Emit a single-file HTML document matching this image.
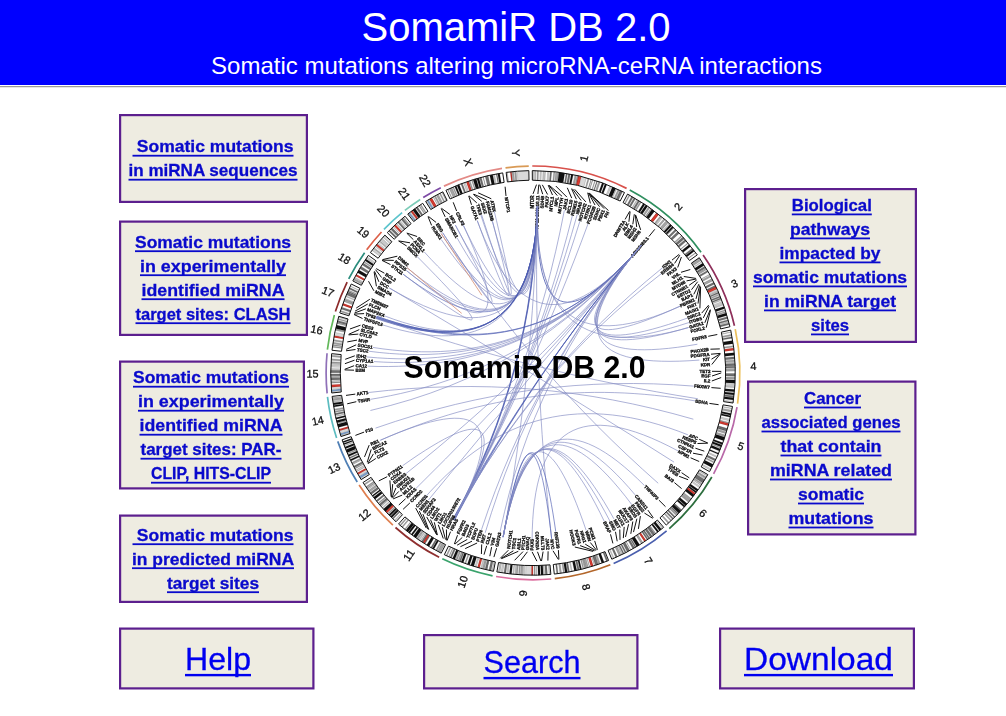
<!DOCTYPE html>
<html lang="en"><head><meta charset="utf-8"><title>SomamiR DB 2.0</title>
<style>
html,body{margin:0;padding:0;background:#fff;}
body{width:1006px;height:716px;overflow:hidden;position:relative;font-family:"Liberation Sans",sans-serif;}
#hdr{position:absolute;left:0;top:0;width:1006px;height:85px;background:#0000ff;color:#fff;}
#hdr h1{position:absolute;left:0;top:0;width:1032px;margin:0;text-align:center;font-weight:normal;font-size:40px;line-height:46px;top:4px;white-space:nowrap;}
#hdr p{position:absolute;left:0;top:51.5px;width:1033px;margin:0;text-align:center;font-size:24px;line-height:28px;white-space:nowrap;}
#rule{position:absolute;left:0;top:86px;width:1006px;height:1px;background:#9a9a9a;}
#rule2{position:absolute;left:0;top:87px;width:1006px;height:1px;background:#e6e6e6;}
#map{position:absolute;left:0;top:0;will-change:transform;}
#map text{font-family:"Liberation Sans",sans-serif;}
#circos{filter:blur(0.3px);}
#menu{filter:blur(0.3px);}
.bx{fill:#eeece1;stroke:#5c1f8e;stroke-width:2.2;}
</style></head><body>
<div id="hdr"><h1>SomamiR DB 2.0</h1><p>Somatic mutations altering microRNA-ceRNA interactions</p></div>
<div id="rule"></div><div id="rule2"></div>

<svg id="map" width="1006" height="716" viewBox="0 0 1006 716">
<g id="circos">
<path d="M532.28,166.00A206.90,206.90 0 0 1 626.58,188.37" fill="none" stroke="#d8514b" stroke-width="1.7"/>
<path d="M532.29,170.60A202.30,202.30 0 0 1 624.50,192.48L620.16,201.04A192.70,192.70 0 0 0 532.33,180.20Z" fill="#fff"/>
<path d="M533.18,170.60A202.30,202.30 0 0 1 534.37,170.60L534.30,180.20A192.70,192.70 0 0 0 533.17,180.20Z" fill="#d2d2d2"/>
<path d="M535.06,170.61A202.30,202.30 0 0 1 535.82,170.62L535.69,180.22A192.70,192.70 0 0 0 534.96,180.21Z" fill="#d2d2d2"/>
<path d="M537.17,170.64A202.30,202.30 0 0 1 538.51,170.68L538.25,180.27A192.70,192.70 0 0 0 536.97,180.24Z" fill="#a4a4a4"/>
<path d="M540.12,170.73A202.30,202.30 0 0 1 541.46,170.78L541.06,180.37A192.70,192.70 0 0 0 539.78,180.32Z" fill="#d2d2d2"/>
<path d="M543.04,170.85A202.30,202.30 0 0 1 543.88,170.89L543.36,180.48A192.70,192.70 0 0 0 542.56,180.44Z" fill="#d2d2d2"/>
<path d="M544.72,170.94A202.30,202.30 0 0 1 545.56,170.99L544.97,180.57A192.70,192.70 0 0 0 544.17,180.52Z" fill="#d2d2d2"/>
<path d="M547.67,171.13A202.30,202.30 0 0 1 549.20,171.25L548.43,180.82A192.70,192.70 0 0 0 546.97,180.71Z" fill="#d2d2d2"/>
<path d="M550.23,171.34A202.30,202.30 0 0 1 551.72,171.47L550.84,181.03A192.70,192.70 0 0 0 549.42,180.90Z" fill="#6e6e6e"/>
<path d="M553.79,171.67A202.30,202.30 0 0 1 554.89,171.79L553.86,181.33A192.70,192.70 0 0 0 552.80,181.22Z" fill="#a4a4a4"/>
<path d="M555.77,171.89A202.30,202.30 0 0 1 558.67,172.23L557.45,181.76A192.70,192.70 0 0 0 554.69,181.42Z" fill="#a4a4a4"/>
<path d="M558.97,172.27A202.30,202.30 0 0 1 564.75,173.11L563.24,182.59A192.70,192.70 0 0 0 557.74,181.79Z" fill="#101010"/>
<path d="M566.07,173.32A202.30,202.30 0 0 1 567.43,173.55L565.80,183.01A192.70,192.70 0 0 0 564.50,182.79Z" fill="#6e6e6e"/>
<path d="M568.45,173.73A202.30,202.30 0 0 1 570.34,174.08L568.57,183.51A192.70,192.70 0 0 0 566.77,183.18Z" fill="#6e6e6e"/>
<path d="M571.28,174.26A202.30,202.30 0 0 1 573.17,174.63L571.26,184.04A192.70,192.70 0 0 0 569.47,183.68Z" fill="#101010"/>
<path d="M574.90,174.99A202.30,202.30 0 0 1 576.51,175.33L574.44,184.71A192.70,192.70 0 0 0 572.91,184.38Z" fill="#a4a4a4"/>
<path d="M577.15,175.48A202.30,202.30 0 0 1 578.19,175.71L576.05,185.07A192.70,192.70 0 0 0 575.05,184.84Z" fill="#a4a4a4"/>
<path d="M578.23,175.72A202.30,202.30 0 0 1 581.59,176.52L579.28,185.84A192.70,192.70 0 0 0 576.08,185.08Z" fill="#d93a30"/>
<path d="M581.29,176.45A202.30,202.30 0 0 1 586.38,177.77L583.85,187.03A192.70,192.70 0 0 0 579.00,185.77Z" fill="#d8d8d8"/>
<path d="M588.01,178.22A202.30,202.30 0 0 1 589.23,178.57L586.56,187.79A192.70,192.70 0 0 0 585.40,187.46Z" fill="#a4a4a4"/>
<path d="M590.96,179.08A202.30,202.30 0 0 1 591.51,179.25L588.73,188.44A192.70,192.70 0 0 0 588.21,188.28Z" fill="#a4a4a4"/>
<path d="M592.46,179.54A202.30,202.30 0 0 1 592.98,179.69L590.13,188.86A192.70,192.70 0 0 0 589.64,188.71Z" fill="#a4a4a4"/>
<path d="M594.81,180.27A202.30,202.30 0 0 1 595.43,180.47L592.46,189.60A192.70,192.70 0 0 0 591.87,189.41Z" fill="#a4a4a4"/>
<path d="M596.78,180.92A202.30,202.30 0 0 1 597.50,181.16L594.44,190.26A192.70,192.70 0 0 0 593.75,190.03Z" fill="#6e6e6e"/>
<path d="M598.63,181.54A202.30,202.30 0 0 1 600.19,182.08L597.00,191.14A192.70,192.70 0 0 0 595.52,190.62Z" fill="#a4a4a4"/>
<path d="M602.18,182.79A202.30,202.30 0 0 1 603.98,183.46L600.61,192.45A192.70,192.70 0 0 0 598.89,191.82Z" fill="#101010"/>
<path d="M605.05,183.87A202.30,202.30 0 0 1 606.81,184.54L603.30,193.48A192.70,192.70 0 0 0 601.63,192.84Z" fill="#101010"/>
<path d="M609.83,185.76A202.30,202.30 0 0 1 611.36,186.39L607.64,195.24A192.70,192.70 0 0 0 606.19,194.64Z" fill="#d2d2d2"/>
<path d="M612.42,186.84A202.30,202.30 0 0 1 615.79,188.32L611.87,197.08A192.70,192.70 0 0 0 608.65,195.67Z" fill="#101010"/>
<path d="M615.97,188.40A202.30,202.30 0 0 1 616.81,188.78L612.83,197.51A192.70,192.70 0 0 0 612.03,197.15Z" fill="#d2d2d2"/>
<path d="M618.10,189.37A202.30,202.30 0 0 1 619.49,190.02L615.38,198.70A192.70,192.70 0 0 0 614.06,198.08Z" fill="#a4a4a4"/>
<path d="M620.15,190.33A202.30,202.30 0 0 1 622.60,191.52L618.35,200.13A192.70,192.70 0 0 0 616.01,199.00Z" fill="#6e6e6e"/>
<path d="M533.2,170.6L533.2,180.2M534.4,170.6L534.3,180.2M535.1,170.6L535.0,180.2M535.8,170.6L535.7,180.2M537.2,170.6L537.0,180.2M538.5,170.7L538.2,180.3M540.1,170.7L539.8,180.3M541.5,170.8L541.1,180.4M543.0,170.8L542.6,180.4M543.9,170.9L543.4,180.5M544.7,170.9L544.2,180.5M545.6,171.0L545.0,180.6M547.7,171.1L547.0,180.7M549.2,171.2L548.4,180.8M550.2,171.3L549.4,180.9M551.7,171.5L550.8,181.0M553.8,171.7L552.8,181.2M554.9,171.8L553.9,181.3M555.8,171.9L554.7,181.4M558.7,172.2L557.4,181.8M559.0,172.3L557.7,181.8M564.7,173.1L563.2,182.6M566.1,173.3L564.5,182.8M567.4,173.6L565.8,183.0M568.5,173.7L566.8,183.2M570.3,174.1L568.6,183.5M571.3,174.3L569.5,183.7M573.2,174.6L571.3,184.0M574.9,175.0L572.9,184.4M576.5,175.3L574.4,184.7M577.1,175.5L575.1,184.8M578.2,175.7L576.0,185.1M578.5,175.8L576.4,185.1M581.3,176.4L579.0,185.8M586.4,177.8L583.8,187.0M588.0,178.2L585.4,187.5M589.2,178.6L586.6,187.8M591.0,179.1L588.2,188.3M591.5,179.2L588.7,188.4M592.5,179.5L589.6,188.7M593.0,179.7L590.1,188.9M594.8,180.3L591.9,189.4M595.4,180.5L592.5,189.6M596.8,180.9L593.7,190.0M597.5,181.2L594.4,190.3M598.6,181.5L595.5,190.6M600.2,182.1L597.0,191.1M602.2,182.8L598.9,191.8M604.0,183.5L600.6,192.4M605.1,183.9L601.6,192.8M606.8,184.5L603.3,193.5M609.8,185.8L606.2,194.6M611.4,186.4L607.6,195.2M612.4,186.8L608.7,195.7M615.8,188.3L611.9,197.1M616.0,188.4L612.0,197.2M616.8,188.8L612.8,197.5M618.1,189.4L614.1,198.1M619.5,190.0L615.4,198.7M620.1,190.3L616.0,199.0M622.6,191.5L618.3,200.1" stroke="#000" stroke-opacity="0.3" stroke-width="0.5" fill="none"/>
<path d="M532.29,170.60A202.30,202.30 0 0 1 624.50,192.48L620.16,201.04A192.70,192.70 0 0 0 532.33,180.20Z" fill="none" stroke="#111" stroke-width="1.0"/>
<text x="583.9" y="158.4" transform="rotate(-76.7 583.9 158.4)" font-size="10.9" text-anchor="middle" dominant-baseline="central" fill="#111" stroke="#111" stroke-width="0.3">1</text>
<path d="M629.73,190.00A206.90,206.90 0 0 1 701.03,252.19" fill="none" stroke="#2f8f5f" stroke-width="1.7"/>
<path d="M627.58,194.07A202.30,202.30 0 0 1 697.30,254.87L689.50,260.47A192.70,192.70 0 0 0 623.09,202.55Z" fill="#fff"/>
<path d="M629.06,194.86A202.30,202.30 0 0 1 629.98,195.36L625.37,203.78A192.70,192.70 0 0 0 624.51,203.31Z" fill="#a4a4a4"/>
<path d="M631.69,196.30A202.30,202.30 0 0 1 633.19,197.15L628.44,205.49A192.70,192.70 0 0 0 627.01,204.69Z" fill="#6e6e6e"/>
<path d="M634.03,197.63A202.30,202.30 0 0 1 635.62,198.56L630.75,206.83A192.70,192.70 0 0 0 629.23,205.95Z" fill="#6e6e6e"/>
<path d="M636.90,199.32A202.30,202.30 0 0 1 637.59,199.74L632.63,207.95A192.70,192.70 0 0 0 631.97,207.56Z" fill="#d2d2d2"/>
<path d="M638.28,200.16A202.30,202.30 0 0 1 639.75,201.06L634.69,209.22A192.70,192.70 0 0 0 633.29,208.35Z" fill="#6e6e6e"/>
<path d="M640.41,201.47A202.30,202.30 0 0 1 641.44,202.12L636.30,210.23A192.70,192.70 0 0 0 635.31,209.60Z" fill="#a4a4a4"/>
<path d="M643.38,203.37A202.30,202.30 0 0 1 645.02,204.44L639.70,212.44A192.70,192.70 0 0 0 638.14,211.41Z" fill="#101010"/>
<path d="M645.69,204.89A202.30,202.30 0 0 1 647.69,206.25L642.24,214.16A192.70,192.70 0 0 0 640.34,212.86Z" fill="#101010"/>
<path d="M648.57,206.86A202.30,202.30 0 0 1 649.98,207.85L644.43,215.69A192.70,192.70 0 0 0 643.09,214.74Z" fill="#a4a4a4"/>
<path d="M650.89,208.50A202.30,202.30 0 0 1 651.51,208.95L645.89,216.73A192.70,192.70 0 0 0 645.30,216.30Z" fill="#a4a4a4"/>
<path d="M651.98,209.29A202.30,202.30 0 0 1 654.54,211.18L648.77,218.85A192.70,192.70 0 0 0 646.33,217.05Z" fill="#101010"/>
<path d="M656.49,212.67A202.30,202.30 0 0 1 658.88,214.54L652.91,222.05A192.70,192.70 0 0 0 650.63,220.27Z" fill="#d93a30"/>
<path d="M660.41,215.76A202.30,202.30 0 0 1 661.39,216.56L655.30,223.98A192.70,192.70 0 0 0 654.36,223.22Z" fill="#a4a4a4"/>
<path d="M661.83,216.93A202.30,202.30 0 0 1 662.63,217.59L656.48,224.96A192.70,192.70 0 0 0 655.72,224.33Z" fill="#d2d2d2"/>
<path d="M663.86,218.63A202.30,202.30 0 0 1 665.15,219.73L658.88,226.99A192.70,192.70 0 0 0 657.65,225.95Z" fill="#a4a4a4"/>
<path d="M666.19,220.63A202.30,202.30 0 0 1 668.34,222.54L661.92,229.68A192.70,192.70 0 0 0 659.87,227.86Z" fill="#a4a4a4"/>
<path d="M669.08,223.21A202.30,202.30 0 0 1 669.82,223.88L663.33,230.96A192.70,192.70 0 0 0 662.63,230.32Z" fill="#d2d2d2"/>
<path d="M670.30,224.33A202.30,202.30 0 0 1 671.81,225.74L665.23,232.72A192.70,192.70 0 0 0 663.78,231.38Z" fill="#101010"/>
<path d="M672.34,226.24A202.30,202.30 0 0 1 673.62,227.46L666.95,234.37A192.70,192.70 0 0 0 665.73,233.20Z" fill="#101010"/>
<path d="M673.95,227.78A202.30,202.30 0 0 1 674.11,227.95L667.42,234.82A192.70,192.70 0 0 0 667.26,234.67Z" fill="#d2d2d2"/>
<path d="M675.32,229.13A202.30,202.30 0 0 1 676.65,230.46L669.83,237.22A192.70,192.70 0 0 0 668.57,235.95Z" fill="#6e6e6e"/>
<path d="M677.70,231.52A202.30,202.30 0 0 1 679.30,233.18L672.36,239.81A192.70,192.70 0 0 0 670.83,238.23Z" fill="#6e6e6e"/>
<path d="M681.48,235.50A202.30,202.30 0 0 1 682.16,236.23L675.08,242.72A192.70,192.70 0 0 0 674.44,242.02Z" fill="#a4a4a4"/>
<path d="M682.78,236.92A202.30,202.30 0 0 1 684.42,238.74L677.23,245.11A192.70,192.70 0 0 0 675.67,243.37Z" fill="#6e6e6e"/>
<path d="M685.05,239.46A202.30,202.30 0 0 1 686.44,241.06L679.16,247.31A192.70,192.70 0 0 0 677.84,245.80Z" fill="#6e6e6e"/>
<path d="M687.90,242.78A202.30,202.30 0 0 1 688.30,243.25L680.93,249.41A192.70,192.70 0 0 0 680.55,248.96Z" fill="#a4a4a4"/>
<path d="M689.30,244.47A202.30,202.30 0 0 1 690.82,246.34L683.34,252.35A192.70,192.70 0 0 0 681.88,250.56Z" fill="#101010"/>
<path d="M692.30,248.21A202.30,202.30 0 0 1 693.17,249.33L685.57,255.19A192.70,192.70 0 0 0 684.74,254.13Z" fill="#6e6e6e"/>
<path d="M693.38,249.60A202.30,202.30 0 0 1 694.52,251.10L686.86,256.88A192.70,192.70 0 0 0 685.77,255.45Z" fill="#101010"/>
<path d="M695.58,252.51A202.30,202.30 0 0 1 695.97,253.04L688.23,258.73A192.70,192.70 0 0 0 687.86,258.23Z" fill="#a4a4a4"/>
<path d="M629.1,194.9L624.5,203.3M630.0,195.4L625.4,203.8M631.7,196.3L627.0,204.7M633.2,197.2L628.4,205.5M634.0,197.6L629.2,205.9M635.6,198.6L630.7,206.8M636.9,199.3L632.0,207.6M637.6,199.7L632.6,208.0M638.3,200.2L633.3,208.4M639.8,201.1L634.7,209.2M640.4,201.5L635.3,209.6M641.4,202.1L636.3,210.2M643.4,203.4L638.1,211.4M645.0,204.4L639.7,212.4M645.7,204.9L640.3,212.9M647.7,206.2L642.2,214.2M648.6,206.9L643.1,214.7M650.0,207.9L644.4,215.7M650.9,208.5L645.3,216.3M651.5,208.9L645.9,216.7M652.0,209.3L646.3,217.1M654.5,211.2L648.8,218.9M656.7,212.9L650.9,220.5M658.6,214.3L652.7,221.9M660.4,215.8L654.4,223.2M661.4,216.6L655.3,224.0M661.8,216.9L655.7,224.3M662.6,217.6L656.5,225.0M663.9,218.6L657.7,225.9M665.1,219.7L658.9,227.0M666.2,220.6L659.9,227.9M668.3,222.5L661.9,229.7M669.1,223.2L662.6,230.3M669.8,223.9L663.3,231.0M670.3,224.3L663.8,231.4M671.8,225.7L665.2,232.7M672.3,226.2L665.7,233.2M673.6,227.5L666.9,234.4M673.9,227.8L667.3,234.7M674.1,227.9L667.4,234.8M675.3,229.1L668.6,236.0M676.7,230.5L669.8,237.2M677.7,231.5L670.8,238.2M679.3,233.2L672.4,239.8M681.5,235.5L674.4,242.0M682.2,236.2L675.1,242.7M682.8,236.9L675.7,243.4M684.4,238.7L677.2,245.1M685.1,239.5L677.8,245.8M686.4,241.1L679.2,247.3M687.9,242.8L680.6,249.0M688.3,243.3L680.9,249.4M689.3,244.5L681.9,250.6M690.8,246.3L683.3,252.3M692.3,248.2L684.7,254.1M693.2,249.3L685.6,255.2M693.4,249.6L685.8,255.5M694.5,251.1L686.9,256.9M695.6,252.5L687.9,258.2M696.0,253.0L688.2,258.7" stroke="#000" stroke-opacity="0.3" stroke-width="0.5" fill="none"/>
<path d="M627.58,194.07A202.30,202.30 0 0 1 697.30,254.87L689.50,260.47A192.70,192.70 0 0 0 623.09,202.55Z" fill="none" stroke="#111" stroke-width="1.0"/>
<text x="677.9" y="206.7" transform="rotate(-48.9 677.9 206.7)" font-size="10.9" text-anchor="middle" dominant-baseline="central" fill="#111" stroke="#111" stroke-width="0.3">2</text>
<path d="M703.07,255.08A206.90,206.90 0 0 1 734.44,325.69" fill="none" stroke="#8e2f5a" stroke-width="1.7"/>
<path d="M699.29,257.70A202.30,202.30 0 0 1 729.96,326.74L720.62,328.93A192.70,192.70 0 0 0 691.40,263.16Z" fill="#fff"/>
<path d="M699.29,257.70A202.30,202.30 0 0 1 699.90,258.58L691.98,264.01A192.70,192.70 0 0 0 691.40,263.16Z" fill="#a4a4a4"/>
<path d="M700.16,258.96A202.30,202.30 0 0 1 701.17,260.46L693.19,265.79A192.70,192.70 0 0 0 692.23,264.37Z" fill="#a4a4a4"/>
<path d="M701.83,261.45A202.30,202.30 0 0 1 702.15,261.93L694.12,267.19A192.70,192.70 0 0 0 693.82,266.74Z" fill="#d2d2d2"/>
<path d="M702.80,262.93A202.30,202.30 0 0 1 704.34,265.35L696.21,270.46A192.70,192.70 0 0 0 694.74,268.14Z" fill="#101010"/>
<path d="M704.85,266.17A202.30,202.30 0 0 1 705.76,267.64L697.56,272.63A192.70,192.70 0 0 0 696.70,271.23Z" fill="#6e6e6e"/>
<path d="M706.00,268.03A202.30,202.30 0 0 1 706.87,269.48L698.61,274.39A192.70,192.70 0 0 0 697.79,273.01Z" fill="#a4a4a4"/>
<path d="M707.43,270.44A202.30,202.30 0 0 1 708.26,271.86L699.94,276.66A192.70,192.70 0 0 0 699.15,275.30Z" fill="#6e6e6e"/>
<path d="M709.57,274.17A202.30,202.30 0 0 1 709.89,274.74L701.49,279.39A192.70,192.70 0 0 0 701.19,278.85Z" fill="#d2d2d2"/>
<path d="M710.28,275.44A202.30,202.30 0 0 1 711.05,276.86L702.60,281.41A192.70,192.70 0 0 0 701.86,280.07Z" fill="#a4a4a4"/>
<path d="M711.97,278.58A202.30,202.30 0 0 1 713.05,280.66L704.50,285.04A192.70,192.70 0 0 0 703.48,283.06Z" fill="#a4a4a4"/>
<path d="M713.81,282.17A202.30,202.30 0 0 1 714.77,284.09L706.14,288.31A192.70,192.70 0 0 0 705.23,286.47Z" fill="#6e6e6e"/>
<path d="M715.38,285.37A202.30,202.30 0 0 1 715.99,286.65L707.31,290.75A192.70,192.70 0 0 0 706.73,289.52Z" fill="#6e6e6e"/>
<path d="M715.98,286.62A202.30,202.30 0 0 1 717.20,289.27L708.46,293.23A192.70,192.70 0 0 0 707.29,290.71Z" fill="#d93a30"/>
<path d="M717.08,288.99A202.30,202.30 0 0 1 717.77,290.53L709.00,294.43A192.70,192.70 0 0 0 708.34,292.97Z" fill="#d8d8d8"/>
<path d="M718.03,291.12A202.30,202.30 0 0 1 718.17,291.44L709.39,295.30A192.70,192.70 0 0 0 709.25,295.00Z" fill="#d2d2d2"/>
<path d="M718.47,292.11A202.30,202.30 0 0 1 718.98,293.30L710.16,297.08A192.70,192.70 0 0 0 709.66,295.94Z" fill="#6e6e6e"/>
<path d="M719.24,293.90A202.30,202.30 0 0 1 719.74,295.11L710.88,298.80A192.70,192.70 0 0 0 710.40,297.65Z" fill="#a4a4a4"/>
<path d="M720.07,295.89A202.30,202.30 0 0 1 720.62,297.24L711.71,300.83A192.70,192.70 0 0 0 711.19,299.54Z" fill="#6e6e6e"/>
<path d="M720.86,297.84A202.30,202.30 0 0 1 721.27,298.88L712.34,302.39A192.70,192.70 0 0 0 711.95,301.40Z" fill="#6e6e6e"/>
<path d="M721.54,299.56A202.30,202.30 0 0 1 721.81,300.27L712.85,303.72A192.70,192.70 0 0 0 712.59,303.04Z" fill="#d2d2d2"/>
<path d="M722.28,301.49A202.30,202.30 0 0 1 722.88,303.11L713.87,306.42A192.70,192.70 0 0 0 713.30,304.88Z" fill="#d2d2d2"/>
<path d="M723.14,303.83A202.30,202.30 0 0 1 723.53,304.91L714.49,308.14A192.70,192.70 0 0 0 714.12,307.11Z" fill="#d2d2d2"/>
<path d="M724.06,306.40A202.30,202.30 0 0 1 724.81,308.61L715.71,311.66A192.70,192.70 0 0 0 714.99,309.55Z" fill="#101010"/>
<path d="M725.20,309.78A202.30,202.30 0 0 1 725.55,310.84L716.41,313.78A192.70,192.70 0 0 0 716.08,312.77Z" fill="#a4a4a4"/>
<path d="M725.78,311.57A202.30,202.30 0 0 1 726.01,312.30L716.85,315.18A192.70,192.70 0 0 0 716.63,314.48Z" fill="#a4a4a4"/>
<path d="M726.20,312.92A202.30,202.30 0 0 1 726.97,315.46L717.77,318.18A192.70,192.70 0 0 0 717.04,315.77Z" fill="#101010"/>
<path d="M727.33,316.67A202.30,202.30 0 0 1 727.83,318.45L718.59,321.03A192.70,192.70 0 0 0 718.11,319.34Z" fill="#6e6e6e"/>
<path d="M728.17,319.67A202.30,202.30 0 0 1 728.54,321.04L719.26,323.50A192.70,192.70 0 0 0 718.91,322.19Z" fill="#6e6e6e"/>
<path d="M728.72,321.71A202.30,202.30 0 0 1 728.86,322.26L719.57,324.67A192.70,192.70 0 0 0 719.43,324.13Z" fill="#d2d2d2"/>
<path d="M729.04,322.97A202.30,202.30 0 0 1 729.45,324.61L720.13,326.90A192.70,192.70 0 0 0 719.74,325.34Z" fill="#6e6e6e"/>
<path d="M699.9,258.6L692.0,264.0M700.2,259.0L692.2,264.4M701.2,260.5L693.2,265.8M701.8,261.4L693.8,266.7M702.1,261.9L694.1,267.2M702.8,262.9L694.7,268.1M704.3,265.4L696.2,270.5M704.9,266.2L696.7,271.2M705.8,267.6L697.6,272.6M706.0,268.0L697.8,273.0M706.9,269.5L698.6,274.4M707.4,270.4L699.2,275.3M708.3,271.9L699.9,276.7M709.6,274.2L701.2,278.9M709.9,274.7L701.5,279.4M710.3,275.4L701.9,280.1M711.0,276.9L702.6,281.4M712.0,278.6L703.5,283.1M713.0,280.7L704.5,285.0M713.8,282.2L705.2,286.5M714.8,284.1L706.1,288.3M715.4,285.4L706.7,289.5M716.0,286.7L707.3,290.7M716.1,286.9L707.4,291.0M717.1,289.0L708.3,293.0M717.8,290.5L709.0,294.4M718.0,291.1L709.3,295.0M718.2,291.4L709.4,295.3M718.5,292.1L709.7,295.9M719.0,293.3L710.2,297.1M719.2,293.9L710.4,297.7M719.7,295.1L710.9,298.8M720.1,295.9L711.2,299.5M720.6,297.2L711.7,300.8M720.9,297.8L711.9,301.4M721.3,298.9L712.3,302.4M721.5,299.6L712.6,303.0M721.8,300.3L712.9,303.7M722.3,301.5L713.3,304.9M722.9,303.1L713.9,306.4M723.1,303.8L714.1,307.1M723.5,304.9L714.5,308.1M724.1,306.4L715.0,309.6M724.8,308.6L715.7,311.7M725.2,309.8L716.1,312.8M725.5,310.8L716.4,313.8M725.8,311.6L716.6,314.5M726.0,312.3L716.9,315.2M726.2,312.9L717.0,315.8M727.0,315.5L717.8,318.2M727.3,316.7L718.1,319.3M727.8,318.4L718.6,321.0M728.2,319.7L718.9,322.2M728.5,321.0L719.3,323.5M728.7,321.7L719.4,324.1M728.9,322.3L719.6,324.7M729.0,323.0L719.7,325.3M729.5,324.6L720.1,326.9" stroke="#000" stroke-opacity="0.3" stroke-width="0.5" fill="none"/>
<path d="M699.29,257.70A202.30,202.30 0 0 1 729.96,326.74L720.62,328.93A192.70,192.70 0 0 0 691.40,263.16Z" fill="none" stroke="#111" stroke-width="1.0"/>
<text x="734.5" y="283.4" transform="rotate(-24.0 734.5 283.4)" font-size="10.9" text-anchor="middle" dominant-baseline="central" fill="#111" stroke="#111" stroke-width="0.3">3</text>
<path d="M735.22,329.14A206.90,206.90 0 0 1 737.59,403.72" fill="none" stroke="#ecc05c" stroke-width="1.7"/>
<path d="M730.72,330.12A202.30,202.30 0 0 1 733.04,403.04L723.55,401.61A192.70,192.70 0 0 0 721.34,332.15Z" fill="#fff"/>
<path d="M731.08,331.81A202.30,202.30 0 0 1 731.20,332.37L721.79,334.29A192.70,192.70 0 0 0 721.68,333.76Z" fill="#d2d2d2"/>
<path d="M731.60,334.36A202.30,202.30 0 0 1 731.88,335.83L722.44,337.59A192.70,192.70 0 0 0 722.17,336.19Z" fill="#a4a4a4"/>
<path d="M732.06,336.82A202.30,202.30 0 0 1 732.29,338.14L722.83,339.79A192.70,192.70 0 0 0 722.61,338.53Z" fill="#6e6e6e"/>
<path d="M732.70,340.56A202.30,202.30 0 0 1 733.17,343.63L723.67,345.02A192.70,192.70 0 0 0 723.22,342.10Z" fill="#101010"/>
<path d="M733.46,345.69A202.30,202.30 0 0 1 733.63,346.98L724.11,348.21A192.70,192.70 0 0 0 723.95,346.98Z" fill="#a4a4a4"/>
<path d="M733.77,348.04A202.30,202.30 0 0 1 734.04,350.37L724.50,351.44A192.70,192.70 0 0 0 724.24,349.22Z" fill="#d93a30"/>
<path d="M734.28,352.66A202.30,202.30 0 0 1 734.54,355.37L724.98,356.20A192.70,192.70 0 0 0 724.73,353.62Z" fill="#101010"/>
<path d="M734.66,356.86A202.30,202.30 0 0 1 734.83,359.08L725.25,359.74A192.70,192.70 0 0 0 725.09,357.63Z" fill="#6e6e6e"/>
<path d="M734.89,360.08A202.30,202.30 0 0 1 734.97,361.42L725.39,361.97A192.70,192.70 0 0 0 725.31,360.69Z" fill="#a4a4a4"/>
<path d="M735.01,362.07A202.30,202.30 0 0 1 735.06,363.15L725.48,363.61A192.70,192.70 0 0 0 725.42,362.59Z" fill="#d2d2d2"/>
<path d="M735.08,363.57A202.30,202.30 0 0 1 735.17,365.75L725.58,366.09A192.70,192.70 0 0 0 725.49,364.01Z" fill="#6e6e6e"/>
<path d="M735.19,366.29A202.30,202.30 0 0 1 735.23,367.71L725.64,367.96A192.70,192.70 0 0 0 725.60,366.60Z" fill="#6e6e6e"/>
<path d="M735.25,368.59A202.30,202.30 0 0 1 735.29,371.12L725.69,371.21A192.70,192.70 0 0 0 725.66,368.80Z" fill="#a4a4a4"/>
<path d="M735.30,373.58A202.30,202.30 0 0 1 735.27,376.15L725.68,376.00A192.70,192.70 0 0 0 725.70,373.55Z" fill="#6e6e6e"/>
<path d="M735.25,377.30A202.30,202.30 0 0 1 735.20,379.22L725.61,378.92A192.70,192.70 0 0 0 725.65,377.09Z" fill="#a4a4a4"/>
<path d="M735.17,380.10A202.30,202.30 0 0 1 735.03,383.32L725.44,382.83A192.70,192.70 0 0 0 725.58,379.76Z" fill="#101010"/>
<path d="M734.99,384.09A202.30,202.30 0 0 1 734.87,386.12L725.29,385.49A192.70,192.70 0 0 0 725.40,383.56Z" fill="#d2d2d2"/>
<path d="M734.82,386.77A202.30,202.30 0 0 1 734.75,387.77L725.18,387.06A192.70,192.70 0 0 0 725.25,386.11Z" fill="#d2d2d2"/>
<path d="M734.62,389.49A202.30,202.30 0 0 1 734.41,391.86L724.85,390.96A192.70,192.70 0 0 0 725.05,388.70Z" fill="#101010"/>
<path d="M734.31,392.89A202.30,202.30 0 0 1 734.09,395.03L724.54,393.98A192.70,192.70 0 0 0 724.76,391.94Z" fill="#101010"/>
<path d="M734.01,395.71A202.30,202.30 0 0 1 733.81,397.39L724.28,396.23A192.70,192.70 0 0 0 724.47,394.63Z" fill="#6e6e6e"/>
<path d="M733.76,397.85A202.30,202.30 0 0 1 733.47,400.02L723.96,398.73A192.70,192.70 0 0 0 724.23,396.66Z" fill="#101010"/>
<path d="M733.27,401.50A202.30,202.30 0 0 1 733.04,403.04L723.55,401.61A192.70,192.70 0 0 0 723.76,400.14Z" fill="#d2d2d2"/>
<path d="M731.1,331.8L721.7,333.8M731.2,332.4L721.8,334.3M731.6,334.4L722.2,336.2M731.9,335.8L722.4,337.6M732.1,336.8L722.6,338.5M732.3,338.1L722.8,339.8M732.7,340.6L723.2,342.1M733.2,343.6L723.7,345.0M733.5,345.7L723.9,347.0M733.6,347.0L724.1,348.2M733.8,348.3L724.3,349.5M734.0,350.1L724.5,351.1M734.3,352.7L724.7,353.6M734.5,355.4L725.0,356.2M734.7,356.9L725.1,357.6M734.8,359.1L725.3,359.7M734.9,360.1L725.3,360.7M735.0,361.4L725.4,362.0M735.0,362.1L725.4,362.6M735.1,363.1L725.5,363.6M735.1,363.6L725.5,364.0M735.2,365.8L725.6,366.1M735.2,366.3L725.6,366.6M735.2,367.7L725.6,368.0M735.3,368.6L725.7,368.8M735.3,371.1L725.7,371.2M735.3,373.6L725.7,373.5M735.3,376.2L725.7,376.0M735.3,377.3L725.7,377.1M735.2,379.2L725.6,378.9M735.2,380.1L725.6,379.8M735.0,383.3L725.4,382.8M735.0,384.1L725.4,383.6M734.9,386.1L725.3,385.5M734.8,386.8L725.2,386.1M734.8,387.8L725.2,387.1M734.6,389.5L725.1,388.7M734.4,391.9L724.9,391.0M734.3,392.9L724.8,391.9M734.1,395.0L724.5,394.0M734.0,395.7L724.5,394.6M733.8,397.4L724.3,396.2M733.8,397.8L724.2,396.7M733.5,400.0L724.0,398.7M733.3,401.5L723.8,400.1" stroke="#000" stroke-opacity="0.3" stroke-width="0.5" fill="none"/>
<path d="M730.72,330.12A202.30,202.30 0 0 1 733.04,403.04L723.55,401.61A192.70,192.70 0 0 0 721.34,332.15Z" fill="none" stroke="#111" stroke-width="1.0"/>
<text x="753.4" y="365.9" transform="rotate(-1.8 753.4 365.9)" font-size="10.9" text-anchor="middle" dominant-baseline="central" fill="#111" stroke="#111" stroke-width="0.3">4</text>
<path d="M737.03,407.22A206.90,206.90 0 0 1 713.59,473.88" fill="none" stroke="#b868a8" stroke-width="1.7"/>
<path d="M732.50,406.45A202.30,202.30 0 0 1 709.57,471.63L701.19,466.95A192.70,192.70 0 0 0 723.03,404.86Z" fill="#fff"/>
<path d="M732.20,408.16A202.30,202.30 0 0 1 732.08,408.84L722.64,407.13A192.70,192.70 0 0 0 722.75,406.48Z" fill="#d2d2d2"/>
<path d="M731.84,410.16A202.30,202.30 0 0 1 731.46,412.12L722.04,410.26A192.70,192.70 0 0 0 722.40,408.39Z" fill="#a4a4a4"/>
<path d="M731.21,413.40A202.30,202.30 0 0 1 730.82,415.24L721.43,413.23A192.70,192.70 0 0 0 721.80,411.47Z" fill="#101010"/>
<path d="M730.72,415.72A202.30,202.30 0 0 1 730.36,417.34L720.99,415.23A192.70,192.70 0 0 0 721.33,413.69Z" fill="#101010"/>
<path d="M729.94,419.17A202.30,202.30 0 0 1 729.53,420.89L720.20,418.61A192.70,192.70 0 0 0 720.59,416.97Z" fill="#d2d2d2"/>
<path d="M729.15,422.41A202.30,202.30 0 0 1 728.80,423.75L719.51,421.34A192.70,192.70 0 0 0 719.84,420.06Z" fill="#a4a4a4"/>
<path d="M728.88,423.45A202.30,202.30 0 0 1 728.27,425.75L719.01,423.25A192.70,192.70 0 0 0 719.59,421.06Z" fill="#d93a30"/>
<path d="M727.51,428.49A202.30,202.30 0 0 1 727.08,429.96L717.87,427.26A192.70,192.70 0 0 0 718.28,425.85Z" fill="#6e6e6e"/>
<path d="M727.05,430.08A202.30,202.30 0 0 1 726.67,431.36L717.48,428.59A192.70,192.70 0 0 0 717.84,427.36Z" fill="#6e6e6e"/>
<path d="M726.48,431.99A202.30,202.30 0 0 1 725.92,433.78L716.77,430.89A192.70,192.70 0 0 0 717.30,429.18Z" fill="#a4a4a4"/>
<path d="M725.50,435.10A202.30,202.30 0 0 1 724.96,436.74L715.85,433.71A192.70,192.70 0 0 0 716.37,432.15Z" fill="#a4a4a4"/>
<path d="M724.79,437.25A202.30,202.30 0 0 1 723.60,440.70L714.56,437.48A192.70,192.70 0 0 0 715.69,434.20Z" fill="#101010"/>
<path d="M722.83,442.82A202.30,202.30 0 0 1 722.21,444.48L713.23,441.08A192.70,192.70 0 0 0 713.82,439.51Z" fill="#101010"/>
<path d="M721.98,445.09A202.30,202.30 0 0 1 721.27,446.91L712.34,443.40A192.70,192.70 0 0 0 713.01,441.66Z" fill="#101010"/>
<path d="M721.01,447.59A202.30,202.30 0 0 1 720.78,448.16L711.87,444.59A192.70,192.70 0 0 0 712.08,444.05Z" fill="#a4a4a4"/>
<path d="M720.48,448.91A202.30,202.30 0 0 1 719.57,451.11L710.72,447.40A192.70,192.70 0 0 0 711.58,445.30Z" fill="#101010"/>
<path d="M718.68,453.19A202.30,202.30 0 0 1 718.18,454.35L709.39,450.49A192.70,192.70 0 0 0 709.87,449.38Z" fill="#101010"/>
<path d="M717.30,456.32A202.30,202.30 0 0 1 716.78,457.47L708.05,453.46A192.70,192.70 0 0 0 708.56,452.36Z" fill="#d2d2d2"/>
<path d="M715.97,459.21A202.30,202.30 0 0 1 715.09,461.04L706.45,456.86A192.70,192.70 0 0 0 707.28,455.11Z" fill="#6e6e6e"/>
<path d="M714.60,462.04A202.30,202.30 0 0 1 714.09,463.08L705.50,458.80A192.70,192.70 0 0 0 705.98,457.81Z" fill="#a4a4a4"/>
<path d="M713.37,464.52A202.30,202.30 0 0 1 711.85,467.45L703.36,462.96A192.70,192.70 0 0 0 704.81,460.17Z" fill="#101010"/>
<path d="M711.07,468.90A202.30,202.30 0 0 1 710.37,470.18L701.96,465.57A192.70,192.70 0 0 0 702.62,464.35Z" fill="#d2d2d2"/>
<path d="M732.2,408.2L722.8,406.5M732.1,408.8L722.6,407.1M731.8,410.2L722.4,408.4M731.5,412.1L722.0,410.3M731.2,413.4L721.8,411.5M730.8,415.2L721.4,413.2M730.7,415.7L721.3,413.7M730.4,417.3L721.0,415.2M729.9,419.2L720.6,417.0M729.5,420.9L720.2,418.6M729.1,422.4L719.8,420.1M728.8,423.8L719.5,421.3M728.4,425.5L719.1,423.0M727.5,428.5L718.3,425.9M727.1,430.0L717.9,427.3M727.1,430.1L717.8,427.4M726.7,431.4L717.5,428.6M726.5,432.0L717.3,429.2M725.9,433.8L716.8,430.9M725.5,435.1L716.4,432.1M725.0,436.7L715.9,433.7M724.8,437.2L715.7,434.2M723.6,440.7L714.6,437.5M722.8,442.8L713.8,439.5M722.2,444.5L713.2,441.1M722.0,445.1L713.0,441.7M721.3,446.9L712.3,443.4M721.0,447.6L712.1,444.0M720.8,448.2L711.9,444.6M720.5,448.9L711.6,445.3M719.6,451.1L710.7,447.4M718.7,453.2L709.9,449.4M718.2,454.4L709.4,450.5M717.3,456.3L708.6,452.4M716.8,457.5L708.1,453.5M716.0,459.2L707.3,455.1M715.1,461.0L706.4,456.9M714.6,462.0L706.0,457.8M714.1,463.1L705.5,458.8M713.4,464.5L704.8,460.2M711.8,467.4L703.4,463.0M711.1,468.9L702.6,464.3M710.4,470.2L702.0,465.6" stroke="#000" stroke-opacity="0.3" stroke-width="0.5" fill="none"/>
<path d="M732.50,406.45A202.30,202.30 0 0 1 709.57,471.63L701.19,466.95A192.70,192.70 0 0 0 723.03,404.86Z" fill="none" stroke="#111" stroke-width="1.0"/>
<text x="741.0" y="446.1" transform="rotate(19.4 741.0 446.1)" font-size="10.9" text-anchor="middle" dominant-baseline="central" fill="#111" stroke="#111" stroke-width="0.3">5</text>
<path d="M711.83,476.95A206.90,206.90 0 0 1 669.30,528.56" fill="none" stroke="#2d6e3e" stroke-width="1.7"/>
<path d="M707.86,474.64A202.30,202.30 0 0 1 666.27,525.10L659.95,517.87A192.70,192.70 0 0 0 699.56,469.81Z" fill="#fff"/>
<path d="M707.41,475.40A202.30,202.30 0 0 1 707.04,476.03L698.78,471.13A192.70,192.70 0 0 0 699.13,470.54Z" fill="#d2d2d2"/>
<path d="M706.47,476.98A202.30,202.30 0 0 1 705.78,478.13L697.58,473.14A192.70,192.70 0 0 0 698.24,472.04Z" fill="#a4a4a4"/>
<path d="M705.58,478.46A202.30,202.30 0 0 1 705.21,479.05L697.04,474.01A192.70,192.70 0 0 0 697.39,473.45Z" fill="#d2d2d2"/>
<path d="M704.85,479.64A202.30,202.30 0 0 1 702.79,482.88L694.74,477.66A192.70,192.70 0 0 0 696.70,474.57Z" fill="#6e6e6e"/>
<path d="M702.42,483.46A202.30,202.30 0 0 1 701.70,484.55L693.70,479.25A192.70,192.70 0 0 0 694.38,478.21Z" fill="#a4a4a4"/>
<path d="M701.34,485.09A202.30,202.30 0 0 1 701.04,485.54L693.07,480.19A192.70,192.70 0 0 0 693.35,479.77Z" fill="#d2d2d2"/>
<path d="M700.38,486.52A202.30,202.30 0 0 1 699.53,487.76L691.63,482.31A192.70,192.70 0 0 0 692.43,481.13Z" fill="#d2d2d2"/>
<path d="M698.28,489.55A202.30,202.30 0 0 1 697.03,491.30L689.25,485.68A192.70,192.70 0 0 0 690.44,484.02Z" fill="#101010"/>
<path d="M696.78,491.64A202.30,202.30 0 0 1 695.85,492.91L688.13,487.22A192.70,192.70 0 0 0 689.01,486.01Z" fill="#101010"/>
<path d="M695.65,493.19A202.30,202.30 0 0 1 694.22,495.10L686.57,489.30A192.70,192.70 0 0 0 687.93,487.48Z" fill="#d93a30"/>
<path d="M694.39,494.88A202.30,202.30 0 0 1 692.85,496.89L685.26,491.01A192.70,192.70 0 0 0 686.73,489.09Z" fill="#101010"/>
<path d="M691.45,498.68A202.30,202.30 0 0 1 689.52,501.07L682.09,494.98A192.70,192.70 0 0 0 683.93,492.71Z" fill="#a4a4a4"/>
<path d="M689.28,501.36A202.30,202.30 0 0 1 688.52,502.28L681.14,496.14A192.70,192.70 0 0 0 681.86,495.27Z" fill="#a4a4a4"/>
<path d="M687.26,503.78A202.30,202.30 0 0 1 685.66,505.64L678.42,499.34A192.70,192.70 0 0 0 679.94,497.57Z" fill="#101010"/>
<path d="M685.38,505.96A202.30,202.30 0 0 1 684.14,507.37L676.97,500.99A192.70,192.70 0 0 0 678.15,499.65Z" fill="#101010"/>
<path d="M681.80,509.96A202.30,202.30 0 0 1 680.83,511.00L673.81,504.45A192.70,192.70 0 0 0 674.73,503.46Z" fill="#6e6e6e"/>
<path d="M680.78,511.06A202.30,202.30 0 0 1 678.77,513.17L671.85,506.52A192.70,192.70 0 0 0 673.76,504.50Z" fill="#101010"/>
<path d="M678.50,513.45A202.30,202.30 0 0 1 677.65,514.33L670.78,507.62A192.70,192.70 0 0 0 671.60,506.78Z" fill="#6e6e6e"/>
<path d="M677.41,514.58A202.30,202.30 0 0 1 676.33,515.67L669.53,508.89A192.70,192.70 0 0 0 670.55,507.85Z" fill="#a4a4a4"/>
<path d="M675.29,516.70A202.30,202.30 0 0 1 674.25,517.72L667.55,510.85A192.70,192.70 0 0 0 668.54,509.87Z" fill="#6e6e6e"/>
<path d="M673.48,518.47A202.30,202.30 0 0 1 672.54,519.37L665.92,512.42A192.70,192.70 0 0 0 666.82,511.56Z" fill="#6e6e6e"/>
<path d="M671.56,520.29A202.30,202.30 0 0 1 670.72,521.08L664.19,514.05A192.70,192.70 0 0 0 664.99,513.30Z" fill="#a4a4a4"/>
<path d="M669.17,522.51A202.30,202.30 0 0 1 668.17,523.41L661.76,516.27A192.70,192.70 0 0 0 662.71,515.41Z" fill="#a4a4a4"/>
<path d="M707.4,475.4L699.1,470.5M707.0,476.0L698.8,471.1M706.5,477.0L698.2,472.0M705.8,478.1L697.6,473.1M705.6,478.5L697.4,473.5M705.2,479.0L697.0,474.0M704.9,479.6L696.7,474.6M702.8,482.9L694.7,477.7M702.4,483.5L694.4,478.2M701.7,484.5L693.7,479.2M701.3,485.1L693.4,479.8M701.0,485.5L693.1,480.2M700.4,486.5L692.4,481.1M699.5,487.8L691.6,482.3M698.3,489.6L690.4,484.0M697.0,491.3L689.2,485.7M696.8,491.6L689.0,486.0M695.9,492.9L688.1,487.2M695.5,493.4L687.8,487.7M694.4,494.9L686.7,489.1M694.4,494.9L686.7,489.1M692.8,496.9L685.3,491.0M691.4,498.7L683.9,492.7M689.5,501.1L682.1,495.0M689.3,501.4L681.9,495.3M688.5,502.3L681.1,496.1M687.3,503.8L679.9,497.6M685.7,505.6L678.4,499.3M685.4,506.0L678.2,499.6M684.1,507.4L677.0,501.0M681.8,510.0L674.7,503.5M680.8,511.0L673.8,504.4M680.8,511.1L673.8,504.5M678.8,513.2L671.9,506.5M678.5,513.4L671.6,506.8M677.6,514.3L670.8,507.6M677.4,514.6L670.6,507.9M676.3,515.7L669.5,508.9M675.3,516.7L668.5,509.9M674.3,517.7L667.6,510.8M673.5,518.5L666.8,511.6M672.5,519.4L665.9,512.4M671.6,520.3L665.0,513.3M670.7,521.1L664.2,514.0M669.2,522.5L662.7,515.4M668.2,523.4L661.8,516.3" stroke="#000" stroke-opacity="0.3" stroke-width="0.5" fill="none"/>
<path d="M707.86,474.64A202.30,202.30 0 0 1 666.27,525.10L659.95,517.87A192.70,192.70 0 0 0 699.56,469.81Z" fill="none" stroke="#111" stroke-width="1.0"/>
<text x="703.2" y="513.1" transform="rotate(39.5 703.2 513.1)" font-size="10.9" text-anchor="middle" dominant-baseline="central" fill="#111" stroke="#111" stroke-width="0.3">6</text>
<path d="M666.62,530.86A206.90,206.90 0 0 1 613.61,563.45" fill="none" stroke="#4a5fae" stroke-width="1.7"/>
<path d="M663.65,527.35A202.30,202.30 0 0 1 611.82,559.21L608.08,550.37A192.70,192.70 0 0 0 657.45,520.02Z" fill="#fff"/>
<path d="M662.83,528.04A202.30,202.30 0 0 1 662.33,528.46L656.19,521.08A192.70,192.70 0 0 0 656.67,520.68Z" fill="#d2d2d2"/>
<path d="M661.50,529.15A202.30,202.30 0 0 1 659.56,530.72L653.56,523.23A192.70,192.70 0 0 0 655.40,521.73Z" fill="#101010"/>
<path d="M658.75,531.37A202.30,202.30 0 0 1 657.43,532.41L651.52,524.84A192.70,192.70 0 0 0 652.79,523.85Z" fill="#101010"/>
<path d="M656.03,533.49A202.30,202.30 0 0 1 655.27,534.07L649.46,526.42A192.70,192.70 0 0 0 650.19,525.87Z" fill="#a4a4a4"/>
<path d="M655.02,534.26A202.30,202.30 0 0 1 653.12,535.68L647.42,527.96A192.70,192.70 0 0 0 649.23,526.60Z" fill="#6e6e6e"/>
<path d="M652.43,536.18A202.30,202.30 0 0 1 650.54,537.55L644.96,529.74A192.70,192.70 0 0 0 646.77,528.43Z" fill="#6e6e6e"/>
<path d="M649.88,538.02A202.30,202.30 0 0 1 648.75,538.81L643.26,530.94A192.70,192.70 0 0 0 644.33,530.18Z" fill="#6e6e6e"/>
<path d="M648.28,539.14A202.30,202.30 0 0 1 647.17,539.90L641.75,531.98A192.70,192.70 0 0 0 642.81,531.25Z" fill="#6e6e6e"/>
<path d="M646.15,540.59A202.30,202.30 0 0 1 644.46,541.72L639.17,533.71A192.70,192.70 0 0 0 640.79,532.64Z" fill="#d93a30"/>
<path d="M643.02,542.67A202.30,202.30 0 0 1 641.34,543.75L636.20,535.64A192.70,192.70 0 0 0 637.80,534.61Z" fill="#a4a4a4"/>
<path d="M639.61,544.83A202.30,202.30 0 0 1 636.70,546.60L631.78,538.36A192.70,192.70 0 0 0 634.56,536.67Z" fill="#101010"/>
<path d="M636.10,546.95A202.30,202.30 0 0 1 635.14,547.52L630.30,539.23A192.70,192.70 0 0 0 631.21,538.70Z" fill="#6e6e6e"/>
<path d="M634.58,547.85A202.30,202.30 0 0 1 632.85,548.84L628.11,540.49A192.70,192.70 0 0 0 629.76,539.55Z" fill="#6e6e6e"/>
<path d="M630.91,549.93A202.30,202.30 0 0 1 630.67,550.06L626.04,541.65A192.70,192.70 0 0 0 626.26,541.53Z" fill="#a4a4a4"/>
<path d="M629.70,550.59A202.30,202.30 0 0 1 627.26,551.90L622.79,543.40A192.70,192.70 0 0 0 625.11,542.16Z" fill="#6e6e6e"/>
<path d="M626.31,552.40A202.30,202.30 0 0 1 625.05,553.05L620.68,544.50A192.70,192.70 0 0 0 621.88,543.88Z" fill="#6e6e6e"/>
<path d="M624.12,553.52A202.30,202.30 0 0 1 622.99,554.08L618.72,545.48A192.70,192.70 0 0 0 619.80,544.94Z" fill="#6e6e6e"/>
<path d="M622.27,554.44A202.30,202.30 0 0 1 621.85,554.64L617.64,546.02A192.70,192.70 0 0 0 618.03,545.83Z" fill="#d2d2d2"/>
<path d="M621.09,555.01A202.30,202.30 0 0 1 619.15,555.94L615.07,547.25A192.70,192.70 0 0 0 616.91,546.37Z" fill="#a4a4a4"/>
<path d="M617.45,556.73A202.30,202.30 0 0 1 615.77,557.49L611.84,548.73A192.70,192.70 0 0 0 613.44,548.01Z" fill="#6e6e6e"/>
<path d="M614.12,558.22A202.30,202.30 0 0 1 613.24,558.61L609.43,549.79A192.70,192.70 0 0 0 610.27,549.43Z" fill="#d2d2d2"/>
<path d="M662.8,528.0L656.7,520.7M662.3,528.5L656.2,521.1M661.5,529.1L655.4,521.7M659.6,530.7L653.6,523.2M658.8,531.4L652.8,523.8M657.4,532.4L651.5,524.8M656.0,533.5L650.2,525.9M655.3,534.1L649.5,526.4M655.0,534.3L649.2,526.6M653.1,535.7L647.4,528.0M652.4,536.2L646.8,528.4M650.5,537.6L645.0,529.7M649.9,538.0L644.3,530.2M648.7,538.8L643.3,530.9M648.3,539.1L642.8,531.3M647.2,539.9L641.8,532.0M645.9,540.8L640.5,532.8M644.7,541.6L639.4,533.6M643.0,542.7L637.8,534.6M641.3,543.7L636.2,535.6M639.6,544.8L634.6,536.7M636.7,546.6L631.8,538.4M636.1,547.0L631.2,538.7M635.1,547.5L630.3,539.2M634.6,547.8L629.8,539.5M632.8,548.8L628.1,540.5M630.9,549.9L626.3,541.5M630.7,550.1L626.0,541.7M629.7,550.6L625.1,542.2M627.3,551.9L622.8,543.4M626.3,552.4L621.9,543.9M625.0,553.0L620.7,544.5M624.1,553.5L619.8,544.9M623.0,554.1L618.7,545.5M622.3,554.4L618.0,545.8M621.9,554.6L617.6,546.0M621.1,555.0L616.9,546.4M619.2,555.9L615.1,547.3M617.4,556.7L613.4,548.0M615.8,557.5L611.8,548.7M614.1,558.2L610.3,549.4M613.2,558.6L609.4,549.8" stroke="#000" stroke-opacity="0.3" stroke-width="0.5" fill="none"/>
<path d="M663.65,527.35A202.30,202.30 0 0 1 611.82,559.21L608.08,550.37A192.70,192.70 0 0 0 657.45,520.02Z" fill="none" stroke="#111" stroke-width="1.0"/>
<text x="648.5" y="560.7" transform="rotate(58.4 648.5 560.7)" font-size="10.9" text-anchor="middle" dominant-baseline="central" fill="#111" stroke="#111" stroke-width="0.3">7</text>
<path d="M610.34,564.80A206.90,206.90 0 0 1 554.78,578.65" fill="none" stroke="#b3662a" stroke-width="1.7"/>
<path d="M608.62,560.54A202.30,202.30 0 0 1 554.29,574.08L553.28,564.53A192.70,192.70 0 0 0 605.03,551.63Z" fill="#fff"/>
<path d="M607.84,560.85A202.30,202.30 0 0 1 606.41,561.41L602.92,552.47A192.70,192.70 0 0 0 604.28,551.93Z" fill="#6e6e6e"/>
<path d="M604.08,562.30A202.30,202.30 0 0 1 601.81,563.14L598.54,554.11A192.70,192.70 0 0 0 600.70,553.31Z" fill="#101010"/>
<path d="M600.25,563.69A202.30,202.30 0 0 1 598.77,564.21L595.65,555.13A192.70,192.70 0 0 0 597.06,554.64Z" fill="#a4a4a4"/>
<path d="M598.26,564.38A202.30,202.30 0 0 1 595.46,565.32L592.49,556.19A192.70,192.70 0 0 0 595.16,555.30Z" fill="#6e6e6e"/>
<path d="M594.80,565.53A202.30,202.30 0 0 1 594.29,565.69L591.38,556.54A192.70,192.70 0 0 0 591.87,556.39Z" fill="#d2d2d2"/>
<path d="M593.34,565.99A202.30,202.30 0 0 1 590.91,566.73L588.16,557.54A192.70,192.70 0 0 0 590.47,556.83Z" fill="#d93a30"/>
<path d="M589.70,567.09A202.30,202.30 0 0 1 589.55,567.14L586.87,557.92A192.70,192.70 0 0 0 587.01,557.88Z" fill="#6e6e6e"/>
<path d="M588.48,567.44A202.30,202.30 0 0 1 586.23,568.07L583.70,558.81A192.70,192.70 0 0 0 585.85,558.21Z" fill="#a4a4a4"/>
<path d="M586.00,568.13A202.30,202.30 0 0 1 584.60,568.51L582.15,559.23A192.70,192.70 0 0 0 583.49,558.87Z" fill="#a4a4a4"/>
<path d="M583.85,568.70A202.30,202.30 0 0 1 582.92,568.94L580.55,559.64A192.70,192.70 0 0 0 581.44,559.41Z" fill="#a4a4a4"/>
<path d="M581.66,569.26A202.30,202.30 0 0 1 580.02,569.66L577.79,560.32A192.70,192.70 0 0 0 579.35,559.94Z" fill="#101010"/>
<path d="M579.35,569.82A202.30,202.30 0 0 1 577.66,570.21L575.54,560.85A192.70,192.70 0 0 0 577.15,560.48Z" fill="#6e6e6e"/>
<path d="M576.80,570.40A202.30,202.30 0 0 1 574.40,570.92L572.44,561.52A192.70,192.70 0 0 0 574.72,561.03Z" fill="#101010"/>
<path d="M572.26,571.35A202.30,202.30 0 0 1 571.28,571.55L569.46,562.12A192.70,192.70 0 0 0 570.39,561.94Z" fill="#d2d2d2"/>
<path d="M569.54,571.87A202.30,202.30 0 0 1 567.92,572.16L566.26,562.71A192.70,192.70 0 0 0 567.81,562.43Z" fill="#6e6e6e"/>
<path d="M567.31,572.27A202.30,202.30 0 0 1 565.19,572.62L563.67,563.14A192.70,192.70 0 0 0 565.68,562.81Z" fill="#101010"/>
<path d="M564.62,572.71A202.30,202.30 0 0 1 563.37,572.91L561.93,563.42A192.70,192.70 0 0 0 563.12,563.23Z" fill="#a4a4a4"/>
<path d="M561.55,573.18A202.30,202.30 0 0 1 559.95,573.40L558.67,563.88A192.70,192.70 0 0 0 560.20,563.67Z" fill="#a4a4a4"/>
<path d="M558.09,573.64A202.30,202.30 0 0 1 556.76,573.80L555.63,564.27A192.70,192.70 0 0 0 556.90,564.11Z" fill="#6e6e6e"/>
<path d="M607.8,560.8L604.3,551.9M606.4,561.4L602.9,552.5M604.1,562.3L600.7,553.3M601.8,563.1L598.5,554.1M600.3,563.7L597.1,554.6M598.8,564.2L595.6,555.1M598.3,564.4L595.2,555.3M595.5,565.3L592.5,556.2M594.8,565.5L591.9,556.4M594.3,565.7L591.4,556.5M593.0,566.1L590.2,556.9M591.2,566.6L588.4,557.5M589.7,567.1L587.0,557.9M589.6,567.1L586.9,557.9M588.5,567.4L585.8,558.2M586.2,568.1L583.7,558.8M586.0,568.1L583.5,558.9M584.6,568.5L582.1,559.2M583.9,568.7L581.4,559.4M582.9,568.9L580.6,559.6M581.7,569.3L579.3,559.9M580.0,569.7L577.8,560.3M579.3,569.8L577.1,560.5M577.7,570.2L575.5,560.8M576.8,570.4L574.7,561.0M574.4,570.9L572.4,561.5M572.3,571.4L570.4,561.9M571.3,571.5L569.5,562.1M569.5,571.9L567.8,562.4M567.9,572.2L566.3,562.7M567.3,572.3L565.7,562.8M565.2,572.6L563.7,563.1M564.6,572.7L563.1,563.2M563.4,572.9L561.9,563.4M561.6,573.2L560.2,563.7M560.0,573.4L558.7,563.9M558.1,573.6L556.9,564.1M556.8,573.8L555.6,564.3" stroke="#000" stroke-opacity="0.3" stroke-width="0.5" fill="none"/>
<path d="M608.62,560.54A202.30,202.30 0 0 1 554.29,574.08L553.28,564.53A192.70,192.70 0 0 0 605.03,551.63Z" fill="none" stroke="#111" stroke-width="1.0"/>
<text x="586.3" y="586.9" transform="rotate(76.0 586.3 586.9)" font-size="10.9" text-anchor="middle" dominant-baseline="central" fill="#111" stroke="#111" stroke-width="0.3">8</text>
<path d="M551.25,578.99A206.90,206.90 0 0 1 496.05,576.47" fill="none" stroke="#dc6f9f" stroke-width="1.7"/>
<path d="M550.85,574.41A202.30,202.30 0 0 1 496.87,571.95L498.59,562.50A192.70,192.70 0 0 0 550.00,564.85Z" fill="#fff"/>
<path d="M550.01,574.48A202.30,202.30 0 0 1 549.09,574.56L548.33,564.99A192.70,192.70 0 0 0 549.20,564.92Z" fill="#d2d2d2"/>
<path d="M547.41,574.69A202.30,202.30 0 0 1 545.41,574.82L544.82,565.24A192.70,192.70 0 0 0 546.72,565.11Z" fill="#6e6e6e"/>
<path d="M544.49,574.87A202.30,202.30 0 0 1 543.77,574.91L543.26,565.33A192.70,192.70 0 0 0 543.95,565.29Z" fill="#d2d2d2"/>
<path d="M543.23,574.94A202.30,202.30 0 0 1 541.04,575.04L540.66,565.45A192.70,192.70 0 0 0 542.74,565.35Z" fill="#101010"/>
<path d="M540.12,575.07A202.30,202.30 0 0 1 538.13,575.13L537.89,565.54A192.70,192.70 0 0 0 539.79,565.48Z" fill="#101010"/>
<path d="M536.94,575.16A202.30,202.30 0 0 1 536.13,575.18L535.99,565.58A192.70,192.70 0 0 0 536.75,565.56Z" fill="#d2d2d2"/>
<path d="M535.14,575.19A202.30,202.30 0 0 1 534.14,575.20L534.08,565.60A192.70,192.70 0 0 0 535.03,565.59Z" fill="#a4a4a4"/>
<path d="M533.03,575.20A202.30,202.30 0 0 1 531.11,575.19L531.20,565.59A192.70,192.70 0 0 0 533.02,565.60Z" fill="#d93a30"/>
<path d="M531.41,575.19A202.30,202.30 0 0 1 525.58,575.06L525.93,565.47A192.70,192.70 0 0 0 531.49,565.59Z" fill="#d8d8d8"/>
<path d="M524.51,575.02A202.30,202.30 0 0 1 523.17,574.96L523.63,565.37A192.70,192.70 0 0 0 524.91,565.43Z" fill="#d2d2d2"/>
<path d="M522.48,574.93A202.30,202.30 0 0 1 520.48,574.81L521.08,565.23A192.70,192.70 0 0 0 522.98,565.34Z" fill="#a4a4a4"/>
<path d="M519.76,574.77A202.30,202.30 0 0 1 518.61,574.69L519.29,565.11A192.70,192.70 0 0 0 520.38,565.19Z" fill="#a4a4a4"/>
<path d="M517.54,574.61A202.30,202.30 0 0 1 516.20,574.50L516.99,564.93A192.70,192.70 0 0 0 518.27,565.04Z" fill="#a4a4a4"/>
<path d="M515.66,574.46A202.30,202.30 0 0 1 514.86,574.38L515.72,564.82A192.70,192.70 0 0 0 516.48,564.89Z" fill="#d2d2d2"/>
<path d="M513.83,574.29A202.30,202.30 0 0 1 512.80,574.19L513.75,564.64A192.70,192.70 0 0 0 514.74,564.73Z" fill="#d2d2d2"/>
<path d="M511.54,574.06A202.30,202.30 0 0 1 509.40,573.82L510.52,564.28A192.70,192.70 0 0 0 512.55,564.51Z" fill="#101010"/>
<path d="M508.22,573.68A202.30,202.30 0 0 1 506.85,573.50L508.09,563.98A192.70,192.70 0 0 0 509.39,564.15Z" fill="#d2d2d2"/>
<path d="M505.78,573.36A202.30,202.30 0 0 1 503.96,573.10L505.34,563.60A192.70,192.70 0 0 0 507.07,563.85Z" fill="#6e6e6e"/>
<path d="M502.71,572.92A202.30,202.30 0 0 1 501.00,572.65L502.52,563.17A192.70,192.70 0 0 0 504.14,563.43Z" fill="#d2d2d2"/>
<path d="M499.79,572.46A202.30,202.30 0 0 1 499.60,572.42L501.18,562.96A192.70,192.70 0 0 0 501.36,562.99Z" fill="#d2d2d2"/>
<path d="M498.88,572.30A202.30,202.30 0 0 1 498.31,572.20L499.96,562.75A192.70,192.70 0 0 0 500.50,562.84Z" fill="#d2d2d2"/>
<path d="M550.0,574.5L549.2,564.9M549.1,574.6L548.3,565.0M547.4,574.7L546.7,565.1M545.4,574.8L544.8,565.2M544.5,574.9L543.9,565.3M543.8,574.9L543.3,565.3M543.2,574.9L542.7,565.4M541.0,575.0L540.7,565.4M540.1,575.1L539.8,565.5M538.1,575.1L537.9,565.5M536.9,575.2L536.8,565.6M536.1,575.2L536.0,565.6M535.1,575.2L535.0,565.6M534.1,575.2L534.1,565.6M532.7,575.2L532.7,565.6M531.4,575.2L531.5,565.6M525.6,575.1L525.9,565.5M524.5,575.0L524.9,565.4M523.2,575.0L523.6,565.4M522.5,574.9L523.0,565.3M520.5,574.8L521.1,565.2M519.8,574.8L520.4,565.2M518.6,574.7L519.3,565.1M517.5,574.6L518.3,565.0M516.2,574.5L517.0,564.9M515.7,574.5L516.5,564.9M514.9,574.4L515.7,564.8M513.8,574.3L514.7,564.7M512.8,574.2L513.8,564.6M511.5,574.1L512.6,564.5M509.4,573.8L510.5,564.3M508.2,573.7L509.4,564.1M506.8,573.5L508.1,564.0M505.8,573.4L507.1,563.8M504.0,573.1L505.3,563.6M502.7,572.9L504.1,563.4M501.0,572.7L502.5,563.2M499.8,572.5L501.4,563.0M499.6,572.4L501.2,563.0M498.9,572.3L500.5,562.8M498.3,572.2L500.0,562.7" stroke="#000" stroke-opacity="0.3" stroke-width="0.5" fill="none"/>
<path d="M550.85,574.41A202.30,202.30 0 0 1 496.87,571.95L498.59,562.50A192.70,192.70 0 0 0 550.00,564.85Z" fill="none" stroke="#111" stroke-width="1.0"/>
<text x="522.9" y="593.2" transform="rotate(272.6 522.9 593.2)" font-size="10.9" text-anchor="middle" dominant-baseline="central" fill="#111" stroke="#111" stroke-width="0.3">9</text>
<path d="M492.58,575.81A206.90,206.90 0 0 1 442.31,558.86" fill="none" stroke="#3aa36c" stroke-width="1.7"/>
<path d="M493.47,571.30A202.30,202.30 0 0 1 444.32,554.73L448.53,546.10A192.70,192.70 0 0 0 495.35,561.89Z" fill="#fff"/>
<path d="M492.35,571.07A202.30,202.30 0 0 1 492.04,571.01L493.99,561.61A192.70,192.70 0 0 0 494.27,561.67Z" fill="#d2d2d2"/>
<path d="M490.99,570.79A202.30,202.30 0 0 1 488.89,570.33L490.99,560.96A192.70,192.70 0 0 0 492.99,561.40Z" fill="#6e6e6e"/>
<path d="M486.98,569.90A202.30,202.30 0 0 1 486.50,569.78L488.71,560.44A192.70,192.70 0 0 0 489.17,560.55Z" fill="#6e6e6e"/>
<path d="M486.46,569.77A202.30,202.30 0 0 1 485.01,569.42L487.28,560.10A192.70,192.70 0 0 0 488.67,560.43Z" fill="#6e6e6e"/>
<path d="M484.26,569.24A202.30,202.30 0 0 1 482.40,568.77L484.80,559.48A192.70,192.70 0 0 0 486.57,559.92Z" fill="#a4a4a4"/>
<path d="M481.77,568.61A202.30,202.30 0 0 1 480.62,568.30L483.11,559.03A192.70,192.70 0 0 0 484.20,559.32Z" fill="#d2d2d2"/>
<path d="M479.58,568.02A202.30,202.30 0 0 1 477.40,567.41L480.04,558.18A192.70,192.70 0 0 0 482.12,558.76Z" fill="#d93a30"/>
<path d="M476.30,567.09A202.30,202.30 0 0 1 474.90,566.68L477.65,557.48A192.70,192.70 0 0 0 478.99,557.88Z" fill="#d2d2d2"/>
<path d="M473.80,566.34A202.30,202.30 0 0 1 470.76,565.39L473.71,556.25A192.70,192.70 0 0 0 476.60,557.16Z" fill="#101010"/>
<path d="M469.55,564.99A202.30,202.30 0 0 1 467.33,564.25L470.45,555.17A192.70,192.70 0 0 0 472.56,555.88Z" fill="#101010"/>
<path d="M465.78,563.70A202.30,202.30 0 0 1 464.76,563.34L468.00,554.31A192.70,192.70 0 0 0 468.97,554.65Z" fill="#a4a4a4"/>
<path d="M463.21,562.78A202.30,202.30 0 0 1 461.09,561.99L464.50,553.02A192.70,192.70 0 0 0 466.52,553.77Z" fill="#101010"/>
<path d="M460.52,561.77A202.30,202.30 0 0 1 459.30,561.30L462.80,552.36A192.70,192.70 0 0 0 463.96,552.81Z" fill="#6e6e6e"/>
<path d="M458.87,561.13A202.30,202.30 0 0 1 457.84,560.72L461.40,551.81A192.70,192.70 0 0 0 462.39,552.20Z" fill="#a4a4a4"/>
<path d="M457.02,560.39A202.30,202.30 0 0 1 456.09,560.01L459.74,551.13A192.70,192.70 0 0 0 460.62,551.49Z" fill="#a4a4a4"/>
<path d="M455.70,559.85A202.30,202.30 0 0 1 455.03,559.57L458.73,550.71A192.70,192.70 0 0 0 459.37,550.98Z" fill="#d2d2d2"/>
<path d="M454.71,559.44A202.30,202.30 0 0 1 452.56,558.52L456.38,549.71A192.70,192.70 0 0 0 458.43,550.59Z" fill="#101010"/>
<path d="M451.50,558.06A202.30,202.30 0 0 1 450.03,557.40L453.97,548.65A192.70,192.70 0 0 0 455.37,549.27Z" fill="#6e6e6e"/>
<path d="M449.12,556.99A202.30,202.30 0 0 1 448.63,556.77L452.64,548.04A192.70,192.70 0 0 0 453.10,548.26Z" fill="#a4a4a4"/>
<path d="M447.10,556.06A202.30,202.30 0 0 1 446.03,555.55L450.15,546.88A192.70,192.70 0 0 0 451.18,547.37Z" fill="#a4a4a4"/>
<path d="M492.3,571.1L494.3,561.7M492.0,571.0L494.0,561.6M491.0,570.8L493.0,561.4M488.9,570.3L491.0,561.0M487.0,569.9L489.2,560.5M486.5,569.8L488.7,560.4M486.5,569.8L488.7,560.4M485.0,569.4L487.3,560.1M484.3,569.2L486.6,559.9M482.4,568.8L484.8,559.5M481.8,568.6L484.2,559.3M480.6,568.3L483.1,559.0M479.3,567.9L481.8,558.7M477.7,567.5L480.3,558.3M476.3,567.1L479.0,557.9M474.9,566.7L477.7,557.5M473.8,566.3L476.6,557.2M470.8,565.4L473.7,556.3M469.6,565.0L472.6,555.9M467.3,564.2L470.5,555.2M465.8,563.7L469.0,554.6M464.8,563.3L468.0,554.3M463.2,562.8L466.5,553.8M461.1,562.0L464.5,553.0M460.5,561.8L464.0,552.8M459.3,561.3L462.8,552.4M458.9,561.1L462.4,552.2M457.8,560.7L461.4,551.8M457.0,560.4L460.6,551.5M456.1,560.0L459.7,551.1M455.7,559.9L459.4,551.0M455.0,559.6L458.7,550.7M454.7,559.4L458.4,550.6M452.6,558.5L456.4,549.7M451.5,558.1L455.4,549.3M450.0,557.4L454.0,548.6M449.1,557.0L453.1,548.3M448.6,556.8L452.6,548.0M447.1,556.1L451.2,547.4M446.0,555.5L450.2,546.9" stroke="#000" stroke-opacity="0.3" stroke-width="0.5" fill="none"/>
<path d="M493.47,571.30A202.30,202.30 0 0 1 444.32,554.73L448.53,546.10A192.70,192.70 0 0 0 495.35,561.89Z" fill="none" stroke="#111" stroke-width="1.0"/>
<text x="462.5" y="581.8" transform="rotate(288.6 462.5 581.8)" font-size="10.9" text-anchor="middle" dominant-baseline="central" fill="#111" stroke="#111" stroke-width="0.3">10</text>
<path d="M439.14,557.28A206.90,206.90 0 0 1 395.49,527.49" fill="none" stroke="#8f2f2f" stroke-width="1.7"/>
<path d="M441.23,553.19A202.30,202.30 0 0 1 398.55,524.06L404.93,516.88A192.70,192.70 0 0 0 445.58,544.63Z" fill="#fff"/>
<path d="M440.27,552.70A202.30,202.30 0 0 1 437.59,551.29L442.11,542.82A192.70,192.70 0 0 0 444.67,544.16Z" fill="#a4a4a4"/>
<path d="M436.91,550.92A202.30,202.30 0 0 1 435.73,550.28L440.34,541.86A192.70,192.70 0 0 0 441.47,542.47Z" fill="#a4a4a4"/>
<path d="M433.88,549.26A202.30,202.30 0 0 1 432.41,548.42L437.19,540.09A192.70,192.70 0 0 0 438.59,540.89Z" fill="#101010"/>
<path d="M432.05,548.21A202.30,202.30 0 0 1 430.79,547.48L435.64,539.19A192.70,192.70 0 0 0 436.84,539.89Z" fill="#6e6e6e"/>
<path d="M429.00,546.42A202.30,202.30 0 0 1 426.68,545.01L431.72,536.84A192.70,192.70 0 0 0 433.94,538.19Z" fill="#101010"/>
<path d="M424.95,543.93A202.30,202.30 0 0 1 424.04,543.35L429.22,535.26A192.70,192.70 0 0 0 430.08,535.81Z" fill="#6e6e6e"/>
<path d="M424.30,543.52A202.30,202.30 0 0 1 422.47,542.33L427.71,534.29A192.70,192.70 0 0 0 429.46,535.42Z" fill="#d93a30"/>
<path d="M422.72,542.50A202.30,202.30 0 0 1 421.37,541.62L426.67,533.61A192.70,192.70 0 0 0 427.96,534.45Z" fill="#6e6e6e"/>
<path d="M420.80,541.23A202.30,202.30 0 0 1 420.26,540.87L425.61,532.90A192.70,192.70 0 0 0 426.12,533.25Z" fill="#d2d2d2"/>
<path d="M419.46,540.33A202.30,202.30 0 0 1 418.67,539.79L424.09,531.87A192.70,192.70 0 0 0 424.85,532.39Z" fill="#d2d2d2"/>
<path d="M418.04,539.36A202.30,202.30 0 0 1 416.53,538.31L422.05,530.46A192.70,192.70 0 0 0 423.49,531.46Z" fill="#a4a4a4"/>
<path d="M415.93,537.88A202.30,202.30 0 0 1 413.28,535.98L418.97,528.24A192.70,192.70 0 0 0 421.49,530.06Z" fill="#101010"/>
<path d="M412.45,535.36A202.30,202.30 0 0 1 411.07,534.32L416.85,526.66A192.70,192.70 0 0 0 418.17,527.65Z" fill="#101010"/>
<path d="M409.73,533.30A202.30,202.30 0 0 1 408.24,532.15L414.16,524.59A192.70,192.70 0 0 0 415.58,525.69Z" fill="#101010"/>
<path d="M408.00,531.96A202.30,202.30 0 0 1 405.75,530.16L411.79,522.70A192.70,192.70 0 0 0 413.93,524.41Z" fill="#101010"/>
<path d="M405.12,529.66A202.30,202.30 0 0 1 404.53,529.17L410.62,521.75A192.70,192.70 0 0 0 411.19,522.22Z" fill="#a4a4a4"/>
<path d="M402.55,527.52A202.30,202.30 0 0 1 401.76,526.85L407.99,519.55A192.70,192.70 0 0 0 408.74,520.19Z" fill="#a4a4a4"/>
<path d="M400.63,525.88A202.30,202.30 0 0 1 399.76,525.12L406.08,517.90A192.70,192.70 0 0 0 406.91,518.62Z" fill="#a4a4a4"/>
<path d="M440.3,552.7L444.7,544.2M437.6,551.3L442.1,542.8M436.9,550.9L441.5,542.5M435.7,550.3L440.3,541.9M433.9,549.3L438.6,540.9M432.4,548.4L437.2,540.1M432.0,548.2L436.8,539.9M430.8,547.5L435.6,539.2M429.0,546.4L433.9,538.2M426.7,545.0L431.7,536.8M425.0,543.9L430.1,535.8M424.0,543.4L429.2,535.3M422.7,542.5L428.0,534.5M421.4,541.6L426.7,533.6M420.8,541.2L426.1,533.2M420.3,540.9L425.6,532.9M419.5,540.3L424.8,532.4M418.7,539.8L424.1,531.9M418.0,539.4L423.5,531.5M416.5,538.3L422.1,530.5M415.9,537.9L421.5,530.1M413.3,536.0L419.0,528.2M412.5,535.4L418.2,527.7M411.1,534.3L416.9,526.7M409.7,533.3L415.6,525.7M408.2,532.1L414.2,524.6M408.0,532.0L413.9,524.4M405.7,530.2L411.8,522.7M405.1,529.7L411.2,522.2M404.5,529.2L410.6,521.8M402.6,527.5L408.7,520.2M401.8,526.9L408.0,519.5M400.6,525.9L406.9,518.6M399.8,525.1L406.1,517.9" stroke="#000" stroke-opacity="0.3" stroke-width="0.5" fill="none"/>
<path d="M441.23,553.19A202.30,202.30 0 0 1 398.55,524.06L404.93,516.88A192.70,192.70 0 0 0 445.58,544.63Z" fill="none" stroke="#111" stroke-width="1.0"/>
<text x="408.7" y="555.0" transform="rotate(304.3 408.7 555.0)" font-size="10.9" text-anchor="middle" dominant-baseline="central" fill="#111" stroke="#111" stroke-width="0.3">11</text>
<path d="M392.87,525.12A206.90,206.90 0 0 1 359.12,485.04" fill="none" stroke="#df7f4f" stroke-width="1.7"/>
<path d="M395.98,521.74A202.30,202.30 0 0 1 362.99,482.54L371.06,477.34A192.70,192.70 0 0 0 402.49,514.67Z" fill="#fff"/>
<path d="M395.06,520.87A202.30,202.30 0 0 1 394.47,520.32L401.04,513.33A192.70,192.70 0 0 0 401.60,513.85Z" fill="#d2d2d2"/>
<path d="M393.16,519.08A202.30,202.30 0 0 1 392.41,518.36L399.08,511.46A192.70,192.70 0 0 0 399.79,512.15Z" fill="#6e6e6e"/>
<path d="M391.86,517.83A202.30,202.30 0 0 1 390.44,516.43L397.20,509.62A192.70,192.70 0 0 0 398.56,510.95Z" fill="#101010"/>
<path d="M390.08,516.08A202.30,202.30 0 0 1 388.68,514.66L395.53,507.94A192.70,192.70 0 0 0 396.87,509.28Z" fill="#101010"/>
<path d="M388.33,514.31A202.30,202.30 0 0 1 387.55,513.51L394.46,506.84A192.70,192.70 0 0 0 395.19,507.60Z" fill="#a4a4a4"/>
<path d="M387.07,513.01A202.30,202.30 0 0 1 385.36,511.20L392.36,504.64A192.70,192.70 0 0 0 394.00,506.36Z" fill="#d93a30"/>
<path d="M385.57,511.42A202.30,202.30 0 0 1 383.43,509.11L390.53,502.65A192.70,192.70 0 0 0 392.56,504.85Z" fill="#101010"/>
<path d="M382.73,508.35A202.30,202.30 0 0 1 382.12,507.66L389.28,501.27A192.70,192.70 0 0 0 389.87,501.92Z" fill="#d2d2d2"/>
<path d="M381.25,506.68A202.30,202.30 0 0 1 380.82,506.19L388.04,499.87A192.70,192.70 0 0 0 388.45,500.34Z" fill="#d2d2d2"/>
<path d="M380.44,505.76A202.30,202.30 0 0 1 379.19,504.31L386.49,498.07A192.70,192.70 0 0 0 387.68,499.46Z" fill="#6e6e6e"/>
<path d="M378.69,503.72A202.30,202.30 0 0 1 378.05,502.96L385.40,496.79A192.70,192.70 0 0 0 386.02,497.52Z" fill="#a4a4a4"/>
<path d="M377.12,501.84A202.30,202.30 0 0 1 376.09,500.59L383.54,494.53A192.70,192.70 0 0 0 384.51,495.72Z" fill="#6e6e6e"/>
<path d="M374.99,499.22A202.30,202.30 0 0 1 373.46,497.29L381.03,491.39A192.70,192.70 0 0 0 382.48,493.23Z" fill="#101010"/>
<path d="M372.92,496.59A202.30,202.30 0 0 1 372.08,495.50L379.72,489.68A192.70,192.70 0 0 0 380.52,490.73Z" fill="#101010"/>
<path d="M371.25,494.40A202.30,202.30 0 0 1 370.01,492.73L377.75,487.05A192.70,192.70 0 0 0 378.92,488.63Z" fill="#6e6e6e"/>
<path d="M369.51,492.05A202.30,202.30 0 0 1 368.35,490.43L376.16,484.86A192.70,192.70 0 0 0 377.27,486.40Z" fill="#a4a4a4"/>
<path d="M367.75,489.59A202.30,202.30 0 0 1 367.61,489.40L375.46,483.87A192.70,192.70 0 0 0 375.59,484.05Z" fill="#d2d2d2"/>
<path d="M367.17,488.77A202.30,202.30 0 0 1 366.62,487.98L374.52,482.52A192.70,192.70 0 0 0 375.04,483.27Z" fill="#a4a4a4"/>
<path d="M366.34,487.57A202.30,202.30 0 0 1 365.78,486.75L373.71,481.35A192.70,192.70 0 0 0 374.25,482.13Z" fill="#a4a4a4"/>
<path d="M364.66,485.10A202.30,202.30 0 0 1 363.94,484.01L371.96,478.73A192.70,192.70 0 0 0 372.65,479.77Z" fill="#a4a4a4"/>
<path d="M395.1,520.9L401.6,513.9M394.5,520.3L401.0,513.3M393.2,519.1L399.8,512.1M392.4,518.4L399.1,511.5M391.9,517.8L398.6,511.0M390.4,516.4L397.2,509.6M390.1,516.1L396.9,509.3M388.7,514.7L395.5,507.9M388.3,514.3L395.2,507.6M387.6,513.5L394.5,506.8M386.9,512.8L393.8,506.2M385.6,511.4L392.6,504.9M383.4,509.1L390.5,502.7M382.7,508.3L389.9,501.9M382.1,507.7L389.3,501.3M381.3,506.7L388.5,500.3M380.8,506.2L388.0,499.9M380.4,505.8L387.7,499.5M379.2,504.3L386.5,498.1M378.7,503.7L386.0,497.5M378.0,503.0L385.4,496.8M377.1,501.8L384.5,495.7M376.1,500.6L383.5,494.5M375.0,499.2L382.5,493.2M373.5,497.3L381.0,491.4M372.9,496.6L380.5,490.7M372.1,495.5L379.7,489.7M371.2,494.4L378.9,488.6M370.0,492.7L377.7,487.0M369.5,492.1L377.3,486.4M368.3,490.4L376.2,484.9M367.7,489.6L375.6,484.1M367.6,489.4L375.5,483.9M367.2,488.8L375.0,483.3M366.6,488.0L374.5,482.5M366.3,487.6L374.2,482.1M365.8,486.8L373.7,481.3M364.7,485.1L372.7,479.8M363.9,484.0L372.0,478.7" stroke="#000" stroke-opacity="0.3" stroke-width="0.5" fill="none"/>
<path d="M395.98,521.74A202.30,202.30 0 0 1 362.99,482.54L371.06,477.34A192.70,192.70 0 0 0 402.49,514.67Z" fill="none" stroke="#111" stroke-width="1.0"/>
<text x="364.3" y="514.9" transform="rotate(319.9 364.3 514.9)" font-size="10.9" text-anchor="middle" dominant-baseline="central" fill="#111" stroke="#111" stroke-width="0.3">12</text>
<path d="M357.23,482.05A206.90,206.90 0 0 1 337.75,441.35" fill="none" stroke="#4f7fb5" stroke-width="1.7"/>
<path d="M361.14,479.62A202.30,202.30 0 0 1 342.09,439.83L351.15,436.66A192.70,192.70 0 0 0 369.30,474.56Z" fill="#fff"/>
<path d="M361.14,479.62A202.30,202.30 0 0 1 360.23,478.15L368.43,473.15A192.70,192.70 0 0 0 369.30,474.56Z" fill="#d8d8d8"/>
<path d="M360.23,478.15A202.30,202.30 0 0 1 359.15,476.34L367.40,471.43A192.70,192.70 0 0 0 368.43,473.15Z" fill="#7a9fcc"/>
<path d="M359.15,476.34A202.30,202.30 0 0 1 357.92,474.26L366.23,469.45A192.70,192.70 0 0 0 367.40,471.43Z" fill="#d8d8d8"/>
<path d="M358.08,474.52A202.30,202.30 0 0 1 357.16,472.92L365.50,468.18A192.70,192.70 0 0 0 366.38,469.70Z" fill="#d93a30"/>
<path d="M356.59,471.92A202.30,202.30 0 0 1 356.18,471.19L364.57,466.52A192.70,192.70 0 0 0 364.96,467.22Z" fill="#d2d2d2"/>
<path d="M355.75,470.41A202.30,202.30 0 0 1 355.55,470.04L363.97,465.43A192.70,192.70 0 0 0 364.16,465.79Z" fill="#d2d2d2"/>
<path d="M354.94,468.93A202.30,202.30 0 0 1 354.62,468.32L363.08,463.79A192.70,192.70 0 0 0 363.39,464.37Z" fill="#a4a4a4"/>
<path d="M354.35,467.81A202.30,202.30 0 0 1 353.53,466.25L362.04,461.82A192.70,192.70 0 0 0 362.83,463.31Z" fill="#6e6e6e"/>
<path d="M352.63,464.51A202.30,202.30 0 0 1 352.53,464.30L361.09,459.97A192.70,192.70 0 0 0 361.19,460.16Z" fill="#d2d2d2"/>
<path d="M352.27,463.79A202.30,202.30 0 0 1 351.65,462.55L360.26,458.30A192.70,192.70 0 0 0 360.84,459.48Z" fill="#a4a4a4"/>
<path d="M350.91,461.04A202.30,202.30 0 0 1 350.20,459.55L358.87,455.44A192.70,192.70 0 0 0 359.55,456.85Z" fill="#101010"/>
<path d="M349.75,458.61A202.30,202.30 0 0 1 349.21,457.43L357.93,453.42A192.70,192.70 0 0 0 358.45,454.54Z" fill="#6e6e6e"/>
<path d="M348.74,456.42A202.30,202.30 0 0 1 348.01,454.77L356.78,450.88A192.70,192.70 0 0 0 357.49,452.45Z" fill="#101010"/>
<path d="M347.68,454.03A202.30,202.30 0 0 1 347.41,453.40L356.21,449.58A192.70,192.70 0 0 0 356.48,450.18Z" fill="#a4a4a4"/>
<path d="M347.13,452.76A202.30,202.30 0 0 1 345.84,449.69L354.72,446.04A192.70,192.70 0 0 0 355.95,448.97Z" fill="#101010"/>
<path d="M345.51,448.87A202.30,202.30 0 0 1 344.79,447.09L353.72,443.57A192.70,192.70 0 0 0 354.40,445.26Z" fill="#101010"/>
<path d="M344.35,445.94A202.30,202.30 0 0 1 344.19,445.55L353.15,442.10A192.70,192.70 0 0 0 353.30,442.48Z" fill="#d2d2d2"/>
<path d="M343.87,444.69A202.30,202.30 0 0 1 343.45,443.57L352.44,440.22A192.70,192.70 0 0 0 352.84,441.28Z" fill="#101010"/>
<path d="M343.15,442.78A202.30,202.30 0 0 1 342.72,441.59L351.75,438.33A192.70,192.70 0 0 0 352.16,439.47Z" fill="#101010"/>
<path d="M360.2,478.1L368.4,473.2M359.1,476.3L367.4,471.4M357.9,474.3L366.2,469.4M357.3,473.2L365.6,468.4M356.6,471.9L365.0,467.2M356.2,471.2L364.6,466.5M355.8,470.4L364.2,465.8M355.5,470.0L364.0,465.4M354.9,468.9L363.4,464.4M354.6,468.3L363.1,463.8M354.3,467.8L362.8,463.3M353.5,466.3L362.0,461.8M352.6,464.5L361.2,460.2M352.5,464.3L361.1,460.0M352.3,463.8L360.8,459.5M351.7,462.6L360.3,458.3M350.9,461.0L359.5,456.9M350.2,459.5L358.9,455.4M349.8,458.6L358.5,454.5M349.2,457.4L357.9,453.4M348.7,456.4L357.5,452.5M348.0,454.8L356.8,450.9M347.7,454.0L356.5,450.2M347.4,453.4L356.2,449.6M347.1,452.8L356.0,449.0M345.8,449.7L354.7,446.0M345.5,448.9L354.4,445.3M344.8,447.1L353.7,443.6M344.3,445.9L353.3,442.5M344.2,445.5L353.2,442.1M343.9,444.7L352.8,441.3M343.4,443.6L352.4,440.2M343.2,442.8L352.2,439.5M342.7,441.6L351.7,438.3" stroke="#000" stroke-opacity="0.3" stroke-width="0.5" fill="none"/>
<path d="M361.14,479.62A202.30,202.30 0 0 1 342.09,439.83L351.15,436.66A192.70,192.70 0 0 0 369.30,474.56Z" fill="none" stroke="#111" stroke-width="1.0"/>
<text x="334.1" y="468.1" transform="rotate(334.4 334.1 468.1)" font-size="10.9" text-anchor="middle" dominant-baseline="central" fill="#111" stroke="#111" stroke-width="0.3">13</text>
<path d="M336.61,438.01A206.90,206.90 0 0 1 327.50,396.94" fill="none" stroke="#5cbcc0" stroke-width="1.7"/>
<path d="M340.98,436.56A202.30,202.30 0 0 1 332.07,396.41L341.61,395.29A192.70,192.70 0 0 0 350.09,433.54Z" fill="#fff"/>
<path d="M340.98,436.56A202.30,202.30 0 0 1 340.53,435.21L349.67,432.25A192.70,192.70 0 0 0 350.09,433.54Z" fill="#d8d8d8"/>
<path d="M340.53,435.21A202.30,202.30 0 0 1 340.02,433.60L349.18,430.72A192.70,192.70 0 0 0 349.67,432.25Z" fill="#7a9fcc"/>
<path d="M340.02,433.60A202.30,202.30 0 0 1 339.12,430.66L348.32,427.92A192.70,192.70 0 0 0 349.18,430.72Z" fill="#d8d8d8"/>
<path d="M339.21,430.96A202.30,202.30 0 0 1 338.71,429.26L347.93,426.59A192.70,192.70 0 0 0 348.41,428.20Z" fill="#d93a30"/>
<path d="M338.22,427.53A202.30,202.30 0 0 1 337.34,424.31L346.63,421.87A192.70,192.70 0 0 0 347.46,424.94Z" fill="#101010"/>
<path d="M337.15,423.57A202.30,202.30 0 0 1 337.02,423.08L346.32,420.70A192.70,192.70 0 0 0 346.44,421.16Z" fill="#a4a4a4"/>
<path d="M336.91,422.64A202.30,202.30 0 0 1 336.38,420.51L345.71,418.25A192.70,192.70 0 0 0 346.21,420.28Z" fill="#101010"/>
<path d="M336.05,419.13A202.30,202.30 0 0 1 335.73,417.75L345.09,415.62A192.70,192.70 0 0 0 345.40,416.94Z" fill="#101010"/>
<path d="M335.47,416.55A202.30,202.30 0 0 1 335.35,416.02L344.73,413.98A192.70,192.70 0 0 0 344.84,414.48Z" fill="#d2d2d2"/>
<path d="M335.14,415.05A202.30,202.30 0 0 1 334.83,413.55L344.23,411.62A192.70,192.70 0 0 0 344.53,413.05Z" fill="#6e6e6e"/>
<path d="M334.62,412.53A202.30,202.30 0 0 1 334.39,411.36L343.82,409.54A192.70,192.70 0 0 0 344.03,410.65Z" fill="#a4a4a4"/>
<path d="M334.22,410.50A202.30,202.30 0 0 1 333.97,409.14L343.42,407.42A192.70,192.70 0 0 0 343.66,408.71Z" fill="#a4a4a4"/>
<path d="M333.60,407.06A202.30,202.30 0 0 1 333.33,405.43L342.81,403.89A192.70,192.70 0 0 0 343.07,405.44Z" fill="#101010"/>
<path d="M333.25,404.94A202.30,202.30 0 0 1 332.96,403.08L342.46,401.65A192.70,192.70 0 0 0 342.73,403.42Z" fill="#101010"/>
<path d="M332.85,402.28A202.30,202.30 0 0 1 332.69,401.22L342.20,399.88A192.70,192.70 0 0 0 342.34,400.89Z" fill="#d2d2d2"/>
<path d="M332.61,400.61A202.30,202.30 0 0 1 332.35,398.67L341.87,397.45A192.70,192.70 0 0 0 342.12,399.30Z" fill="#a4a4a4"/>
<path d="M332.26,397.99A202.30,202.30 0 0 1 332.22,397.68L341.75,396.51A192.70,192.70 0 0 0 341.79,396.80Z" fill="#a4a4a4"/>
<path d="M340.5,435.2L349.7,432.3M340.0,433.6L349.2,430.7M339.1,430.7L348.3,427.9M338.8,429.6L348.0,426.9M338.2,427.5L347.5,424.9M337.3,424.3L346.6,421.9M337.1,423.6L346.4,421.2M337.0,423.1L346.3,420.7M336.9,422.6L346.2,420.3M336.4,420.5L345.7,418.3M336.1,419.1L345.4,416.9M335.7,417.7L345.1,415.6M335.5,416.5L344.8,414.5M335.3,416.0L344.7,414.0M335.1,415.0L344.5,413.0M334.8,413.5L344.2,411.6M334.6,412.5L344.0,410.7M334.4,411.4L343.8,409.5M334.2,410.5L343.7,408.7M334.0,409.1L343.4,407.4M333.6,407.1L343.1,405.4M333.3,405.4L342.8,403.9M333.3,404.9L342.7,403.4M333.0,403.1L342.5,401.6M332.8,402.3L342.3,400.9M332.7,401.2L342.2,399.9M332.6,400.6L342.1,399.3M332.3,398.7L341.9,397.4M332.3,398.0L341.8,396.8M332.2,397.7L341.8,396.5" stroke="#000" stroke-opacity="0.3" stroke-width="0.5" fill="none"/>
<path d="M340.98,436.56A202.30,202.30 0 0 1 332.07,396.41L341.61,395.29A192.70,192.70 0 0 0 350.09,433.54Z" fill="none" stroke="#111" stroke-width="1.0"/>
<text x="317.7" y="420.6" transform="rotate(347.5 317.7 420.6)" font-size="10.9" text-anchor="middle" dominant-baseline="central" fill="#111" stroke="#111" stroke-width="0.3">14</text>
<path d="M327.12,393.42A206.90,206.90 0 0 1 327.04,353.24" fill="none" stroke="#8f70b8" stroke-width="1.7"/>
<path d="M331.70,392.97A202.30,202.30 0 0 1 331.62,353.68L341.17,354.59A192.70,192.70 0 0 0 341.25,392.01Z" fill="#fff"/>
<path d="M331.70,392.97A202.30,202.30 0 0 1 331.55,391.48L341.11,390.59A192.70,192.70 0 0 0 341.25,392.01Z" fill="#d8d8d8"/>
<path d="M331.55,391.48A202.30,202.30 0 0 1 331.39,389.64L340.96,388.85A192.70,192.70 0 0 0 341.11,390.59Z" fill="#7a9fcc"/>
<path d="M331.39,389.64A202.30,202.30 0 0 1 331.19,386.92L340.76,386.26A192.70,192.70 0 0 0 340.96,388.85Z" fill="#d8d8d8"/>
<path d="M331.21,387.23A202.30,202.30 0 0 1 331.05,384.74L340.63,384.18A192.70,192.70 0 0 0 340.78,386.55Z" fill="#d93a30"/>
<path d="M330.96,383.13A202.30,202.30 0 0 1 330.91,382.21L340.50,381.77A192.70,192.70 0 0 0 340.55,382.65Z" fill="#a4a4a4"/>
<path d="M330.88,381.37A202.30,202.30 0 0 1 330.86,381.02L340.46,380.64A192.70,192.70 0 0 0 340.47,380.97Z" fill="#a4a4a4"/>
<path d="M330.83,380.10A202.30,202.30 0 0 1 330.75,377.61L340.35,377.39A192.70,192.70 0 0 0 340.42,379.76Z" fill="#6e6e6e"/>
<path d="M330.73,376.57A202.30,202.30 0 0 1 330.73,376.27L340.33,376.11A192.70,192.70 0 0 0 340.33,376.40Z" fill="#d2d2d2"/>
<path d="M330.72,375.81A202.30,202.30 0 0 1 330.70,374.00L340.30,373.95A192.70,192.70 0 0 0 340.32,375.67Z" fill="#6e6e6e"/>
<path d="M330.70,372.70A202.30,202.30 0 0 1 330.72,370.32L340.32,370.44A192.70,192.70 0 0 0 340.30,372.71Z" fill="#6e6e6e"/>
<path d="M330.72,370.24A202.30,202.30 0 0 1 330.75,368.55L340.34,368.76A192.70,192.70 0 0 0 340.32,370.37Z" fill="#d2d2d2"/>
<path d="M330.78,367.09A202.30,202.30 0 0 1 330.85,365.10L340.44,365.47A192.70,192.70 0 0 0 340.38,367.37Z" fill="#d2d2d2"/>
<path d="M330.89,364.14A202.30,202.30 0 0 1 330.91,363.60L340.50,364.05A192.70,192.70 0 0 0 340.48,364.56Z" fill="#d2d2d2"/>
<path d="M330.94,362.95A202.30,202.30 0 0 1 331.01,361.65L340.60,362.18A192.70,192.70 0 0 0 340.53,363.43Z" fill="#a4a4a4"/>
<path d="M331.09,360.31A202.30,202.30 0 0 1 331.19,358.82L340.77,359.48A192.70,192.70 0 0 0 340.67,360.91Z" fill="#a4a4a4"/>
<path d="M331.34,356.83A202.30,202.30 0 0 1 331.47,355.22L341.04,356.06A192.70,192.70 0 0 0 340.91,357.59Z" fill="#a4a4a4"/>
<path d="M331.6,391.5L341.1,390.6M331.4,389.6L341.0,388.8M331.2,386.9L340.8,386.3M331.1,385.0L340.6,384.5M331.0,383.1L340.5,382.6M330.9,382.2L340.5,381.8M330.9,381.4L340.5,381.0M330.9,381.0L340.5,380.6M330.8,380.1L340.4,379.8M330.8,377.6L340.4,377.4M330.7,376.6L340.3,376.4M330.7,376.3L340.3,376.1M330.7,375.8L340.3,375.7M330.7,374.0L340.3,373.9M330.7,372.7L340.3,372.7M330.7,370.3L340.3,370.4M330.7,370.2L340.3,370.4M330.7,368.6L340.3,368.8M330.8,367.1L340.4,367.4M330.9,365.1L340.4,365.5M330.9,364.1L340.5,364.6M330.9,363.6L340.5,364.0M330.9,363.0L340.5,363.4M331.0,361.7L340.6,362.2M331.1,360.3L340.7,360.9M331.2,358.8L340.8,359.5M331.3,356.8L340.9,357.6M331.5,355.2L341.0,356.1" stroke="#000" stroke-opacity="0.3" stroke-width="0.5" fill="none"/>
<path d="M331.70,392.97A202.30,202.30 0 0 1 331.62,353.68L341.17,354.59A192.70,192.70 0 0 0 341.25,392.01Z" fill="none" stroke="#111" stroke-width="1.0"/>
<text x="312.5" y="373.4" transform="rotate(359.9 312.5 373.4)" font-size="10.9" text-anchor="middle" dominant-baseline="central" fill="#111" stroke="#111" stroke-width="0.3">15</text>
<path d="M327.40,349.72A206.90,206.90 0 0 1 334.37,314.99" fill="none" stroke="#62b85a" stroke-width="1.7"/>
<path d="M331.97,350.24A202.30,202.30 0 0 1 338.78,316.28L348.00,318.97A192.70,192.70 0 0 0 341.51,351.31Z" fill="#fff"/>
<path d="M332.34,347.23A202.30,202.30 0 0 1 332.46,346.24L341.98,347.50A192.70,192.70 0 0 0 341.86,348.45Z" fill="#a4a4a4"/>
<path d="M332.57,345.44A202.30,202.30 0 0 1 332.69,344.60L342.19,345.95A192.70,192.70 0 0 0 342.08,346.74Z" fill="#a4a4a4"/>
<path d="M332.80,343.84A202.30,202.30 0 0 1 333.05,342.17L342.54,343.63A192.70,192.70 0 0 0 342.30,345.22Z" fill="#a4a4a4"/>
<path d="M333.23,341.04A202.30,202.30 0 0 1 333.47,339.56L342.94,341.14A192.70,192.70 0 0 0 342.71,342.55Z" fill="#a4a4a4"/>
<path d="M333.84,337.40A202.30,202.30 0 0 1 334.23,335.29L343.66,337.07A192.70,192.70 0 0 0 343.29,339.09Z" fill="#d93a30"/>
<path d="M334.17,335.59A202.30,202.30 0 0 1 334.79,332.43L344.20,334.35A192.70,192.70 0 0 0 343.61,337.36Z" fill="#d8d8d8"/>
<path d="M335.23,330.32A202.30,202.30 0 0 1 335.57,328.79L344.94,330.88A192.70,192.70 0 0 0 344.62,332.34Z" fill="#a4a4a4"/>
<path d="M335.63,328.53A202.30,202.30 0 0 1 336.44,325.05L345.77,327.32A192.70,192.70 0 0 0 344.99,330.63Z" fill="#101010"/>
<path d="M336.82,323.52A202.30,202.30 0 0 1 337.02,322.74L346.32,325.12A192.70,192.70 0 0 0 346.13,325.87Z" fill="#a4a4a4"/>
<path d="M337.13,322.30A202.30,202.30 0 0 1 337.63,320.40L346.90,322.89A192.70,192.70 0 0 0 346.43,324.70Z" fill="#6e6e6e"/>
<path d="M337.88,319.48A202.30,202.30 0 0 1 338.14,318.55L347.38,321.13A192.70,192.70 0 0 0 347.14,322.01Z" fill="#a4a4a4"/>
<path d="M338.44,317.48A202.30,202.30 0 0 1 338.61,316.89L347.83,319.55A192.70,192.70 0 0 0 347.67,320.11Z" fill="#d2d2d2"/>
<path d="M332.3,347.2L341.9,348.4M332.5,346.2L342.0,347.5M332.6,345.4L342.1,346.7M332.7,344.6L342.2,345.9M332.8,343.8L342.3,345.2M333.0,342.2L342.5,343.6M333.2,341.0L342.7,342.5M333.5,339.6L342.9,341.1M333.9,337.1L343.3,338.8M334.2,335.6L343.6,337.4M334.8,332.4L344.2,334.3M335.2,330.3L344.6,332.3M335.6,328.8L344.9,330.9M335.6,328.5L345.0,330.6M336.4,325.1L345.8,327.3M336.8,323.5L346.1,325.9M337.0,322.7L346.3,325.1M337.1,322.3L346.4,324.7M337.6,320.4L346.9,322.9M337.9,319.5L347.1,322.0M338.1,318.6L347.4,321.1M338.4,317.5L347.7,320.1M338.6,316.9L347.8,319.5" stroke="#000" stroke-opacity="0.3" stroke-width="0.5" fill="none"/>
<path d="M331.97,350.24A202.30,202.30 0 0 1 338.78,316.28L348.00,318.97A192.70,192.70 0 0 0 341.51,351.31Z" fill="none" stroke="#111" stroke-width="1.0"/>
<text x="316.8" y="329.5" transform="rotate(371.3 316.8 329.5)" font-size="10.9" text-anchor="middle" dominant-baseline="central" fill="#111" stroke="#111" stroke-width="0.3">16</text>
<path d="M335.39,311.61A206.90,206.90 0 0 1 347.13,282.01" fill="none" stroke="#8c2a2a" stroke-width="1.7"/>
<path d="M339.78,312.97A202.30,202.30 0 0 1 351.26,284.03L359.89,288.25A192.70,192.70 0 0 0 348.95,315.81Z" fill="#fff"/>
<path d="M340.16,311.76A202.30,202.30 0 0 1 340.53,310.59L349.67,313.55A192.70,192.70 0 0 0 349.31,314.66Z" fill="#a4a4a4"/>
<path d="M341.04,309.06A202.30,202.30 0 0 1 341.69,307.13L350.77,310.25A192.70,192.70 0 0 0 350.15,312.09Z" fill="#6e6e6e"/>
<path d="M342.37,305.18A202.30,202.30 0 0 1 343.05,303.30L352.06,306.60A192.70,192.70 0 0 0 351.42,308.39Z" fill="#d93a30"/>
<path d="M343.75,301.43A202.30,202.30 0 0 1 344.61,299.17L353.55,302.67A192.70,192.70 0 0 0 352.73,304.82Z" fill="#a4a4a4"/>
<path d="M344.66,299.07A202.30,202.30 0 0 1 345.01,298.17L353.93,301.72A192.70,192.70 0 0 0 353.59,302.57Z" fill="#d2d2d2"/>
<path d="M345.58,296.75A202.30,202.30 0 0 1 345.94,295.86L354.82,299.52A192.70,192.70 0 0 0 354.47,300.36Z" fill="#d2d2d2"/>
<path d="M346.36,294.87A202.30,202.30 0 0 1 347.47,292.26L356.27,296.08A192.70,192.70 0 0 0 355.21,298.57Z" fill="#6e6e6e"/>
<path d="M347.58,292.01A202.30,202.30 0 0 1 348.01,291.03L356.79,294.91A192.70,192.70 0 0 0 356.38,295.85Z" fill="#6e6e6e"/>
<path d="M348.24,290.50A202.30,202.30 0 0 1 348.49,289.94L357.25,293.88A192.70,192.70 0 0 0 357.01,294.41Z" fill="#a4a4a4"/>
<path d="M348.95,288.92A202.30,202.30 0 0 1 349.56,287.60L358.27,291.65A192.70,192.70 0 0 0 357.69,292.91Z" fill="#6e6e6e"/>
<path d="M350.20,286.25A202.30,202.30 0 0 1 350.28,286.07L358.95,290.19A192.70,192.70 0 0 0 358.87,290.36Z" fill="#d2d2d2"/>
<path d="M340.2,311.8L349.3,314.7M340.5,310.6L349.7,313.5M341.0,309.1L350.1,312.1M341.7,307.1L350.8,310.3M342.5,304.9L351.5,308.1M342.9,303.6L352.0,306.9M343.7,301.4L352.7,304.8M344.6,299.2L353.6,302.7M344.7,299.1L353.6,302.6M345.0,298.2L353.9,301.7M345.6,296.7L354.5,300.4M345.9,295.9L354.8,299.5M346.4,294.9L355.2,298.6M347.5,292.3L356.3,296.1M347.6,292.0L356.4,295.8M348.0,291.0L356.8,294.9M348.2,290.5L357.0,294.4M348.5,289.9L357.2,293.9M349.0,288.9L357.7,292.9M349.6,287.6L358.3,291.6M350.2,286.2L358.9,290.4M350.3,286.1L359.0,290.2" stroke="#000" stroke-opacity="0.3" stroke-width="0.5" fill="none"/>
<path d="M339.78,312.97A202.30,202.30 0 0 1 351.26,284.03L359.89,288.25A192.70,192.70 0 0 0 348.95,315.81Z" fill="none" stroke="#111" stroke-width="1.0"/>
<text x="328.0" y="291.6" transform="rotate(381.6 328.0 291.6)" font-size="10.9" text-anchor="middle" dominant-baseline="central" fill="#111" stroke="#111" stroke-width="0.3">17</text>
<path d="M348.71,278.85A206.90,206.90 0 0 1 364.61,252.68" fill="none" stroke="#2a8c7c" stroke-width="1.7"/>
<path d="M352.81,280.94A202.30,202.30 0 0 1 368.36,255.35L376.17,260.93A192.70,192.70 0 0 0 361.36,285.30Z" fill="#fff"/>
<path d="M353.32,279.95A202.30,202.30 0 0 1 354.07,278.52L362.56,283.00A192.70,192.70 0 0 0 361.85,284.36Z" fill="#a4a4a4"/>
<path d="M354.32,278.04A202.30,202.30 0 0 1 354.75,277.23L363.21,281.77A192.70,192.70 0 0 0 362.80,282.55Z" fill="#d2d2d2"/>
<path d="M355.43,275.98A202.30,202.30 0 0 1 356.39,274.24L364.77,278.92A192.70,192.70 0 0 0 363.85,280.58Z" fill="#d93a30"/>
<path d="M357.37,272.50A202.30,202.30 0 0 1 358.86,269.94L367.12,274.83A192.70,192.70 0 0 0 365.71,277.26Z" fill="#101010"/>
<path d="M359.74,268.46A202.30,202.30 0 0 1 361.00,266.40L369.17,271.45A192.70,192.70 0 0 0 367.97,273.42Z" fill="#6e6e6e"/>
<path d="M361.96,264.87A202.30,202.30 0 0 1 363.12,263.06L371.18,268.27A192.70,192.70 0 0 0 370.08,269.99Z" fill="#6e6e6e"/>
<path d="M363.62,262.29A202.30,202.30 0 0 1 364.21,261.39L372.22,266.68A192.70,192.70 0 0 0 371.66,267.53Z" fill="#a4a4a4"/>
<path d="M364.76,260.56A202.30,202.30 0 0 1 365.88,258.90L373.81,264.31A192.70,192.70 0 0 0 372.75,265.89Z" fill="#101010"/>
<path d="M366.29,258.30A202.30,202.30 0 0 1 367.25,256.91L375.12,262.42A192.70,192.70 0 0 0 374.20,263.74Z" fill="#d2d2d2"/>
<path d="M353.3,279.9L361.8,284.4M354.1,278.5L362.6,283.0M354.3,278.0L362.8,282.5M354.8,277.2L363.2,281.8M355.6,275.7L364.0,280.3M356.2,274.5L364.6,279.2M357.4,272.5L365.7,277.3M358.9,269.9L367.1,274.8M359.7,268.5L368.0,273.4M361.0,266.4L369.2,271.5M362.0,264.9L370.1,270.0M363.1,263.1L371.2,268.3M363.6,262.3L371.7,267.5M364.2,261.4L372.2,266.7M364.8,260.6L372.7,265.9M365.9,258.9L373.8,264.3M366.3,258.3L374.2,263.7M367.3,256.9L375.1,262.4" stroke="#000" stroke-opacity="0.3" stroke-width="0.5" fill="none"/>
<path d="M352.81,280.94A202.30,202.30 0 0 1 368.36,255.35L376.17,260.93A192.70,192.70 0 0 0 361.36,285.30Z" fill="none" stroke="#111" stroke-width="1.0"/>
<text x="344.6" y="258.4" transform="rotate(391.3 344.6 258.4)" font-size="10.9" text-anchor="middle" dominant-baseline="central" fill="#111" stroke="#111" stroke-width="0.3">18</text>
<path d="M366.69,249.82A206.90,206.90 0 0 1 381.52,231.97" fill="none" stroke="#dc6049" stroke-width="1.7"/>
<path d="M370.39,252.55A202.30,202.30 0 0 1 384.88,235.11L391.91,241.65A192.70,192.70 0 0 0 378.11,258.26Z" fill="#fff"/>
<path d="M371.98,250.44A202.30,202.30 0 0 1 373.62,248.31L381.18,254.22A192.70,192.70 0 0 0 379.62,256.25Z" fill="#d2d2d2"/>
<path d="M373.64,248.28A202.30,202.30 0 0 1 374.19,247.58L381.72,253.53A192.70,192.70 0 0 0 381.21,254.19Z" fill="#d2d2d2"/>
<path d="M375.07,246.47A202.30,202.30 0 0 1 376.13,245.16L383.58,251.22A192.70,192.70 0 0 0 382.57,252.47Z" fill="#d8d8d8"/>
<path d="M375.94,245.40A202.30,202.30 0 0 1 377.35,243.68L384.74,249.81A192.70,192.70 0 0 0 383.39,251.45Z" fill="#d93a30"/>
<path d="M377.16,243.91A202.30,202.30 0 0 1 378.09,242.79L385.44,248.97A192.70,192.70 0 0 0 384.55,250.03Z" fill="#d8d8d8"/>
<path d="M378.86,241.88A202.30,202.30 0 0 1 379.56,241.07L386.84,247.32A192.70,192.70 0 0 0 386.17,248.10Z" fill="#d2d2d2"/>
<path d="M379.66,240.95A202.30,202.30 0 0 1 380.84,239.59L388.06,245.91A192.70,192.70 0 0 0 386.93,247.21Z" fill="#d2d2d2"/>
<path d="M381.29,239.07A202.30,202.30 0 0 1 382.01,238.27L389.17,244.65A192.70,192.70 0 0 0 388.49,245.42Z" fill="#d2d2d2"/>
<path d="M382.88,237.29A202.30,202.30 0 0 1 383.45,236.67L390.54,243.13A192.70,192.70 0 0 0 390.00,243.73Z" fill="#d2d2d2"/>
<path d="M384.15,235.90A202.30,202.30 0 0 1 384.88,235.11L391.91,241.65A192.70,192.70 0 0 0 391.21,242.41Z" fill="#d2d2d2"/>
<path d="M372.0,250.4L379.6,256.2M373.6,248.3L381.2,254.2M373.6,248.3L381.2,254.2M374.2,247.6L381.7,253.5M375.1,246.5L382.6,252.5M376.1,245.2L383.6,251.2M377.2,243.9L384.6,250.0M378.1,242.8L385.4,249.0M378.9,241.9L386.2,248.1M379.6,241.1L386.8,247.3M379.7,240.9L386.9,247.2M380.8,239.6L388.1,245.9M381.3,239.1L388.5,245.4M382.0,238.3L389.2,244.7M382.9,237.3L390.0,243.7M383.4,236.7L390.5,243.1M384.1,235.9L391.2,242.4" stroke="#000" stroke-opacity="0.3" stroke-width="0.5" fill="none"/>
<path d="M370.39,252.55A202.30,202.30 0 0 1 384.88,235.11L391.91,241.65A192.70,192.70 0 0 0 378.11,258.26Z" fill="none" stroke="#111" stroke-width="1.0"/>
<text x="363.4" y="232.0" transform="rotate(399.7 363.4 232.0)" font-size="10.9" text-anchor="middle" dominant-baseline="central" fill="#111" stroke="#111" stroke-width="0.3">19</text>
<path d="M383.95,229.40A206.90,206.90 0 0 1 402.13,212.65" fill="none" stroke="#5cc4cc" stroke-width="1.7"/>
<path d="M387.26,232.59A202.30,202.30 0 0 1 405.04,216.21L411.11,223.65A192.70,192.70 0 0 0 394.18,239.25Z" fill="#fff"/>
<path d="M388.63,231.19A202.30,202.30 0 0 1 389.73,230.07L396.53,236.85A192.70,192.70 0 0 0 395.48,237.92Z" fill="#6e6e6e"/>
<path d="M390.52,229.29A202.30,202.30 0 0 1 392.11,227.73L398.80,234.62A192.70,192.70 0 0 0 397.28,236.10Z" fill="#6e6e6e"/>
<path d="M393.05,226.82A202.30,202.30 0 0 1 393.33,226.56L399.95,233.50A192.70,192.70 0 0 0 399.69,233.75Z" fill="#d2d2d2"/>
<path d="M394.02,225.90A202.30,202.30 0 0 1 395.53,224.48L402.06,231.52A192.70,192.70 0 0 0 400.62,232.87Z" fill="#d93a30"/>
<path d="M396.07,223.99A202.30,202.30 0 0 1 396.72,223.39L403.19,230.48A192.70,192.70 0 0 0 402.57,231.05Z" fill="#d2d2d2"/>
<path d="M397.63,222.56A202.30,202.30 0 0 1 398.81,221.52L405.17,228.70A192.70,192.70 0 0 0 404.06,229.70Z" fill="#6e6e6e"/>
<path d="M398.92,221.41A202.30,202.30 0 0 1 400.16,220.33L406.46,227.57A192.70,192.70 0 0 0 405.28,228.60Z" fill="#d2d2d2"/>
<path d="M401.15,219.47A202.30,202.30 0 0 1 402.67,218.18L408.85,225.52A192.70,192.70 0 0 0 407.40,226.75Z" fill="#6e6e6e"/>
<path d="M403.11,217.81A202.30,202.30 0 0 1 403.67,217.34L409.81,224.72A192.70,192.70 0 0 0 409.27,225.17Z" fill="#a4a4a4"/>
<path d="M388.6,231.2L395.5,237.9M389.7,230.1L396.5,236.9M390.5,229.3L397.3,236.1M392.1,227.7L398.8,234.6M393.0,226.8L399.7,233.8M393.3,226.6L400.0,233.5M394.2,225.7L400.8,232.7M395.3,224.7L401.8,231.7M396.1,224.0L402.6,231.1M396.7,223.4L403.2,230.5M397.6,222.6L404.1,229.7M398.8,221.5L405.2,228.7M398.9,221.4L405.3,228.6M400.2,220.3L406.5,227.6M401.1,219.5L407.4,226.8M402.7,218.2L408.9,225.5M403.1,217.8L409.3,225.2M403.7,217.3L409.8,224.7" stroke="#000" stroke-opacity="0.3" stroke-width="0.5" fill="none"/>
<path d="M387.26,232.59A202.30,202.30 0 0 1 405.04,216.21L411.11,223.65A192.70,192.70 0 0 0 394.18,239.25Z" fill="none" stroke="#111" stroke-width="1.0"/>
<text x="383.6" y="210.8" transform="rotate(407.3 383.6 210.8)" font-size="10.9" text-anchor="middle" dominant-baseline="central" fill="#111" stroke="#111" stroke-width="0.3">20</text>
<path d="M404.89,210.43A206.90,206.90 0 0 1 420.24,199.43" fill="none" stroke="#7cccb8" stroke-width="1.7"/>
<path d="M407.74,214.05A202.30,202.30 0 0 1 422.74,203.29L427.98,211.34A192.70,192.70 0 0 0 413.68,221.58Z" fill="#fff"/>
<path d="M407.74,214.05A202.30,202.30 0 0 1 408.58,213.38L414.49,220.95A192.70,192.70 0 0 0 413.68,221.58Z" fill="#d8d8d8"/>
<path d="M408.58,213.38A202.30,202.30 0 0 1 409.80,212.44L415.64,220.06A192.70,192.70 0 0 0 414.49,220.95Z" fill="#7a9fcc"/>
<path d="M409.80,212.44A202.30,202.30 0 0 1 411.05,211.49L416.84,219.15A192.70,192.70 0 0 0 415.64,220.06Z" fill="#d8d8d8"/>
<path d="M410.80,211.68A202.30,202.30 0 0 1 412.34,210.52L418.06,218.23A192.70,192.70 0 0 0 416.60,219.33Z" fill="#d93a30"/>
<path d="M412.74,210.23A202.30,202.30 0 0 1 415.10,208.51L420.69,216.31A192.70,192.70 0 0 0 418.45,217.95Z" fill="#101010"/>
<path d="M415.97,207.89A202.30,202.30 0 0 1 417.45,206.85L422.93,214.73A192.70,192.70 0 0 0 421.53,215.72Z" fill="#6e6e6e"/>
<path d="M418.81,205.91A202.30,202.30 0 0 1 419.44,205.48L424.83,213.42A192.70,192.70 0 0 0 424.23,213.84Z" fill="#a4a4a4"/>
<path d="M420.05,205.07A202.30,202.30 0 0 1 420.97,204.45L426.29,212.45A192.70,192.70 0 0 0 425.41,213.04Z" fill="#a4a4a4"/>
<path d="M408.6,213.4L414.5,221.0M409.8,212.4L415.6,220.1M411.0,211.5L416.8,219.1M412.1,210.7L417.8,218.4M412.7,210.2L418.4,217.9M415.1,208.5L420.7,216.3M416.0,207.9L421.5,215.7M417.4,206.8L422.9,214.7M418.8,205.9L424.2,213.8M419.4,205.5L424.8,213.4M420.0,205.1L425.4,213.0M421.0,204.5L426.3,212.4" stroke="#000" stroke-opacity="0.3" stroke-width="0.5" fill="none"/>
<path d="M407.74,214.05A202.30,202.30 0 0 1 422.74,203.29L427.98,211.34A192.70,192.70 0 0 0 413.68,221.58Z" fill="none" stroke="#111" stroke-width="1.0"/>
<text x="404.5" y="193.7" transform="rotate(414.4 404.5 193.7)" font-size="10.9" text-anchor="middle" dominant-baseline="central" fill="#111" stroke="#111" stroke-width="0.3">21</text>
<path d="M423.22,197.53A206.90,206.90 0 0 1 440.78,187.69" fill="none" stroke="#7d4aa5" stroke-width="1.7"/>
<path d="M425.66,201.43A202.30,202.30 0 0 1 442.83,191.81L447.11,200.40A192.70,192.70 0 0 0 430.75,209.56Z" fill="#fff"/>
<path d="M425.66,201.43A202.30,202.30 0 0 1 426.90,200.66L431.93,208.83A192.70,192.70 0 0 0 430.75,209.56Z" fill="#d8d8d8"/>
<path d="M426.90,200.66A202.30,202.30 0 0 1 428.37,199.76L433.34,207.97A192.70,192.70 0 0 0 431.93,208.83Z" fill="#7a9fcc"/>
<path d="M428.37,199.76A202.30,202.30 0 0 1 429.66,198.99L434.56,207.24A192.70,192.70 0 0 0 433.34,207.97Z" fill="#d8d8d8"/>
<path d="M429.39,199.14A202.30,202.30 0 0 1 431.81,197.73L436.61,206.04A192.70,192.70 0 0 0 434.31,207.39Z" fill="#d93a30"/>
<path d="M432.97,197.06A202.30,202.30 0 0 1 433.41,196.81L438.13,205.17A192.70,192.70 0 0 0 437.72,205.40Z" fill="#d2d2d2"/>
<path d="M434.21,196.36A202.30,202.30 0 0 1 435.45,195.67L440.08,204.08A192.70,192.70 0 0 0 438.90,204.74Z" fill="#a4a4a4"/>
<path d="M436.33,195.19A202.30,202.30 0 0 1 438.15,194.21L442.65,202.69A192.70,192.70 0 0 0 440.92,203.63Z" fill="#a4a4a4"/>
<path d="M439.31,193.60A202.30,202.30 0 0 1 440.40,193.04L444.79,201.57A192.70,192.70 0 0 0 443.75,202.11Z" fill="#a4a4a4"/>
<path d="M441.83,192.31A202.30,202.30 0 0 1 442.18,192.13L446.49,200.71A192.70,192.70 0 0 0 446.16,200.88Z" fill="#a4a4a4"/>
<path d="M426.9,200.7L431.9,208.8M428.4,199.8L433.3,208.0M429.7,199.0L434.6,207.2M431.5,197.9L436.4,206.2M433.0,197.1L437.7,205.4M433.4,196.8L438.1,205.2M434.2,196.4L438.9,204.7M435.5,195.7L440.1,204.1M436.3,195.2L440.9,203.6M438.2,194.2L442.7,202.7M439.3,193.6L443.8,202.1M440.4,193.0L444.8,201.6M441.8,192.3L446.2,200.9M442.2,192.1L446.5,200.7" stroke="#000" stroke-opacity="0.3" stroke-width="0.5" fill="none"/>
<path d="M425.66,201.43A202.30,202.30 0 0 1 442.83,191.81L447.11,200.40A192.70,192.70 0 0 0 430.75,209.56Z" fill="none" stroke="#111" stroke-width="1.0"/>
<text x="425.2" y="180.5" transform="rotate(420.7 425.2 180.5)" font-size="10.9" text-anchor="middle" dominant-baseline="central" fill="#111" stroke="#111" stroke-width="0.3">22</text>
<path d="M443.96,186.14A206.90,206.90 0 0 1 502.02,168.33" fill="none" stroke="#e38a86" stroke-width="1.7"/>
<path d="M445.94,190.29A202.30,202.30 0 0 1 502.70,172.88L504.14,182.37A192.70,192.70 0 0 0 450.07,198.96Z" fill="#fff"/>
<path d="M447.43,189.59A202.30,202.30 0 0 1 448.02,189.31L452.06,198.02A192.70,192.70 0 0 0 451.49,198.29Z" fill="#a4a4a4"/>
<path d="M449.24,188.75A202.30,202.30 0 0 1 451.91,187.56L455.76,196.36A192.70,192.70 0 0 0 453.22,197.49Z" fill="#a4a4a4"/>
<path d="M452.68,187.23A202.30,202.30 0 0 1 453.60,186.83L457.37,195.66A192.70,192.70 0 0 0 456.49,196.04Z" fill="#a4a4a4"/>
<path d="M454.66,186.38A202.30,202.30 0 0 1 456.22,185.74L459.86,194.62A192.70,192.70 0 0 0 458.38,195.24Z" fill="#101010"/>
<path d="M457.00,185.42A202.30,202.30 0 0 1 459.18,184.55L462.68,193.49A192.70,192.70 0 0 0 460.61,194.32Z" fill="#101010"/>
<path d="M460.89,183.89A202.30,202.30 0 0 1 462.33,183.35L465.68,192.34A192.70,192.70 0 0 0 464.32,192.86Z" fill="#6e6e6e"/>
<path d="M463.55,182.89A202.30,202.30 0 0 1 465.36,182.24L468.57,191.29A192.70,192.70 0 0 0 466.85,191.91Z" fill="#d2d2d2"/>
<path d="M466.26,181.92A202.30,202.30 0 0 1 468.62,181.12L471.68,190.22A192.70,192.70 0 0 0 469.43,190.99Z" fill="#d93a30"/>
<path d="M468.92,181.02A202.30,202.30 0 0 1 470.08,180.63L473.07,189.76A192.70,192.70 0 0 0 471.96,190.12Z" fill="#a4a4a4"/>
<path d="M471.54,180.16A202.30,202.30 0 0 1 472.31,179.92L475.19,189.08A192.70,192.70 0 0 0 474.46,189.31Z" fill="#a4a4a4"/>
<path d="M473.08,179.68A202.30,202.30 0 0 1 476.24,178.73L478.93,187.94A192.70,192.70 0 0 0 475.92,188.85Z" fill="#101010"/>
<path d="M476.83,178.55A202.30,202.30 0 0 1 478.90,177.97L481.47,187.22A192.70,192.70 0 0 0 479.50,187.78Z" fill="#101010"/>
<path d="M479.53,177.80A202.30,202.30 0 0 1 481.31,177.32L483.76,186.60A192.70,192.70 0 0 0 482.06,187.05Z" fill="#6e6e6e"/>
<path d="M482.90,176.90A202.30,202.30 0 0 1 483.31,176.80L485.67,186.10A192.70,192.70 0 0 0 485.28,186.20Z" fill="#a4a4a4"/>
<path d="M485.17,176.33A202.30,202.30 0 0 1 488.09,175.65L490.22,185.01A192.70,192.70 0 0 0 487.44,185.66Z" fill="#6e6e6e"/>
<path d="M489.74,175.28A202.30,202.30 0 0 1 492.66,174.66L494.58,184.07A192.70,192.70 0 0 0 491.79,184.66Z" fill="#101010"/>
<path d="M493.30,174.53A202.30,202.30 0 0 1 494.51,174.30L496.34,183.72A192.70,192.70 0 0 0 495.19,183.95Z" fill="#d2d2d2"/>
<path d="M496.17,173.98A202.30,202.30 0 0 1 497.04,173.82L498.74,183.27A192.70,192.70 0 0 0 497.92,183.42Z" fill="#6e6e6e"/>
<path d="M497.72,173.70A202.30,202.30 0 0 1 499.61,173.37L501.19,182.84A192.70,192.70 0 0 0 499.39,183.15Z" fill="#101010"/>
<path d="M447.4,189.6L451.5,198.3M448.0,189.3L452.1,198.0M449.2,188.8L453.2,197.5M451.9,187.6L455.8,196.4M452.7,187.2L456.5,196.0M453.6,186.8L457.4,195.7M454.7,186.4L458.4,195.2M456.2,185.7L459.9,194.6M457.0,185.4L460.6,194.3M459.2,184.6L462.7,193.5M460.9,183.9L464.3,192.9M462.3,183.3L465.7,192.3M463.6,182.9L466.8,191.9M465.4,182.2L468.6,191.3M466.6,181.8L469.7,190.9M468.3,181.2L471.4,190.3M468.9,181.0L472.0,190.1M470.1,180.6L473.1,189.8M471.5,180.2L474.5,189.3M472.3,179.9L475.2,189.1M473.1,179.7L475.9,188.8M476.2,178.7L478.9,187.9M476.8,178.6L479.5,187.8M478.9,178.0L481.5,187.2M479.5,177.8L482.1,187.1M481.3,177.3L483.8,186.6M482.9,176.9L485.3,186.2M483.3,176.8L485.7,186.1M485.2,176.3L487.4,185.7M488.1,175.6L490.2,185.0M489.7,175.3L491.8,184.7M492.7,174.7L494.6,184.1M493.3,174.5L495.2,183.9M494.5,174.3L496.3,183.7M496.2,174.0L497.9,183.4M497.0,173.8L498.7,183.3M497.7,173.7L499.4,183.2M499.6,173.4L501.2,182.8" stroke="#000" stroke-opacity="0.3" stroke-width="0.5" fill="none"/>
<path d="M445.94,190.29A202.30,202.30 0 0 1 502.70,172.88L504.14,182.37A192.70,192.70 0 0 0 450.07,198.96Z" fill="none" stroke="#111" stroke-width="1.0"/>
<text x="468.3" y="162.1" transform="rotate(432.9 468.3 162.1)" font-size="10.9" text-anchor="middle" dominant-baseline="central" fill="#111" stroke="#111" stroke-width="0.3">X</text>
<path d="M505.52,167.83A206.90,206.90 0 0 1 528.74,166.04" fill="none" stroke="#d99a55" stroke-width="1.7"/>
<path d="M506.13,172.39A202.30,202.30 0 0 1 528.83,170.64L529.03,180.24A192.70,192.70 0 0 0 507.40,181.91Z" fill="#fff"/>
<path d="M507.08,172.27A202.30,202.30 0 0 1 507.27,172.24L508.49,181.76A192.70,192.70 0 0 0 508.31,181.79Z" fill="#a4a4a4"/>
<path d="M510.24,171.88A202.30,202.30 0 0 1 511.54,171.74L512.56,181.29A192.70,192.70 0 0 0 511.32,181.42Z" fill="#d93a30"/>
<path d="M511.88,171.71A202.30,202.30 0 0 1 513.68,171.52L514.59,181.08A192.70,192.70 0 0 0 512.88,181.25Z" fill="#a4a4a4"/>
<path d="M514.56,171.44A202.30,202.30 0 0 1 516.12,171.31L516.92,180.87A192.70,192.70 0 0 0 515.43,181.00Z" fill="#a4a4a4"/>
<path d="M517.12,171.22A202.30,202.30 0 0 1 528.83,170.64L529.03,180.24A192.70,192.70 0 0 0 517.87,180.79Z" fill="#d8d8d8"/>
<path d="M507.1,172.3L508.3,181.8M507.3,172.2L508.5,181.8M510.5,171.8L511.6,181.4M511.2,171.8L512.3,181.3M511.9,171.7L512.9,181.3M513.7,171.5L514.6,181.1M514.6,171.4L515.4,181.0M516.1,171.3L516.9,180.9M517.1,171.2L517.9,180.8" stroke="#000" stroke-opacity="0.3" stroke-width="0.5" fill="none"/>
<path d="M506.13,172.39A202.30,202.30 0 0 1 528.83,170.64L529.03,180.24A192.70,192.70 0 0 0 507.40,181.91Z" fill="none" stroke="#111" stroke-width="1.0"/>
<text x="516.1" y="153.1" transform="rotate(445.6 516.1 153.1)" font-size="10.9" text-anchor="middle" dominant-baseline="central" fill="#111" stroke="#111" stroke-width="0.3">Y</text>
<path d="M538.8,184.7L537.9,194.0M654.8,229.3L648.9,236.5" stroke="#111" stroke-width="1.0" fill="none"/>
<text x="537.8" y="195.5" transform="rotate(-88.4 537.8 195.5)" font-size="4.5" font-weight="bold" text-anchor="end" dominant-baseline="central" fill="#111" stroke="#111" stroke-width="0.32">RP11-206L10.11</text>
<text x="647.9" y="237.6" transform="rotate(-49.6 647.9 237.6)" font-size="4.5" font-weight="bold" text-anchor="end" dominant-baseline="central" fill="#111" stroke="#111" stroke-width="0.32">AC093483.1</text>
<g fill="none" stroke-linecap="round">
<path d="M537.5,206.5C534.5,319.6 510.3,324.7 463.8,226.2" stroke="#8188c1" stroke-width="0.65"/>
<path d="M537.5,206.5C534.5,319.6 506.9,326.5 457.3,238.3" stroke="#8188c1" stroke-width="0.65"/>
<path d="M537.5,206.5C534.5,319.6 508.2,325.7 455.6,225.5" stroke="#8188c1" stroke-width="0.65"/>
<path d="M537.5,206.5C534.5,319.6 497.4,333.3 424.6,252.3" stroke="#8188c1" stroke-width="0.65"/>
<path d="M537.5,206.5C534.5,319.6 487.1,345.8 389.7,288.2" stroke="#8188c1" stroke-width="0.65"/>
<path d="M537.5,206.5C534.5,319.6 482.2,356.7 383.3,325.1" stroke="#8188c1" stroke-width="0.65"/>
<path d="M537.5,206.5C534.5,319.6 483.3,353.8 385.1,316.1" stroke="#8188c1" stroke-width="0.65"/>
<path d="M537.5,206.5C534.5,319.6 502.8,329.0 441.5,239.9" stroke="#8188c1" stroke-width="0.65"/>
<path d="M537.5,206.5C534.5,319.6 503.7,328.4 441.4,233.9" stroke="#8188c1" stroke-width="0.65"/><path d="M441.4,233.9L481.7,295.0" stroke="#d8937a" stroke-width="0.8500000000000001"/>
<path d="M537.5,206.5C534.5,319.6 490.6,340.7 403.5,274.5" stroke="#4a59b0" stroke-width="0.65"/>
<path d="M537.5,206.5C534.5,319.6 492.1,338.7 407.2,267.8" stroke="#8188c1" stroke-width="0.65"/><path d="M407.2,267.8L461.4,313.1" stroke="#d8937a" stroke-width="0.8500000000000001"/>
<path d="M537.5,206.5C534.5,319.6 491.6,339.4 406.7,270.8" stroke="#8188c1" stroke-width="0.65"/>
<path d="M537.5,206.5C534.5,319.6 482.7,355.2 376.5,317.9" stroke="#4a59b0" stroke-width="0.65"/>
<path d="M537.5,206.5C534.5,319.6 482.8,355.0 376.7,317.2" stroke="#4a59b0" stroke-width="0.65"/>
<path d="M537.5,206.5C534.5,319.6 482.9,354.8 377.0,316.6" stroke="#4a59b0" stroke-width="0.65"/>
<path d="M537.5,206.5C534.5,319.6 482.7,355.5 376.2,318.6" stroke="#4a59b0" stroke-width="0.65"/>
<path d="M537.5,206.5C534.5,319.6 567.5,332.3 640.8,246.0" stroke="#4a59b0" stroke-width="0.8"/>
<path d="M537.5,206.5C534.5,319.6 581.5,350.9 679.6,306.4" stroke="#8188c1" stroke-width="0.65"/>
<path d="M537.5,206.5C534.5,319.6 584.1,358.0 688.2,327.6" stroke="#8188c1" stroke-width="0.65"/>
<path d="M537.5,206.5C534.5,319.6 507.7,419.8 453.8,519.4" stroke="#4a59b0" stroke-width="0.8"/>
<path d="M537.0,206.4C534.3,319.6 507.5,419.7 453.3,519.1" stroke="#4a59b0" stroke-width="0.65"/>
<path d="M538.1,206.5C534.6,319.6 507.9,419.9 454.6,519.8" stroke="#4a59b0" stroke-width="0.65"/>
<path d="M537.5,206.5C534.5,319.6 523.5,425.3 503.2,536.7" stroke="#8188c1" stroke-width="0.65"/>
<path d="M537.5,206.5C534.5,319.6 538.9,425.8 551.6,538.4" stroke="#8188c1" stroke-width="0.65"/>
<path d="M490.0,212.1C519.2,321.4 514.7,322.9 477.4,221.0" stroke="#8188c1" stroke-width="0.65"/>
<path d="M494.2,211.0C520.6,321.1 516.5,322.2 481.8,215.3" stroke="#8188c1" stroke-width="0.65"/>
<path d="M455.6,225.5C508.2,325.7 504.1,328.1 442.8,232.9" stroke="#8188c1" stroke-width="0.65"/>
<path d="M415.5,254.9C495.4,335.1 490.6,340.7 403.5,274.5" stroke="#8188c1" stroke-width="0.65"/>
<path d="M461.9,222.3C510.3,324.7 491.6,339.4 406.7,270.8" stroke="#8188c1" stroke-width="0.65"/>
<path d="M640.8,246.0C567.5,332.3 480.2,365.9 369.2,351.3" stroke="#8188c1" stroke-width="0.65"/>
<path d="M640.8,246.0C567.5,332.3 480.4,364.5 373.3,347.5" stroke="#8188c1" stroke-width="0.65"/>
<path d="M640.8,246.0C567.5,332.3 479.8,370.7 368.0,366.2" stroke="#8188c1" stroke-width="0.65"/>
<path d="M640.8,246.0C567.5,332.3 479.9,369.1 374.3,361.6" stroke="#8188c1" stroke-width="0.65"/>
<path d="M640.8,246.0C567.5,332.3 480.0,367.8 367.3,357.0" stroke="#8188c1" stroke-width="0.65"/>
<path d="M640.8,246.0C567.5,332.3 480.4,381.5 370.7,399.3" stroke="#8188c1" stroke-width="0.65"/>
<path d="M640.8,246.0C567.5,332.3 481.1,384.9 370.8,410.4" stroke="#8188c1" stroke-width="0.65"/>
<path d="M640.8,246.0C567.5,332.3 482.8,355.2 376.6,317.7" stroke="#4a59b0" stroke-width="0.65"/>
<path d="M640.8,246.0C567.5,332.3 482.9,354.7 377.1,316.3" stroke="#4a59b0" stroke-width="0.65"/>
<path d="M640.8,246.0C567.5,332.3 495.1,410.3 416.3,488.1" stroke="#8188c1" stroke-width="0.65"/>
<path d="M640.8,246.0C567.5,332.3 491.2,406.0 406.5,473.2" stroke="#8188c1" stroke-width="0.65"/>
<path d="M640.8,246.0C567.5,332.3 499.1,414.0 428.7,499.7" stroke="#8188c1" stroke-width="0.65"/>
<path d="M640.8,246.0C567.5,332.3 516.4,423.5 481.6,529.4" stroke="#8188c1" stroke-width="0.65"/>
<path d="M640.8,246.0C567.5,332.3 522.2,425.1 500.2,531.2" stroke="#8188c1" stroke-width="0.65"/>
<path d="M640.8,246.0C567.5,332.3 517.7,423.9 485.3,532.4" stroke="#8188c1" stroke-width="0.65"/>
<path d="M640.8,246.0C567.5,332.3 507.9,419.9 454.6,519.8" stroke="#4a59b0" stroke-width="0.65"/>
<path d="M640.8,246.0C567.5,332.3 507.7,419.8 453.8,519.4" stroke="#4a59b0" stroke-width="0.65"/>
<path d="M640.8,246.0C567.5,332.3 507.4,419.6 453.0,518.9" stroke="#4a59b0" stroke-width="0.65"/>
<path d="M640.8,246.0C567.5,332.3 581.5,350.9 679.6,306.4" stroke="#8188c1" stroke-width="0.65"/>
<path d="M640.8,246.0C567.5,332.3 583.2,355.1 686.8,318.3" stroke="#8188c1" stroke-width="0.65"/>
<path d="M640.8,246.0C567.5,332.3 583.7,356.5 688.8,322.6" stroke="#8188c1" stroke-width="0.65"/>
<path d="M640.8,246.0C567.5,332.3 584.1,358.0 688.2,327.6" stroke="#8188c1" stroke-width="0.65"/>
<path d="M640.8,246.0C567.5,332.3 586.1,368.8 699.0,360.1" stroke="#8188c1" stroke-width="0.65"/>
<path d="M640.8,246.0C567.5,332.3 585.5,363.7 697.0,344.3" stroke="#8188c1" stroke-width="0.65"/>
<path d="M640.8,246.0C567.5,332.3 514.7,322.9 477.4,221.0" stroke="#8188c1" stroke-width="0.65"/>
<path d="M537.5,206.5C534.5,319.6 516.3,322.3 481.0,215.6" stroke="#8188c1" stroke-width="0.65"/>
<path d="M537.5,206.5C534.5,319.6 519.2,321.4 492.6,222.0" stroke="#8188c1" stroke-width="0.65"/>
<path d="M453.8,519.4C507.7,419.8 543.1,320.6 564.3,210.7" stroke="#8188c1" stroke-width="0.65"/>
<path d="M453.8,519.4C507.7,419.8 545.9,321.2 572.2,216.3" stroke="#8188c1" stroke-width="0.65"/>
<path d="M453.8,519.4C507.7,419.8 547.3,321.6 577.1,215.0" stroke="#8188c1" stroke-width="0.65"/>
<path d="M453.8,519.4C507.7,419.8 548.7,322.0 579.8,221.5" stroke="#8188c1" stroke-width="0.65"/>
<path d="M453.8,519.4C507.7,419.8 551.5,322.9 587.9,224.2" stroke="#8188c1" stroke-width="0.65"/>
<path d="M453.8,519.4C507.7,419.8 574.4,339.3 662.2,268.0" stroke="#8188c1" stroke-width="0.65"/>
<path d="M453.8,519.4C507.7,419.8 575.2,340.3 660.7,274.2" stroke="#8188c1" stroke-width="0.65"/>
<path d="M453.8,519.4C507.7,419.8 484.3,394.4 380.7,440.1" stroke="#8188c1" stroke-width="0.65"/>
<path d="M453.8,519.4C507.7,419.8 489.6,403.8 402.9,465.5" stroke="#8188c1" stroke-width="0.65"/>
<path d="M503.2,536.7C523.5,425.3 538.9,425.8 551.6,538.4" stroke="#4a59b0" stroke-width="0.65"/>
<path d="M503.2,536.7C523.5,425.3 540.6,425.6 555.7,531.2" stroke="#4a59b0" stroke-width="0.65"/>
<path d="M503.2,536.7C523.5,425.3 565.0,415.5 631.7,504.5" stroke="#8188c1" stroke-width="0.65"/>
<path d="M503.2,536.7C523.5,425.3 558.8,419.5 613.7,518.5" stroke="#8188c1" stroke-width="0.65"/>
<path d="M503.2,536.7C523.5,425.3 557.5,420.2 609.7,520.7" stroke="#8188c1" stroke-width="0.65"/>
<path d="M503.2,536.7C523.5,425.3 556.1,420.9 604.1,521.0" stroke="#8188c1" stroke-width="0.65"/>
<path d="M503.2,536.7C523.5,425.3 570.5,410.8 644.1,485.2" stroke="#8188c1" stroke-width="0.65"/>
<path d="M503.2,536.7C523.5,425.3 550.0,423.4 586.1,530.2" stroke="#8188c1" stroke-width="0.65"/>
<path d="M503.2,536.7C523.5,425.3 567.2,413.7 634.9,494.6" stroke="#8188c1" stroke-width="0.65"/>
<path d="M375.9,317.7C482.7,355.2 585.6,381.1 697.5,398.7" stroke="#8188c1" stroke-width="0.65"/>
<path d="M367.7,392.6C480.1,379.2 584.2,387.7 693.0,419.1" stroke="#8188c1" stroke-width="0.65"/>
<path d="M389.7,288.2C487.1,345.8 578.0,401.4 673.7,461.9" stroke="#8188c1" stroke-width="0.65"/>
<path d="M442.8,232.9C504.1,328.1 573.0,408.1 657.9,483.0" stroke="#8188c1" stroke-width="0.65"/>
<path d="M380.7,440.1C484.3,394.4 585.5,382.0 694.6,400.8" stroke="#8188c1" stroke-width="0.65"/>
<path d="M423.9,498.7C498.1,413.1 582.5,392.7 687.6,434.7" stroke="#8188c1" stroke-width="0.65"/>
<path d="M532.1,539.4C532.7,426.2 579.9,398.2 677.6,450.7" stroke="#8188c1" stroke-width="0.65"/>
<path d="M375.9,428.0C482.7,390.5 586.1,377.3 693.4,386.1" stroke="#8188c1" stroke-width="0.65"/>
</g>
<path d="M536.5,184.6L533.0,193.9M539.7,184.7L542.7,194.2M542.3,184.8L547.6,194.5M548.2,185.2L552.5,195.0M548.7,185.3L557.3,195.6M549.2,185.3L562.1,196.3M555.8,186.0L566.9,197.1M567.3,187.8L571.7,198.1M571.5,188.6L576.4,199.2M572.5,188.8L581.1,200.5M574.7,189.3L585.8,201.9M587.7,192.7L590.4,203.4M588.4,192.9L595.0,205.0M588.7,193.0L599.6,206.7M589.3,193.2L604.1,208.6M589.6,193.3L608.5,210.6M629.7,211.3L625.1,219.4M630.1,211.6L628.9,221.8M634.3,214.2L632.8,224.3M635.3,214.8L636.7,227.0M635.7,215.1L640.7,229.9M679.2,254.3L672.0,260.1M679.9,255.1L674.6,263.4M681.4,257.0L677.7,267.5M690.3,269.5L681.0,272.3M695.9,278.4L683.8,276.5M696.2,279.0L686.5,280.9M696.8,279.9L689.1,285.3M697.7,281.7L691.5,289.7M699.0,284.0L693.8,294.3M699.7,285.4L696.0,298.9M700.3,286.4L698.0,303.6M700.6,287.0L699.9,308.3M708.7,305.1L701.7,313.1M709.1,306.2L703.3,317.9M710.3,309.5L704.8,322.8M710.5,310.2L706.2,327.7M717.3,334.5L708.2,336.3M719.8,348.9L710.4,349.2M720.3,353.4L711.0,354.2M720.3,353.7L711.5,359.2M720.3,353.9L711.8,364.5M721.3,371.4L712.0,371.3M721.3,372.9L712.0,376.0M721.2,377.5L711.8,381.0M720.7,388.3L711.4,387.6M718.6,404.7L709.4,403.4M707.8,443.0L699.2,439.3M707.7,443.2L697.5,443.5M704.3,451.2L695.4,448.2M702.5,455.0L693.0,453.2M699.2,461.5L690.6,457.8M689.3,477.9L681.6,472.7M688.1,479.7L679.1,476.3M681.6,488.6L674.4,482.6M665.5,506.7L658.9,500.1M653.3,517.8L647.9,510.1M652.7,518.3L644.4,513.0M638.4,528.9L640.4,516.1M633.5,532.1L636.9,518.7M630.8,533.8L632.8,521.5M625.5,536.9L628.6,524.2M623.3,538.1L624.2,526.9M620.0,539.9L619.8,529.5M617.2,541.3L615.5,531.8M612.9,543.4L610.5,534.3M597.4,549.8L594.7,540.9M596.5,550.2L590.3,542.5M595.5,550.5L585.2,544.1M594.3,550.9L580.1,545.6M593.1,551.4L574.8,547.0M558.9,559.4L558.4,550.1M558.4,559.5L553.0,550.8M547.9,560.6L548.1,551.3M541.5,561.0L543.1,551.6M540.9,561.0L537.5,551.8M536.9,561.2L532.1,551.9M520.5,560.8L527.4,551.8M514.6,560.3L523.0,551.6M501.6,558.6L518.3,551.3M501.1,558.5L513.4,550.8M500.3,558.3L508.4,550.2M493.9,557.1L496.6,548.2M489.8,556.2L491.6,547.1M484.0,554.7L486.7,545.8M481.4,554.0L481.7,544.4M465.2,548.6L477.1,543.0M460.4,546.7L472.0,541.2M457.1,545.2L467.3,539.4M454.9,544.2L462.3,537.4M454.4,544.0L457.5,535.2M447.1,540.5L450.5,531.7M446.7,540.3L446.4,529.5M445.5,539.6L442.3,527.2M443.3,538.5L438.3,524.8M437.4,535.1L434.3,522.3M436.9,534.8L430.5,519.6M436.6,534.6L426.7,516.9M428.8,529.7L422.9,514.1M428.0,529.2L419.3,511.1M426.3,528.1L415.7,508.1M403.1,509.3L409.9,502.9M398.8,505.0L405.6,498.7M393.1,498.9L402.2,495.1M392.4,498.2L398.8,491.4M392.0,497.7L395.9,488.0M391.5,497.2L392.7,484.1M391.1,496.7L389.9,480.4M378.8,480.9L387.2,476.7M368.0,463.6L375.8,458.5M367.8,463.3L373.4,453.9M367.2,462.2L371.2,449.4M364.5,456.9L369.2,445.1M355.4,435.4L364.1,432.1M347.2,403.8L356.3,401.7M346.0,395.4L355.3,394.1M344.7,369.9L354.0,370.2M344.7,369.3L354.1,365.7M344.9,363.7L354.5,360.2M345.2,359.3L354.8,355.8M346.0,350.8L355.5,349.5M346.2,349.4L356.2,344.8M347.3,341.9L357.0,340.1M348.6,334.9L358.3,334.1M348.7,334.3L359.3,329.6M349.9,329.0L360.5,325.2M354.0,314.5L362.5,318.5M354.1,314.1L364.1,313.6M354.5,313.0L365.9,308.8M355.1,311.1L367.8,304.0M356.2,308.1L369.9,299.2M368.5,281.2L373.9,290.8M374.1,271.8L376.4,286.3M374.5,271.3L378.9,281.8M375.5,269.7L381.6,277.5M376.2,268.6L384.4,273.2M382.0,260.4L390.5,264.6M382.2,260.1L393.8,260.4M382.6,259.6L397.3,256.2M398.6,241.0L406.7,246.0M398.7,240.9L410.0,242.8M406.8,233.2L413.4,239.7M406.9,233.1L417.1,236.5M428.0,216.6L431.6,225.4M428.4,216.4L436.1,222.4M441.2,208.5L445.2,216.9M441.5,208.3L449.8,214.4M453.2,202.3L456.6,211.0M468.7,195.9L471.5,204.8M469.0,195.8L476.8,202.9M473.3,194.3L481.8,201.4M473.8,194.2L486.7,200.0M478.1,192.8L491.3,198.8M505.1,186.7L506.0,196.0" stroke="#111" stroke-width="1.0" fill="none"/>
<text x="533.0" y="195.4" transform="rotate(-90.0 533.0 195.4)" font-size="4.5" font-weight="bold" text-anchor="end" dominant-baseline="central" fill="#111" stroke="#111" stroke-width="0.32">MTOR</text>
<text x="542.7" y="195.7" transform="rotate(-86.9 542.7 195.7)" font-size="4.5" font-weight="bold" text-anchor="end" dominant-baseline="central" fill="#111" stroke="#111" stroke-width="0.32">SDHB</text>
<text x="547.5" y="196.0" transform="rotate(-85.3 547.5 196.0)" font-size="4.5" font-weight="bold" text-anchor="end" dominant-baseline="central" fill="#111" stroke="#111" stroke-width="0.32">PAX7</text>
<text x="552.3" y="196.5" transform="rotate(-83.8 552.3 196.5)" font-size="4.5" font-weight="bold" text-anchor="end" dominant-baseline="central" fill="#111" stroke="#111" stroke-width="0.32">MYCL1</text>
<text x="557.1" y="197.0" transform="rotate(-82.2 557.1 197.0)" font-size="4.5" font-weight="bold" text-anchor="end" dominant-baseline="central" fill="#111" stroke="#111" stroke-width="0.32">MPL</text>
<text x="561.9" y="197.8" transform="rotate(-80.6 561.9 197.8)" font-size="4.5" font-weight="bold" text-anchor="end" dominant-baseline="central" fill="#111" stroke="#111" stroke-width="0.32">MUTYH</text>
<text x="566.6" y="198.6" transform="rotate(-79.1 566.6 198.6)" font-size="4.5" font-weight="bold" text-anchor="end" dominant-baseline="central" fill="#111" stroke="#111" stroke-width="0.32">JAK1</text>
<text x="571.4" y="199.6" transform="rotate(-77.5 571.4 199.6)" font-size="4.5" font-weight="bold" text-anchor="end" dominant-baseline="central" fill="#111" stroke="#111" stroke-width="0.32">BCL10</text>
<text x="576.1" y="200.7" transform="rotate(-76.0 576.1 200.7)" font-size="4.5" font-weight="bold" text-anchor="end" dominant-baseline="central" fill="#111" stroke="#111" stroke-width="0.32">RBM15</text>
<text x="580.7" y="201.9" transform="rotate(-74.4 580.7 201.9)" font-size="4.5" font-weight="bold" text-anchor="end" dominant-baseline="central" fill="#111" stroke="#111" stroke-width="0.32">NRAS</text>
<text x="585.4" y="203.3" transform="rotate(-72.8 585.4 203.3)" font-size="4.5" font-weight="bold" text-anchor="end" dominant-baseline="central" fill="#111" stroke="#111" stroke-width="0.32">NOTCH2</text>
<text x="590.0" y="204.8" transform="rotate(-71.3 590.0 204.8)" font-size="4.5" font-weight="bold" text-anchor="end" dominant-baseline="central" fill="#111" stroke="#111" stroke-width="0.32">NTRK1</text>
<text x="594.5" y="206.4" transform="rotate(-69.7 594.5 206.4)" font-size="4.5" font-weight="bold" text-anchor="end" dominant-baseline="central" fill="#111" stroke="#111" stroke-width="0.32">FCGR2B</text>
<text x="599.0" y="208.1" transform="rotate(-68.2 599.0 208.1)" font-size="4.5" font-weight="bold" text-anchor="end" dominant-baseline="central" fill="#111" stroke="#111" stroke-width="0.32">SDHC</text>
<text x="603.5" y="210.0" transform="rotate(-66.6 603.5 210.0)" font-size="4.5" font-weight="bold" text-anchor="end" dominant-baseline="central" fill="#111" stroke="#111" stroke-width="0.32">PBX1</text>
<text x="607.9" y="212.0" transform="rotate(-65.0 607.9 212.0)" font-size="4.5" font-weight="bold" text-anchor="end" dominant-baseline="central" fill="#111" stroke="#111" stroke-width="0.32">FH</text>
<text x="624.3" y="220.7" transform="rotate(-59.0 624.3 220.7)" font-size="4.5" font-weight="bold" text-anchor="end" dominant-baseline="central" fill="#111" stroke="#111" stroke-width="0.32">DNMT3A</text>
<text x="628.1" y="223.0" transform="rotate(-57.6 628.1 223.0)" font-size="4.5" font-weight="bold" text-anchor="end" dominant-baseline="central" fill="#111" stroke="#111" stroke-width="0.32">ALK</text>
<text x="632.0" y="225.6" transform="rotate(-56.1 632.0 225.6)" font-size="4.5" font-weight="bold" text-anchor="end" dominant-baseline="central" fill="#111" stroke="#111" stroke-width="0.32">EML4</text>
<text x="635.8" y="228.2" transform="rotate(-54.6 635.8 228.2)" font-size="4.5" font-weight="bold" text-anchor="end" dominant-baseline="central" fill="#111" stroke="#111" stroke-width="0.32">MSH2</text>
<text x="639.8" y="231.1" transform="rotate(-53.0 639.8 231.1)" font-size="4.5" font-weight="bold" text-anchor="end" dominant-baseline="central" fill="#111" stroke="#111" stroke-width="0.32">MSH6</text>
<text x="670.8" y="261.0" transform="rotate(-39.1 670.8 261.0)" font-size="4.5" font-weight="bold" text-anchor="end" dominant-baseline="central" fill="#111" stroke="#111" stroke-width="0.32">IDH1</text>
<text x="673.4" y="264.4" transform="rotate(-37.7 673.4 264.4)" font-size="4.5" font-weight="bold" text-anchor="end" dominant-baseline="central" fill="#111" stroke="#111" stroke-width="0.32">ERBB4</text>
<text x="676.5" y="268.4" transform="rotate(-36.1 676.5 268.4)" font-size="4.5" font-weight="bold" text-anchor="end" dominant-baseline="central" fill="#111" stroke="#111" stroke-width="0.32">PAX3</text>
<text x="679.8" y="273.1" transform="rotate(-34.2 679.8 273.1)" font-size="4.5" font-weight="bold" text-anchor="end" dominant-baseline="central" fill="#111" stroke="#111" stroke-width="0.32">VHL</text>
<text x="682.6" y="277.3" transform="rotate(-32.6 682.6 277.3)" font-size="4.5" font-weight="bold" text-anchor="end" dominant-baseline="central" fill="#111" stroke="#111" stroke-width="0.32">MLH1</text>
<text x="685.2" y="281.6" transform="rotate(-30.9 685.2 281.6)" font-size="4.5" font-weight="bold" text-anchor="end" dominant-baseline="central" fill="#111" stroke="#111" stroke-width="0.32">MYD88</text>
<text x="687.8" y="286.0" transform="rotate(-29.3 687.8 286.0)" font-size="4.5" font-weight="bold" text-anchor="end" dominant-baseline="central" fill="#111" stroke="#111" stroke-width="0.32">CTNNB1</text>
<text x="690.2" y="290.4" transform="rotate(-27.7 690.2 290.4)" font-size="4.5" font-weight="bold" text-anchor="end" dominant-baseline="central" fill="#111" stroke="#111" stroke-width="0.32">SETD2</text>
<text x="692.5" y="294.9" transform="rotate(-26.1 692.5 294.9)" font-size="4.5" font-weight="bold" text-anchor="end" dominant-baseline="central" fill="#111" stroke="#111" stroke-width="0.32">BAP1</text>
<text x="694.6" y="299.5" transform="rotate(-24.4 694.6 299.5)" font-size="4.5" font-weight="bold" text-anchor="end" dominant-baseline="central" fill="#111" stroke="#111" stroke-width="0.32">PBRM1</text>
<text x="696.6" y="304.1" transform="rotate(-22.8 696.6 304.1)" font-size="4.5" font-weight="bold" text-anchor="end" dominant-baseline="central" fill="#111" stroke="#111" stroke-width="0.32">FHIT</text>
<text x="698.5" y="308.8" transform="rotate(-21.2 698.5 308.8)" font-size="4.5" font-weight="bold" text-anchor="end" dominant-baseline="central" fill="#111" stroke="#111" stroke-width="0.32">MAGI1</text>
<text x="700.3" y="313.6" transform="rotate(-19.5 700.3 313.6)" font-size="4.5" font-weight="bold" text-anchor="end" dominant-baseline="central" fill="#111" stroke="#111" stroke-width="0.32">DIRC2</text>
<text x="701.9" y="318.3" transform="rotate(-17.9 701.9 318.3)" font-size="4.5" font-weight="bold" text-anchor="end" dominant-baseline="central" fill="#111" stroke="#111" stroke-width="0.32">ITGB5</text>
<text x="703.4" y="323.2" transform="rotate(-16.3 703.4 323.2)" font-size="4.5" font-weight="bold" text-anchor="end" dominant-baseline="central" fill="#111" stroke="#111" stroke-width="0.32">GATA2</text>
<text x="704.7" y="328.0" transform="rotate(-14.6 704.7 328.0)" font-size="4.5" font-weight="bold" text-anchor="end" dominant-baseline="central" fill="#111" stroke="#111" stroke-width="0.32">FOXL2</text>
<text x="706.7" y="336.6" transform="rotate(-11.8 706.7 336.6)" font-size="4.5" font-weight="bold" text-anchor="end" dominant-baseline="central" fill="#111" stroke="#111" stroke-width="0.32">FGFR3</text>
<text x="708.9" y="349.4" transform="rotate(-7.6 708.9 349.4)" font-size="4.5" font-weight="bold" text-anchor="end" dominant-baseline="central" fill="#111" stroke="#111" stroke-width="0.32">PHOX2B</text>
<text x="709.5" y="354.3" transform="rotate(-6.0 709.5 354.3)" font-size="4.5" font-weight="bold" text-anchor="end" dominant-baseline="central" fill="#111" stroke="#111" stroke-width="0.32">PDGFRA</text>
<text x="710.0" y="359.3" transform="rotate(-4.4 710.0 359.3)" font-size="4.5" font-weight="bold" text-anchor="end" dominant-baseline="central" fill="#111" stroke="#111" stroke-width="0.32">KIT</text>
<text x="710.3" y="364.5" transform="rotate(-2.7 710.3 364.5)" font-size="4.5" font-weight="bold" text-anchor="end" dominant-baseline="central" fill="#111" stroke="#111" stroke-width="0.32">KDR</text>
<text x="710.5" y="371.4" transform="rotate(-0.5 710.5 371.4)" font-size="4.5" font-weight="bold" text-anchor="end" dominant-baseline="central" fill="#111" stroke="#111" stroke-width="0.32">TET2</text>
<text x="710.5" y="376.0" transform="rotate(1.0 710.5 376.0)" font-size="4.5" font-weight="bold" text-anchor="end" dominant-baseline="central" fill="#111" stroke="#111" stroke-width="0.32">EGF</text>
<text x="710.3" y="381.0" transform="rotate(2.6 710.3 381.0)" font-size="4.5" font-weight="bold" text-anchor="end" dominant-baseline="central" fill="#111" stroke="#111" stroke-width="0.32">IL2</text>
<text x="709.9" y="387.4" transform="rotate(4.7 709.9 387.4)" font-size="4.5" font-weight="bold" text-anchor="end" dominant-baseline="central" fill="#111" stroke="#111" stroke-width="0.32">FBXW7</text>
<text x="707.9" y="403.1" transform="rotate(9.8 707.9 403.1)" font-size="4.5" font-weight="bold" text-anchor="end" dominant-baseline="central" fill="#111" stroke="#111" stroke-width="0.32">SDHA</text>
<text x="697.8" y="438.8" transform="rotate(21.8 697.8 438.8)" font-size="4.5" font-weight="bold" text-anchor="end" dominant-baseline="central" fill="#111" stroke="#111" stroke-width="0.32">APC</text>
<text x="696.1" y="442.9" transform="rotate(23.2 696.1 442.9)" font-size="4.5" font-weight="bold" text-anchor="end" dominant-baseline="central" fill="#111" stroke="#111" stroke-width="0.32">REEP5</text>
<text x="694.0" y="447.5" transform="rotate(24.9 694.0 447.5)" font-size="4.5" font-weight="bold" text-anchor="end" dominant-baseline="central" fill="#111" stroke="#111" stroke-width="0.32">CTNNA1</text>
<text x="691.6" y="452.5" transform="rotate(26.7 691.6 452.5)" font-size="4.5" font-weight="bold" text-anchor="end" dominant-baseline="central" fill="#111" stroke="#111" stroke-width="0.32">CSF1R</text>
<text x="689.3" y="457.1" transform="rotate(28.3 689.3 457.1)" font-size="4.5" font-weight="bold" text-anchor="end" dominant-baseline="central" fill="#111" stroke="#111" stroke-width="0.32">NPM1</text>
<text x="680.3" y="471.9" transform="rotate(33.9 680.3 471.9)" font-size="4.5" font-weight="bold" text-anchor="end" dominant-baseline="central" fill="#111" stroke="#111" stroke-width="0.32">DAXX</text>
<text x="677.9" y="475.4" transform="rotate(35.3 677.9 475.4)" font-size="4.5" font-weight="bold" text-anchor="end" dominant-baseline="central" fill="#111" stroke="#111" stroke-width="0.32">TFEB</text>
<text x="673.3" y="481.7" transform="rotate(37.8 673.3 481.7)" font-size="4.5" font-weight="bold" text-anchor="end" dominant-baseline="central" fill="#111" stroke="#111" stroke-width="0.32">BAI3</text>
<text x="657.9" y="499.1" transform="rotate(45.3 657.9 499.1)" font-size="4.5" font-weight="bold" text-anchor="end" dominant-baseline="central" fill="#111" stroke="#111" stroke-width="0.32">TNFAIP3</text>
<text x="647.0" y="509.0" transform="rotate(50.1 647.0 509.0)" font-size="4.5" font-weight="bold" text-anchor="end" dominant-baseline="central" fill="#111" stroke="#111" stroke-width="0.32">CARD11</text>
<text x="643.4" y="511.9" transform="rotate(51.5 643.4 511.9)" font-size="4.5" font-weight="bold" text-anchor="end" dominant-baseline="central" fill="#111" stroke="#111" stroke-width="0.32">PMS2</text>
<text x="639.5" y="514.9" transform="rotate(53.1 639.5 514.9)" font-size="4.5" font-weight="bold" text-anchor="end" dominant-baseline="central" fill="#111" stroke="#111" stroke-width="0.32">EGFR</text>
<text x="636.0" y="517.4" transform="rotate(54.5 636.0 517.4)" font-size="4.5" font-weight="bold" text-anchor="end" dominant-baseline="central" fill="#111" stroke="#111" stroke-width="0.32">SBDS</text>
<text x="631.9" y="520.3" transform="rotate(56.1 631.9 520.3)" font-size="4.5" font-weight="bold" text-anchor="end" dominant-baseline="central" fill="#111" stroke="#111" stroke-width="0.32">AKAP9</text>
<text x="627.8" y="523.0" transform="rotate(57.7 627.8 523.0)" font-size="4.5" font-weight="bold" text-anchor="end" dominant-baseline="central" fill="#111" stroke="#111" stroke-width="0.32">MUC17</text>
<text x="623.5" y="525.6" transform="rotate(59.4 623.5 525.6)" font-size="4.5" font-weight="bold" text-anchor="end" dominant-baseline="central" fill="#111" stroke="#111" stroke-width="0.32">CUX1</text>
<text x="619.1" y="528.1" transform="rotate(61.0 619.1 528.1)" font-size="4.5" font-weight="bold" text-anchor="end" dominant-baseline="central" fill="#111" stroke="#111" stroke-width="0.32">MET</text>
<text x="614.8" y="530.4" transform="rotate(62.6 614.8 530.4)" font-size="4.5" font-weight="bold" text-anchor="end" dominant-baseline="central" fill="#111" stroke="#111" stroke-width="0.32">SMO</text>
<text x="609.8" y="532.9" transform="rotate(64.3 609.8 532.9)" font-size="4.5" font-weight="bold" text-anchor="end" dominant-baseline="central" fill="#111" stroke="#111" stroke-width="0.32">BRAF</text>
<text x="594.2" y="539.5" transform="rotate(69.8 594.2 539.5)" font-size="4.5" font-weight="bold" text-anchor="end" dominant-baseline="central" fill="#111" stroke="#111" stroke-width="0.32">PCM1</text>
<text x="589.8" y="541.1" transform="rotate(71.3 589.8 541.1)" font-size="4.5" font-weight="bold" text-anchor="end" dominant-baseline="central" fill="#111" stroke="#111" stroke-width="0.32">WRN</text>
<text x="584.8" y="542.7" transform="rotate(73.0 584.8 542.7)" font-size="4.5" font-weight="bold" text-anchor="end" dominant-baseline="central" fill="#111" stroke="#111" stroke-width="0.32">NRG1</text>
<text x="579.7" y="544.1" transform="rotate(74.8 579.7 544.1)" font-size="4.5" font-weight="bold" text-anchor="end" dominant-baseline="central" fill="#111" stroke="#111" stroke-width="0.32">FGFR1</text>
<text x="574.4" y="545.5" transform="rotate(76.5 574.4 545.5)" font-size="4.5" font-weight="bold" text-anchor="end" dominant-baseline="central" fill="#111" stroke="#111" stroke-width="0.32">HOOK3</text>
<text x="558.2" y="548.6" transform="rotate(81.8 558.2 548.6)" font-size="4.5" font-weight="bold" text-anchor="end" dominant-baseline="central" fill="#111" stroke="#111" stroke-width="0.32">RNF139</text>
<text x="552.8" y="549.3" transform="rotate(83.6 552.8 549.3)" font-size="4.5" font-weight="bold" text-anchor="end" dominant-baseline="central" fill="#111" stroke="#111" stroke-width="0.32">MYC</text>
<text x="548.0" y="549.8" transform="rotate(85.2 548.0 549.8)" font-size="4.5" font-weight="bold" text-anchor="end" dominant-baseline="central" fill="#111" stroke="#111" stroke-width="0.32">JAK2</text>
<text x="543.0" y="550.1" transform="rotate(86.8 543.0 550.1)" font-size="4.5" font-weight="bold" text-anchor="end" dominant-baseline="central" fill="#111" stroke="#111" stroke-width="0.32">MLLT3</text>
<text x="537.5" y="550.3" transform="rotate(88.6 537.5 550.3)" font-size="4.5" font-weight="bold" text-anchor="end" dominant-baseline="central" fill="#111" stroke="#111" stroke-width="0.32">CDKN2A</text>
<text x="532.1" y="550.4" transform="rotate(270.3 532.1 550.4)" font-size="4.5" font-weight="bold" text-anchor="start" dominant-baseline="central" fill="#111" stroke="#111" stroke-width="0.32">PAX5</text>
<text x="527.4" y="550.3" transform="rotate(271.8 527.4 550.3)" font-size="4.5" font-weight="bold" text-anchor="start" dominant-baseline="central" fill="#111" stroke="#111" stroke-width="0.32">GNAQ</text>
<text x="523.1" y="550.1" transform="rotate(273.2 523.1 550.1)" font-size="4.5" font-weight="bold" text-anchor="start" dominant-baseline="central" fill="#111" stroke="#111" stroke-width="0.32">PTCH1</text>
<text x="518.5" y="549.8" transform="rotate(274.7 518.5 549.8)" font-size="4.5" font-weight="bold" text-anchor="start" dominant-baseline="central" fill="#111" stroke="#111" stroke-width="0.32">ABL1</text>
<text x="513.5" y="549.3" transform="rotate(276.3 513.5 549.3)" font-size="4.5" font-weight="bold" text-anchor="start" dominant-baseline="central" fill="#111" stroke="#111" stroke-width="0.32">TSC1</text>
<text x="508.6" y="548.7" transform="rotate(277.9 508.6 548.7)" font-size="4.5" font-weight="bold" text-anchor="start" dominant-baseline="central" fill="#111" stroke="#111" stroke-width="0.32">NOTCH1</text>
<text x="496.9" y="546.7" transform="rotate(281.7 496.9 546.7)" font-size="4.5" font-weight="bold" text-anchor="start" dominant-baseline="central" fill="#111" stroke="#111" stroke-width="0.32">GATA3</text>
<text x="492.0" y="545.6" transform="rotate(283.4 492.0 545.6)" font-size="4.5" font-weight="bold" text-anchor="start" dominant-baseline="central" fill="#111" stroke="#111" stroke-width="0.32">VIM</text>
<text x="487.1" y="544.4" transform="rotate(285.0 487.1 544.4)" font-size="4.5" font-weight="bold" text-anchor="start" dominant-baseline="central" fill="#111" stroke="#111" stroke-width="0.32">CUL2</text>
<text x="482.1" y="543.0" transform="rotate(286.6 482.1 543.0)" font-size="4.5" font-weight="bold" text-anchor="start" dominant-baseline="central" fill="#111" stroke="#111" stroke-width="0.32">RET</text>
<text x="477.6" y="541.5" transform="rotate(288.2 477.6 541.5)" font-size="4.5" font-weight="bold" text-anchor="start" dominant-baseline="central" fill="#111" stroke="#111" stroke-width="0.32">PTEN</text>
<text x="472.6" y="539.8" transform="rotate(289.9 472.6 539.8)" font-size="4.5" font-weight="bold" text-anchor="start" dominant-baseline="central" fill="#111" stroke="#111" stroke-width="0.32">SUFU</text>
<text x="467.9" y="538.0" transform="rotate(291.5 467.9 538.0)" font-size="4.5" font-weight="bold" text-anchor="start" dominant-baseline="central" fill="#111" stroke="#111" stroke-width="0.32">TCF7L2</text>
<text x="462.9" y="536.0" transform="rotate(293.3 462.9 536.0)" font-size="4.5" font-weight="bold" text-anchor="start" dominant-baseline="central" fill="#111" stroke="#111" stroke-width="0.32">BAG3</text>
<text x="458.2" y="533.8" transform="rotate(294.9 458.2 533.8)" font-size="4.5" font-weight="bold" text-anchor="start" dominant-baseline="central" fill="#111" stroke="#111" stroke-width="0.32">FGFR2</text>
<text x="451.2" y="530.4" transform="rotate(297.4 451.2 530.4)" font-size="4.5" font-weight="bold" text-anchor="start" dominant-baseline="central" fill="#111" stroke="#111" stroke-width="0.32">HRAS</text>
<text x="447.1" y="528.2" transform="rotate(298.9 447.1 528.2)" font-size="4.5" font-weight="bold" text-anchor="start" dominant-baseline="central" fill="#111" stroke="#111" stroke-width="0.32">NUP98</text>
<text x="443.0" y="525.9" transform="rotate(300.4 443.0 525.9)" font-size="4.5" font-weight="bold" text-anchor="start" dominant-baseline="central" fill="#111" stroke="#111" stroke-width="0.32">LOC100130872</text>
<text x="439.1" y="523.5" transform="rotate(301.9 439.1 523.5)" font-size="4.5" font-weight="bold" text-anchor="start" dominant-baseline="central" fill="#111" stroke="#111" stroke-width="0.32">LMO1</text>
<text x="435.2" y="521.0" transform="rotate(303.4 435.2 521.0)" font-size="4.5" font-weight="bold" text-anchor="start" dominant-baseline="central" fill="#111" stroke="#111" stroke-width="0.32">WT1</text>
<text x="431.3" y="518.4" transform="rotate(304.9 431.3 518.4)" font-size="4.5" font-weight="bold" text-anchor="start" dominant-baseline="central" fill="#111" stroke="#111" stroke-width="0.32">LMO2</text>
<text x="427.5" y="515.7" transform="rotate(306.4 427.5 515.7)" font-size="4.5" font-weight="bold" text-anchor="start" dominant-baseline="central" fill="#111" stroke="#111" stroke-width="0.32">CD44</text>
<text x="423.8" y="512.9" transform="rotate(307.9 423.8 512.9)" font-size="4.5" font-weight="bold" text-anchor="start" dominant-baseline="central" fill="#111" stroke="#111" stroke-width="0.32">SDHAF2</text>
<text x="420.2" y="510.0" transform="rotate(309.4 420.2 510.0)" font-size="4.5" font-weight="bold" text-anchor="start" dominant-baseline="central" fill="#111" stroke="#111" stroke-width="0.32">MEN1</text>
<text x="416.7" y="507.0" transform="rotate(310.9 416.7 507.0)" font-size="4.5" font-weight="bold" text-anchor="start" dominant-baseline="central" fill="#111" stroke="#111" stroke-width="0.32">CCND1</text>
<text x="411.0" y="501.8" transform="rotate(313.4 411.0 501.8)" font-size="4.5" font-weight="bold" text-anchor="start" dominant-baseline="central" fill="#111" stroke="#111" stroke-width="0.32">CCND2</text>
<text x="406.7" y="497.6" transform="rotate(315.4 406.7 497.6)" font-size="4.5" font-weight="bold" text-anchor="start" dominant-baseline="central" fill="#111" stroke="#111" stroke-width="0.32">KRAS</text>
<text x="403.3" y="494.1" transform="rotate(316.9 403.3 494.1)" font-size="4.5" font-weight="bold" text-anchor="start" dominant-baseline="central" fill="#111" stroke="#111" stroke-width="0.32">MLL2</text>
<text x="400.0" y="490.4" transform="rotate(318.6 400.0 490.4)" font-size="4.5" font-weight="bold" text-anchor="start" dominant-baseline="central" fill="#111" stroke="#111" stroke-width="0.32">ACVR1B</text>
<text x="397.0" y="487.0" transform="rotate(320.0 397.0 487.0)" font-size="4.5" font-weight="bold" text-anchor="start" dominant-baseline="central" fill="#111" stroke="#111" stroke-width="0.32">SMUG1</text>
<text x="393.9" y="483.2" transform="rotate(321.6 393.9 483.2)" font-size="4.5" font-weight="bold" text-anchor="start" dominant-baseline="central" fill="#111" stroke="#111" stroke-width="0.32">ERBB3</text>
<text x="391.1" y="479.5" transform="rotate(323.1 391.1 479.5)" font-size="4.5" font-weight="bold" text-anchor="start" dominant-baseline="central" fill="#111" stroke="#111" stroke-width="0.32">CDK4</text>
<text x="388.4" y="475.8" transform="rotate(324.6 388.4 475.8)" font-size="4.5" font-weight="bold" text-anchor="start" dominant-baseline="central" fill="#111" stroke="#111" stroke-width="0.32">PTPN11</text>
<text x="377.1" y="457.8" transform="rotate(331.4 377.1 457.8)" font-size="4.5" font-weight="bold" text-anchor="start" dominant-baseline="central" fill="#111" stroke="#111" stroke-width="0.32">CDX2</text>
<text x="374.7" y="453.2" transform="rotate(333.1 374.7 453.2)" font-size="4.5" font-weight="bold" text-anchor="start" dominant-baseline="central" fill="#111" stroke="#111" stroke-width="0.32">FLT3</text>
<text x="372.5" y="448.8" transform="rotate(334.7 372.5 448.8)" font-size="4.5" font-weight="bold" text-anchor="start" dominant-baseline="central" fill="#111" stroke="#111" stroke-width="0.32">BRCA2</text>
<text x="370.6" y="444.5" transform="rotate(336.2 370.6 444.5)" font-size="4.5" font-weight="bold" text-anchor="start" dominant-baseline="central" fill="#111" stroke="#111" stroke-width="0.32">RB1</text>
<text x="365.5" y="431.6" transform="rotate(340.7 365.5 431.6)" font-size="4.5" font-weight="bold" text-anchor="start" dominant-baseline="central" fill="#111" stroke="#111" stroke-width="0.32">F10</text>
<text x="357.8" y="401.4" transform="rotate(350.8 357.8 401.4)" font-size="4.5" font-weight="bold" text-anchor="start" dominant-baseline="central" fill="#111" stroke="#111" stroke-width="0.32">TSHR</text>
<text x="356.7" y="393.9" transform="rotate(353.2 356.7 393.9)" font-size="4.5" font-weight="bold" text-anchor="start" dominant-baseline="central" fill="#111" stroke="#111" stroke-width="0.32">AKT1</text>
<text x="355.5" y="370.2" transform="rotate(360.9 355.5 370.2)" font-size="4.5" font-weight="bold" text-anchor="start" dominant-baseline="central" fill="#111" stroke="#111" stroke-width="0.32">B2M</text>
<text x="355.6" y="365.7" transform="rotate(362.3 355.6 365.7)" font-size="4.5" font-weight="bold" text-anchor="start" dominant-baseline="central" fill="#111" stroke="#111" stroke-width="0.32">CA12</text>
<text x="355.9" y="360.3" transform="rotate(364.1 355.9 360.3)" font-size="4.5" font-weight="bold" text-anchor="start" dominant-baseline="central" fill="#111" stroke="#111" stroke-width="0.32">CYP1A1</text>
<text x="356.3" y="355.9" transform="rotate(365.5 356.3 355.9)" font-size="4.5" font-weight="bold" text-anchor="start" dominant-baseline="central" fill="#111" stroke="#111" stroke-width="0.32">IDH2</text>
<text x="357.0" y="349.7" transform="rotate(367.5 357.0 349.7)" font-size="4.5" font-weight="bold" text-anchor="start" dominant-baseline="central" fill="#111" stroke="#111" stroke-width="0.32">TSC2</text>
<text x="357.7" y="345.0" transform="rotate(369.0 357.7 345.0)" font-size="4.5" font-weight="bold" text-anchor="start" dominant-baseline="central" fill="#111" stroke="#111" stroke-width="0.32">SOCS1</text>
<text x="358.5" y="340.3" transform="rotate(370.6 358.5 340.3)" font-size="4.5" font-weight="bold" text-anchor="start" dominant-baseline="central" fill="#111" stroke="#111" stroke-width="0.32">MVP</text>
<text x="359.7" y="334.4" transform="rotate(372.5 359.7 334.4)" font-size="4.5" font-weight="bold" text-anchor="start" dominant-baseline="central" fill="#111" stroke="#111" stroke-width="0.32">CYLD</text>
<text x="360.8" y="330.0" transform="rotate(374.0 360.8 330.0)" font-size="4.5" font-weight="bold" text-anchor="start" dominant-baseline="central" fill="#111" stroke="#111" stroke-width="0.32">SLC6A2</text>
<text x="361.9" y="325.6" transform="rotate(375.5 361.9 325.6)" font-size="4.5" font-weight="bold" text-anchor="start" dominant-baseline="central" fill="#111" stroke="#111" stroke-width="0.32">CES3</text>
<text x="363.9" y="318.9" transform="rotate(377.7 363.9 318.9)" font-size="4.5" font-weight="bold" text-anchor="start" dominant-baseline="central" fill="#111" stroke="#111" stroke-width="0.32">TNFSF13</text>
<text x="365.5" y="314.1" transform="rotate(379.3 365.5 314.1)" font-size="4.5" font-weight="bold" text-anchor="start" dominant-baseline="central" fill="#111" stroke="#111" stroke-width="0.32">TP53</text>
<text x="367.3" y="309.3" transform="rotate(381.0 367.3 309.3)" font-size="4.5" font-weight="bold" text-anchor="start" dominant-baseline="central" fill="#111" stroke="#111" stroke-width="0.32">MAP2K4</text>
<text x="369.2" y="304.5" transform="rotate(382.6 369.2 304.5)" font-size="4.5" font-weight="bold" text-anchor="start" dominant-baseline="central" fill="#111" stroke="#111" stroke-width="0.32">FLCN</text>
<text x="371.2" y="299.9" transform="rotate(384.3 371.2 299.9)" font-size="4.5" font-weight="bold" text-anchor="start" dominant-baseline="central" fill="#111" stroke="#111" stroke-width="0.32">TMEM97</text>
<text x="375.3" y="291.5" transform="rotate(387.3 375.3 291.5)" font-size="4.5" font-weight="bold" text-anchor="start" dominant-baseline="central" fill="#111" stroke="#111" stroke-width="0.32">MIB1</text>
<text x="377.7" y="287.0" transform="rotate(388.9 377.7 287.0)" font-size="4.5" font-weight="bold" text-anchor="start" dominant-baseline="central" fill="#111" stroke="#111" stroke-width="0.32">SMAD4</text>
<text x="380.2" y="282.6" transform="rotate(390.6 380.2 282.6)" font-size="4.5" font-weight="bold" text-anchor="start" dominant-baseline="central" fill="#111" stroke="#111" stroke-width="0.32">DCC</text>
<text x="382.8" y="278.3" transform="rotate(392.2 382.8 278.3)" font-size="4.5" font-weight="bold" text-anchor="start" dominant-baseline="central" fill="#111" stroke="#111" stroke-width="0.32">GRP</text>
<text x="385.6" y="274.0" transform="rotate(393.9 385.6 274.0)" font-size="4.5" font-weight="bold" text-anchor="start" dominant-baseline="central" fill="#111" stroke="#111" stroke-width="0.32">BCL2</text>
<text x="391.7" y="265.5" transform="rotate(397.2 391.7 265.5)" font-size="4.5" font-weight="bold" text-anchor="start" dominant-baseline="central" fill="#111" stroke="#111" stroke-width="0.32">STK11</text>
<text x="394.9" y="261.3" transform="rotate(398.9 394.9 261.3)" font-size="4.5" font-weight="bold" text-anchor="start" dominant-baseline="central" fill="#111" stroke="#111" stroke-width="0.32">RPS15</text>
<text x="398.4" y="257.2" transform="rotate(400.7 398.4 257.2)" font-size="4.5" font-weight="bold" text-anchor="start" dominant-baseline="central" fill="#111" stroke="#111" stroke-width="0.32">DNM2</text>
<text x="407.8" y="247.1" transform="rotate(405.1 407.8 247.1)" font-size="4.5" font-weight="bold" text-anchor="start" dominant-baseline="central" fill="#111" stroke="#111" stroke-width="0.32">SMOX</text>
<text x="411.0" y="243.9" transform="rotate(406.6 411.0 243.9)" font-size="4.5" font-weight="bold" text-anchor="start" dominant-baseline="central" fill="#111" stroke="#111" stroke-width="0.32">PCNA</text>
<text x="414.4" y="240.8" transform="rotate(408.1 414.4 240.8)" font-size="4.5" font-weight="bold" text-anchor="start" dominant-baseline="central" fill="#111" stroke="#111" stroke-width="0.32">ASXL1</text>
<text x="418.0" y="237.7" transform="rotate(409.6 418.0 237.7)" font-size="4.5" font-weight="bold" text-anchor="start" dominant-baseline="central" fill="#111" stroke="#111" stroke-width="0.32">SRC</text>
<text x="432.4" y="226.7" transform="rotate(415.5 432.4 226.7)" font-size="4.5" font-weight="bold" text-anchor="start" dominant-baseline="central" fill="#111" stroke="#111" stroke-width="0.32">RUNX1</text>
<text x="436.9" y="223.7" transform="rotate(417.2 436.9 223.7)" font-size="4.5" font-weight="bold" text-anchor="start" dominant-baseline="central" fill="#111" stroke="#111" stroke-width="0.32">ERG</text>
<text x="446.0" y="218.2" transform="rotate(420.6 446.0 218.2)" font-size="4.5" font-weight="bold" text-anchor="start" dominant-baseline="central" fill="#111" stroke="#111" stroke-width="0.32">SMARCB1</text>
<text x="450.5" y="215.7" transform="rotate(422.3 450.5 215.7)" font-size="4.5" font-weight="bold" text-anchor="start" dominant-baseline="central" fill="#111" stroke="#111" stroke-width="0.32">NF2</text>
<text x="457.2" y="212.4" transform="rotate(424.7 457.2 212.4)" font-size="4.5" font-weight="bold" text-anchor="start" dominant-baseline="central" fill="#111" stroke="#111" stroke-width="0.32">CRLF2</text>
<text x="472.0" y="206.2" transform="rotate(429.9 472.0 206.2)" font-size="4.5" font-weight="bold" text-anchor="start" dominant-baseline="central" fill="#111" stroke="#111" stroke-width="0.32">GATA1</text>
<text x="477.3" y="204.4" transform="rotate(431.7 477.3 204.4)" font-size="4.5" font-weight="bold" text-anchor="start" dominant-baseline="central" fill="#111" stroke="#111" stroke-width="0.32">TFE3</text>
<text x="482.3" y="202.8" transform="rotate(433.4 482.3 202.8)" font-size="4.5" font-weight="bold" text-anchor="start" dominant-baseline="central" fill="#111" stroke="#111" stroke-width="0.32">SSX2</text>
<text x="487.1" y="201.4" transform="rotate(435.0 487.1 201.4)" font-size="4.5" font-weight="bold" text-anchor="start" dominant-baseline="central" fill="#111" stroke="#111" stroke-width="0.32">FAM123B</text>
<text x="491.7" y="200.3" transform="rotate(436.5 491.7 200.3)" font-size="4.5" font-weight="bold" text-anchor="start" dominant-baseline="central" fill="#111" stroke="#111" stroke-width="0.32">ATRX</text>
<text x="506.2" y="197.4" transform="rotate(441.3 506.2 197.4)" font-size="4.5" font-weight="bold" text-anchor="start" dominant-baseline="central" fill="#111" stroke="#111" stroke-width="0.32">MTCP1</text>
<text x="403.5" y="378" font-size="30.5" font-weight="bold" fill="#000" textLength="242" lengthAdjust="spacingAndGlyphs">SomamiR DB 2.0</text>
</g>
<g id="menu">
<rect class="bx" x="120.1" y="115.1" width="186.8" height="86.8"/>
<rect class="bx" x="120.1" y="221.6" width="186.8" height="113.3"/>
<rect class="bx" x="120.1" y="361.6" width="183.8" height="126.8"/>
<rect class="bx" x="120.1" y="515.6" width="186.8" height="86.3"/>
<rect class="bx" x="120.1" y="628.6" width="193.3" height="59.8"/>
<rect class="bx" x="424.1" y="635.1" width="213.3" height="53.3"/>
<rect class="bx" x="720.1" y="628.6" width="193.8" height="59.8"/>
<rect class="bx" x="745.1" y="189.1" width="170.8" height="152.8"/>
<rect class="bx" x="748.1" y="381.6" width="167.3" height="152.8"/>
<a href="#"><text x="136.8" y="152.0" font-size="17.1" font-weight="bold" fill="#0a0acc" stroke="#0a0acc" stroke-width="0.3" textLength="156.7" lengthAdjust="spacingAndGlyphs">Somatic mutations</text><rect x="132.5" y="154.8" width="161.0" height="1.8" fill="#0a0acc"/></a>
<a href="#"><text x="128.5" y="176.0" font-size="17.1" font-weight="bold" fill="#0a0acc" stroke="#0a0acc" stroke-width="0.3" textLength="169.0" lengthAdjust="spacingAndGlyphs">in miRNA sequences</text><rect x="128.5" y="178.8" width="169.0" height="1.8" fill="#0a0acc"/></a>
<a href="#"><text x="135.0" y="247.5" font-size="17.1" font-weight="bold" fill="#0a0acc" stroke="#0a0acc" stroke-width="0.3" textLength="156.0" lengthAdjust="spacingAndGlyphs">Somatic mutations</text><rect x="135.0" y="250.3" width="156.0" height="1.8" fill="#0a0acc"/></a>
<a href="#"><text x="140.0" y="271.5" font-size="17.1" font-weight="bold" fill="#0a0acc" stroke="#0a0acc" stroke-width="0.3" textLength="146.0" lengthAdjust="spacingAndGlyphs">in experimentally</text><rect x="140.0" y="274.3" width="146.0" height="1.8" fill="#0a0acc"/></a>
<a href="#"><text x="141.5" y="295.5" font-size="17.1" font-weight="bold" fill="#0a0acc" stroke="#0a0acc" stroke-width="0.3" textLength="143.0" lengthAdjust="spacingAndGlyphs">identified miRNA</text><rect x="141.5" y="298.3" width="143.0" height="1.8" fill="#0a0acc"/></a>
<a href="#"><text x="135.5" y="319.5" font-size="17.1" font-weight="bold" fill="#0a0acc" stroke="#0a0acc" stroke-width="0.3" textLength="155.0" lengthAdjust="spacingAndGlyphs">target sites: CLASH</text><rect x="135.5" y="322.3" width="155.0" height="1.8" fill="#0a0acc"/></a>
<a href="#"><text x="133.0" y="383.0" font-size="17.1" font-weight="bold" fill="#0a0acc" stroke="#0a0acc" stroke-width="0.3" textLength="156.0" lengthAdjust="spacingAndGlyphs">Somatic mutations</text><rect x="133.0" y="385.8" width="156.0" height="1.8" fill="#0a0acc"/></a>
<a href="#"><text x="138.0" y="407.0" font-size="17.1" font-weight="bold" fill="#0a0acc" stroke="#0a0acc" stroke-width="0.3" textLength="146.0" lengthAdjust="spacingAndGlyphs">in experimentally</text><rect x="138.0" y="409.8" width="146.0" height="1.8" fill="#0a0acc"/></a>
<a href="#"><text x="139.5" y="431.0" font-size="17.1" font-weight="bold" fill="#0a0acc" stroke="#0a0acc" stroke-width="0.3" textLength="143.0" lengthAdjust="spacingAndGlyphs">identified miRNA</text><rect x="139.5" y="433.8" width="143.0" height="1.8" fill="#0a0acc"/></a>
<a href="#"><text x="140.5" y="455.0" font-size="17.1" font-weight="bold" fill="#0a0acc" stroke="#0a0acc" stroke-width="0.3" textLength="141.0" lengthAdjust="spacingAndGlyphs">target sites: PAR-</text><rect x="140.5" y="457.8" width="141.0" height="1.8" fill="#0a0acc"/></a>
<a href="#"><text x="151.0" y="479.0" font-size="17.1" font-weight="bold" fill="#0a0acc" stroke="#0a0acc" stroke-width="0.3" textLength="120.0" lengthAdjust="spacingAndGlyphs">CLIP, HITS-CLIP</text><rect x="151.0" y="481.8" width="120.0" height="1.8" fill="#0a0acc"/></a>
<a href="#"><text x="136.8" y="540.5" font-size="17.1" font-weight="bold" fill="#0a0acc" stroke="#0a0acc" stroke-width="0.3" textLength="156.7" lengthAdjust="spacingAndGlyphs">Somatic mutations</text><rect x="132.5" y="543.3" width="161.0" height="1.8" fill="#0a0acc"/></a>
<a href="#"><text x="132.0" y="564.5" font-size="17.1" font-weight="bold" fill="#0a0acc" stroke="#0a0acc" stroke-width="0.3" textLength="162.0" lengthAdjust="spacingAndGlyphs">in predicted miRNA</text><rect x="132.0" y="567.3" width="162.0" height="1.8" fill="#0a0acc"/></a>
<a href="#"><text x="167.0" y="588.5" font-size="17.1" font-weight="bold" fill="#0a0acc" stroke="#0a0acc" stroke-width="0.3" textLength="92.0" lengthAdjust="spacingAndGlyphs">target sites</text><rect x="167.0" y="591.3" width="92.0" height="1.8" fill="#0a0acc"/></a>
<a href="#"><text x="791.8" y="210.7" font-size="17.1" font-weight="bold" fill="#0a0acc" stroke="#0a0acc" stroke-width="0.3" textLength="80.0" lengthAdjust="spacingAndGlyphs">Biological</text><rect x="791.8" y="213.5" width="80.0" height="1.8" fill="#0a0acc"/></a>
<a href="#"><text x="790.0" y="234.7" font-size="17.1" font-weight="bold" fill="#0a0acc" stroke="#0a0acc" stroke-width="0.3" textLength="80.0" lengthAdjust="spacingAndGlyphs">pathways</text><rect x="790.0" y="237.5" width="80.0" height="1.8" fill="#0a0acc"/></a>
<a href="#"><text x="779.5" y="258.7" font-size="17.1" font-weight="bold" fill="#0a0acc" stroke="#0a0acc" stroke-width="0.3" textLength="101.0" lengthAdjust="spacingAndGlyphs">impacted by</text><rect x="779.5" y="261.5" width="101.0" height="1.8" fill="#0a0acc"/></a>
<a href="#"><text x="753.0" y="282.7" font-size="17.1" font-weight="bold" fill="#0a0acc" stroke="#0a0acc" stroke-width="0.3" textLength="154.0" lengthAdjust="spacingAndGlyphs">somatic mutations</text><rect x="753.0" y="285.5" width="154.0" height="1.8" fill="#0a0acc"/></a>
<a href="#"><text x="764.0" y="306.7" font-size="17.1" font-weight="bold" fill="#0a0acc" stroke="#0a0acc" stroke-width="0.3" textLength="132.0" lengthAdjust="spacingAndGlyphs">in miRNA target</text><rect x="764.0" y="309.5" width="132.0" height="1.8" fill="#0a0acc"/></a>
<a href="#"><text x="811.0" y="330.7" font-size="17.1" font-weight="bold" fill="#0a0acc" stroke="#0a0acc" stroke-width="0.3" textLength="38.0" lengthAdjust="spacingAndGlyphs">sites</text><rect x="811.0" y="333.5" width="38.0" height="1.8" fill="#0a0acc"/></a>
<a href="#"><text x="804.0" y="403.8" font-size="17.1" font-weight="bold" fill="#0a0acc" stroke="#0a0acc" stroke-width="0.3" textLength="57.0" lengthAdjust="spacingAndGlyphs">Cancer</text><rect x="804.0" y="406.6" width="57.0" height="1.8" fill="#0a0acc"/></a>
<a href="#"><text x="761.5" y="427.8" font-size="17.1" font-weight="bold" fill="#0a0acc" stroke="#0a0acc" stroke-width="0.3" textLength="139.0" lengthAdjust="spacingAndGlyphs">associated genes</text><rect x="761.5" y="430.6" width="139.0" height="1.8" fill="#0a0acc"/></a>
<a href="#"><text x="780.5" y="451.8" font-size="17.1" font-weight="bold" fill="#0a0acc" stroke="#0a0acc" stroke-width="0.3" textLength="101.0" lengthAdjust="spacingAndGlyphs">that contain</text><rect x="780.5" y="454.6" width="101.0" height="1.8" fill="#0a0acc"/></a>
<a href="#"><text x="770.0" y="475.8" font-size="17.1" font-weight="bold" fill="#0a0acc" stroke="#0a0acc" stroke-width="0.3" textLength="122.0" lengthAdjust="spacingAndGlyphs">miRNA related</text><rect x="770.0" y="478.6" width="122.0" height="1.8" fill="#0a0acc"/></a>
<a href="#"><text x="798.0" y="499.8" font-size="17.1" font-weight="bold" fill="#0a0acc" stroke="#0a0acc" stroke-width="0.3" textLength="66.0" lengthAdjust="spacingAndGlyphs">somatic</text><rect x="798.0" y="502.6" width="66.0" height="1.8" fill="#0a0acc"/></a>
<a href="#"><text x="788.5" y="523.8" font-size="17.1" font-weight="bold" fill="#0a0acc" stroke="#0a0acc" stroke-width="0.3" textLength="85.0" lengthAdjust="spacingAndGlyphs">mutations</text><rect x="788.5" y="526.6" width="85.0" height="1.8" fill="#0a0acc"/></a>
<a href="#"><text x="185.0" y="670.0" font-size="31.5" font-weight="normal" fill="#0000f0" stroke="#0000f0" stroke-width="0.3" textLength="66.0" lengthAdjust="spacingAndGlyphs">Help</text><rect x="185.0" y="673.9" width="66.0" height="2.4" fill="#0000f0"/></a>
<a href="#"><text x="483.5" y="673.0" font-size="31.5" font-weight="normal" fill="#0000f0" stroke="#0000f0" stroke-width="0.3" textLength="97.0" lengthAdjust="spacingAndGlyphs">Search</text><rect x="483.5" y="676.9" width="97.0" height="2.4" fill="#0000f0"/></a>
<a href="#"><text x="744.0" y="670.0" font-size="31.5" font-weight="normal" fill="#0000f0" stroke="#0000f0" stroke-width="0.3" textLength="149.0" lengthAdjust="spacingAndGlyphs">Download</text><rect x="744.0" y="673.9" width="149.0" height="2.4" fill="#0000f0"/></a>
</g>
</svg>
</body></html>
